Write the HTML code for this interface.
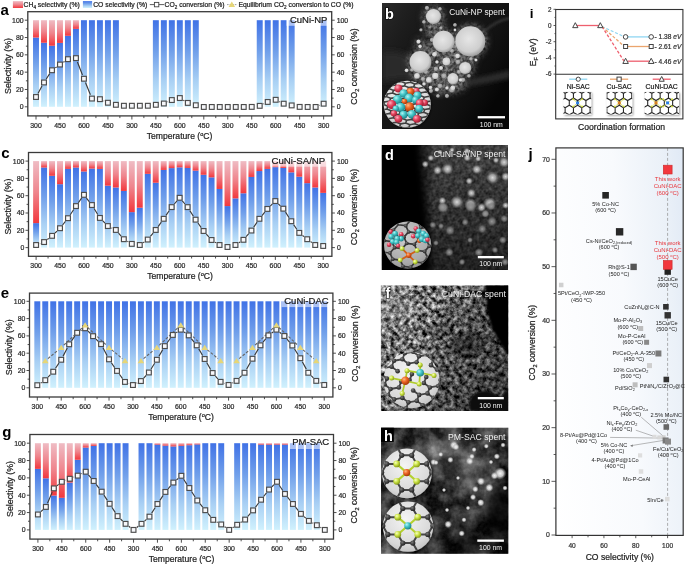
<!DOCTYPE html>
<html><head><meta charset="utf-8"><style>
html,body{margin:0;padding:0;background:#fff;}
body{width:685px;height:565px;overflow:hidden;position:relative;font-family:"Liberation Sans", sans-serif;}
svg{position:absolute;left:0;top:0;will-change:transform;}
</style></head><body>
<svg width="685" height="565" viewBox="0 0 685 565" font-family='"Liberation Sans", sans-serif'>
<defs>
<linearGradient id="gb" x1="0" y1="0" x2="0" y2="1">
 <stop offset="0" stop-color="#4072e6"/>
 <stop offset="0.35" stop-color="#6f9eea"/>
 <stop offset="0.7" stop-color="#a9d0f4"/>
 <stop offset="1" stop-color="#d0f1fd"/>
</linearGradient>
<linearGradient id="gr" x1="0" y1="0" x2="0" y2="1">
 <stop offset="0" stop-color="#efbcc4"/>
 <stop offset="0.5" stop-color="#ef858d"/>
 <stop offset="1" stop-color="#f2383d"/>
</linearGradient>

<radialGradient id="ballk" cx="0.38" cy="0.35" r="0.7"><stop offset="0" stop-color="#7a7a7a"/><stop offset="0.5" stop-color="#444"/><stop offset="1" stop-color="#1e1e1e"/></radialGradient>
<radialGradient id="ballc" cx="0.35" cy="0.32" r="0.72"><stop offset="0" stop-color="#b4f6f6"/><stop offset="0.45" stop-color="#44c6c8"/><stop offset="1" stop-color="#1c7c84"/></radialGradient>
<radialGradient id="ballr" cx="0.35" cy="0.32" r="0.72"><stop offset="0" stop-color="#ffb0c0"/><stop offset="0.45" stop-color="#e4445e"/><stop offset="1" stop-color="#9a1a30"/></radialGradient>
<radialGradient id="ballo" cx="0.35" cy="0.32" r="0.72"><stop offset="0" stop-color="#ffb880"/><stop offset="0.45" stop-color="#ec6424"/><stop offset="1" stop-color="#a03808"/></radialGradient>
<radialGradient id="bally" cx="0.35" cy="0.32" r="0.72"><stop offset="0" stop-color="#f6ffc0"/><stop offset="0.45" stop-color="#cce446"/><stop offset="1" stop-color="#809414"/></radialGradient>
<radialGradient id="insetbg" cx="0.45" cy="0.35" r="0.7"><stop offset="0" stop-color="#f4f4f4"/><stop offset="0.75" stop-color="#d8d8d8"/><stop offset="1" stop-color="#bdbdbd"/></radialGradient>
<radialGradient id="insetbg2" cx="0.45" cy="0.35" r="0.7"><stop offset="0" stop-color="#cdcdcd"/><stop offset="0.75" stop-color="#aaaaaa"/><stop offset="1" stop-color="#909090"/></radialGradient>
<radialGradient id="np" cx="0.45" cy="0.42" r="0.58"><stop offset="0" stop-color="#e6e6e6"/><stop offset="0.75" stop-color="#cecece"/><stop offset="1" stop-color="#a0a0a0"/></radialGradient>
<radialGradient id="np2" cx="0.45" cy="0.42" r="0.55"><stop offset="0" stop-color="#bdbdbd"/><stop offset="0.7" stop-color="#9c9c9c"/><stop offset="1" stop-color="#6a6a6a" stop-opacity="0.6"/></radialGradient>
<radialGradient id="dot" cx="0.5" cy="0.5" r="0.5"><stop offset="0" stop-color="#f6f6f6"/><stop offset="0.5" stop-color="#d4d4d4" stop-opacity="0.92"/><stop offset="1" stop-color="#999" stop-opacity="0"/></radialGradient>
<radialGradient id="dotd" cx="0.5" cy="0.5" r="0.5"><stop offset="0" stop-color="#dadada"/><stop offset="0.5" stop-color="#b2b2b2" stop-opacity="0.8"/><stop offset="1" stop-color="#777" stop-opacity="0"/></radialGradient>
<radialGradient id="dotdim" cx="0.5" cy="0.5" r="0.5"><stop offset="0" stop-color="#989898"/><stop offset="0.55" stop-color="#7c7c7c" stop-opacity="0.75"/><stop offset="1" stop-color="#555" stop-opacity="0"/></radialGradient>
<radialGradient id="soft" cx="0.5" cy="0.5" r="0.5"><stop offset="0" stop-color="#fff"/><stop offset="0.6" stop-color="#fff" stop-opacity="0.75"/><stop offset="1" stop-color="#fff" stop-opacity="0"/></radialGradient>
<radialGradient id="softk" cx="0.5" cy="0.5" r="0.5"><stop offset="0" stop-color="#000"/><stop offset="0.55" stop-color="#000" stop-opacity="0.8"/><stop offset="1" stop-color="#000" stop-opacity="0"/></radialGradient>
<filter id="blur05"><feGaussianBlur stdDeviation="0.5"/></filter>
<filter id="blur1"><feGaussianBlur stdDeviation="1"/></filter>
<filter id="blur2" x="-30%" y="-30%" width="160%" height="160%"><feGaussianBlur stdDeviation="2"/></filter>
<filter id="blur3" x="-30%" y="-30%" width="160%" height="160%"><feGaussianBlur stdDeviation="3"/></filter>
<filter id="blur5" x="-40%" y="-40%" width="180%" height="180%"><feGaussianBlur stdDeviation="5"/></filter>
<filter id="shadow" x="-20%" y="-20%" width="140%" height="140%"><feGaussianBlur in="SourceAlpha" stdDeviation="1.2"/><feOffset dx="0.6" dy="0.8" result="b"/><feFlood flood-color="#000" flood-opacity="0.5"/><feComposite in2="b" operator="in"/><feMerge><feMergeNode/><feMergeNode in="SourceGraphic"/></feMerge></filter>
<filter id="texB" x="0" y="0" width="100%" height="100%" color-interpolation-filters="sRGB"><feTurbulence type="fractalNoise" baseFrequency="0.35" numOctaves="2" seed="4"/><feColorMatrix type="matrix" values="0.7 0 0 0 0.010000000000000009  0.7 0 0 0 0.010000000000000009  0.7 0 0 0 0.010000000000000009  0 0 0 0 1"/><feGaussianBlur stdDeviation="0.5"/></filter><filter id="texD" x="0" y="0" width="100%" height="100%" color-interpolation-filters="sRGB"><feTurbulence type="fractalNoise" baseFrequency="0.25" numOctaves="3" seed="9"/><feColorMatrix type="matrix" values="0.34 0 0 0 0.03999999999999998  0.34 0 0 0 0.03999999999999998  0.34 0 0 0 0.03999999999999998  0 0 0 0 1"/><feGaussianBlur stdDeviation="0.5"/></filter><filter id="texF" x="0" y="0" width="100%" height="100%" color-interpolation-filters="sRGB"><feTurbulence type="fractalNoise" baseFrequency="0.22" numOctaves="3" seed="21"/><feColorMatrix type="matrix" values="1.75 0 0 0 -0.405  1.75 0 0 0 -0.405  1.75 0 0 0 -0.405  0 0 0 0 1"/></filter><filter id="texH" x="0" y="0" width="100%" height="100%" color-interpolation-filters="sRGB"><feTurbulence type="fractalNoise" baseFrequency="0.05" numOctaves="4" seed="13"/><feColorMatrix type="matrix" values="1.2 0 0 0 -0.42  1.2 0 0 0 -0.42  1.2 0 0 0 -0.42  0 0 0 0 1"/></filter><filter id="texH2" x="0" y="0" width="100%" height="100%" color-interpolation-filters="sRGB"><feTurbulence type="fractalNoise" baseFrequency="0.3" numOctaves="2" seed="17"/><feColorMatrix type="matrix" values="0.6 0 0 0 -0.09999999999999998  0.6 0 0 0 -0.09999999999999998  0.6 0 0 0 -0.09999999999999998  0 0 0 0 1"/></filter>
<linearGradient id="bbg" x1="0" y1="0" x2="1" y2="0.6"><stop offset="0" stop-color="#2e2e2e" stop-opacity="0.9"/><stop offset="0.4" stop-color="#1c1c1c" stop-opacity="0"/><stop offset="1" stop-color="#030303" stop-opacity="0.85"/></linearGradient>
<linearGradient id="dleft" x1="0" y1="0" x2="1" y2="0"><stop offset="0" stop-color="#020202"/><stop offset="0.25" stop-color="#030303"/><stop offset="0.31" stop-color="#000" stop-opacity="0.65"/><stop offset="0.42" stop-color="#000" stop-opacity="0"/><stop offset="1" stop-color="#000" stop-opacity="0"/></linearGradient>
<linearGradient id="dshade" x1="0" y1="0" x2="0" y2="1"><stop offset="0" stop-color="#fff" stop-opacity="0.06"/><stop offset="0.45" stop-color="#000" stop-opacity="0.05"/><stop offset="1" stop-color="#000" stop-opacity="0.4"/></linearGradient>
<linearGradient id="fshade" x1="0" y1="0" x2="1" y2="0.5"><stop offset="0" stop-color="#fff" stop-opacity="0.2"/><stop offset="0.35" stop-color="#000" stop-opacity="0.05"/><stop offset="0.7" stop-color="#000" stop-opacity="0.35"/><stop offset="1" stop-color="#000" stop-opacity="0.5"/></linearGradient>
<linearGradient id="hshade" x1="0" y1="0" x2="1" y2="1"><stop offset="0" stop-color="#fff" stop-opacity="0.05"/><stop offset="0.6" stop-color="#000" stop-opacity="0.1"/><stop offset="1" stop-color="#000" stop-opacity="0.55"/></linearGradient>

<linearGradient id="jbg" gradientUnits="userSpaceOnUse" x1="556" y1="535" x2="713.7" y2="522.1"><stop offset="0" stop-color="#ffffff"/><stop offset="0.55" stop-color="#f8fafd"/><stop offset="0.85" stop-color="#ebf1f8"/><stop offset="1" stop-color="#e0e9f5"/></linearGradient>
<filter id="tshadow" x="-20%" y="-20%" width="150%" height="150%"><feGaussianBlur in="SourceAlpha" stdDeviation="1"/><feOffset dx="1" dy="1.2" result="b"/><feFlood flood-color="#000" flood-opacity="0.4"/><feComposite in2="b" operator="in"/><feMerge><feMergeNode/><feMergeNode in="SourceGraphic"/></feMerge></filter>
</defs>
<rect x="33.02" y="37.52" width="5.95" height="69.28" fill="url(#gb)"/>
<rect x="33.02" y="20.2" width="5.95" height="17.32" fill="url(#gr)"/>
<rect x="41.02" y="42.72" width="5.95" height="64.08" fill="url(#gb)"/>
<rect x="41.02" y="20.2" width="5.95" height="22.52" fill="url(#gr)"/>
<rect x="49.01" y="45.75" width="5.95" height="61.05" fill="url(#gb)"/>
<rect x="49.01" y="20.2" width="5.95" height="25.55" fill="url(#gr)"/>
<rect x="56.99" y="42.89" width="5.95" height="63.91" fill="url(#gb)"/>
<rect x="56.99" y="20.2" width="5.95" height="22.69" fill="url(#gr)"/>
<rect x="64.99" y="35.79" width="5.95" height="71.01" fill="url(#gb)"/>
<rect x="64.99" y="20.2" width="5.95" height="15.59" fill="url(#gr)"/>
<rect x="72.98" y="28.86" width="5.95" height="77.94" fill="url(#gb)"/>
<rect x="72.98" y="20.2" width="5.95" height="8.66" fill="url(#gr)"/>
<rect x="80.97" y="20.2" width="5.95" height="86.6" fill="url(#gb)"/>
<rect x="88.96" y="20.2" width="5.95" height="86.6" fill="url(#gb)"/>
<rect x="96.95" y="20.2" width="5.95" height="86.6" fill="url(#gb)"/>
<rect x="104.94" y="20.2" width="5.95" height="86.6" fill="url(#gb)"/>
<rect x="112.93" y="20.2" width="5.95" height="86.6" fill="url(#gb)"/>
<rect x="152.88" y="20.2" width="5.95" height="86.6" fill="url(#gb)"/>
<rect x="160.87" y="20.2" width="5.95" height="86.6" fill="url(#gb)"/>
<rect x="168.86" y="20.2" width="5.95" height="86.6" fill="url(#gb)"/>
<rect x="176.84" y="20.2" width="5.95" height="86.6" fill="url(#gb)"/>
<rect x="184.84" y="20.2" width="5.95" height="86.6" fill="url(#gb)"/>
<rect x="192.83" y="20.2" width="5.95" height="86.6" fill="url(#gb)"/>
<rect x="256.75" y="20.2" width="5.95" height="86.6" fill="url(#gb)"/>
<rect x="264.74" y="20.2" width="5.95" height="86.6" fill="url(#gb)"/>
<rect x="272.73" y="20.2" width="5.95" height="86.6" fill="url(#gb)"/>
<rect x="280.71" y="20.2" width="5.95" height="86.6" fill="url(#gb)"/>
<rect x="288.7" y="20.2" width="5.95" height="86.6" fill="url(#gb)"/>
<rect x="320.66" y="20.2" width="5.95" height="86.6" fill="url(#gb)"/>
<line x1="37.97" y1="93.42" x2="42.02" y2="86.06" stroke="#3a3a3a" stroke-width="1.15"/>
<line x1="46.23" y1="79.03" x2="49.74" y2="73.69" stroke="#3a3a3a" stroke-width="1.15"/>
<line x1="55.31" y1="67.87" x2="56.64" y2="66.92" stroke="#3a3a3a" stroke-width="1.15"/>
<line x1="63.37" y1="62.25" x2="64.56" y2="61.46" stroke="#3a3a3a" stroke-width="1.15"/>
<line x1="77.43" y1="61.95" x2="82.46" y2="74.92" stroke="#3a3a3a" stroke-width="1.15"/>
<line x1="85.47" y1="82.54" x2="90.4" y2="94.77" stroke="#3a3a3a" stroke-width="1.15"/>
<line x1="103.67" y1="100.84" x2="104.16" y2="101.06" stroke="#3a3a3a" stroke-width="1.15"/>
<line x1="167.6" y1="101.88" x2="168.07" y2="101.68" stroke="#3a3a3a" stroke-width="1.15"/>
<line x1="183.32" y1="100.18" x2="184.31" y2="100.78" stroke="#3a3a3a" stroke-width="1.15"/>
<line x1="263.41" y1="104.05" x2="264.02" y2="103.75" stroke="#3a3a3a" stroke-width="1.15"/>
<line x1="279.39" y1="101.58" x2="280" y2="101.89" stroke="#3a3a3a" stroke-width="1.15"/>
<line x1="319.44" y1="105.41" x2="319.85" y2="105.24" stroke="#3a3a3a" stroke-width="1.15"/>
<rect x="33.6" y="94.61" width="4.8" height="4.8" fill="#f6f7fa" stroke="#4c4c4c" stroke-width="1.15"/>
<rect x="41.59" y="80.07" width="4.8" height="4.8" fill="#f6f7fa" stroke="#4c4c4c" stroke-width="1.15"/>
<rect x="49.58" y="67.85" width="4.8" height="4.8" fill="#f6f7fa" stroke="#4c4c4c" stroke-width="1.15"/>
<rect x="57.57" y="62.14" width="4.8" height="4.8" fill="#f6f7fa" stroke="#4c4c4c" stroke-width="1.15"/>
<rect x="65.56" y="56.77" width="4.8" height="4.8" fill="#f6f7fa" stroke="#4c4c4c" stroke-width="1.15"/>
<rect x="73.55" y="55.73" width="4.8" height="4.8" fill="#f6f7fa" stroke="#4c4c4c" stroke-width="1.15"/>
<rect x="81.54" y="76.34" width="4.8" height="4.8" fill="#f6f7fa" stroke="#4c4c4c" stroke-width="1.15"/>
<rect x="89.53" y="96.17" width="4.8" height="4.8" fill="#f6f7fa" stroke="#4c4c4c" stroke-width="1.15"/>
<rect x="97.52" y="96.78" width="4.8" height="4.8" fill="#f6f7fa" stroke="#4c4c4c" stroke-width="1.15"/>
<rect x="105.51" y="100.33" width="4.8" height="4.8" fill="#f6f7fa" stroke="#4c4c4c" stroke-width="1.15"/>
<rect x="113.5" y="102.41" width="4.8" height="4.8" fill="#f6f7fa" stroke="#4c4c4c" stroke-width="1.15"/>
<rect x="121.49" y="103.36" width="4.8" height="4.8" fill="#f6f7fa" stroke="#4c4c4c" stroke-width="1.15"/>
<rect x="129.48" y="103.36" width="4.8" height="4.8" fill="#f6f7fa" stroke="#4c4c4c" stroke-width="1.15"/>
<rect x="137.47" y="103.36" width="4.8" height="4.8" fill="#f6f7fa" stroke="#4c4c4c" stroke-width="1.15"/>
<rect x="145.46" y="103.36" width="4.8" height="4.8" fill="#f6f7fa" stroke="#4c4c4c" stroke-width="1.15"/>
<rect x="153.45" y="102.41" width="4.8" height="4.8" fill="#f6f7fa" stroke="#4c4c4c" stroke-width="1.15"/>
<rect x="161.44" y="101.11" width="4.8" height="4.8" fill="#f6f7fa" stroke="#4c4c4c" stroke-width="1.15"/>
<rect x="169.43" y="97.65" width="4.8" height="4.8" fill="#f6f7fa" stroke="#4c4c4c" stroke-width="1.15"/>
<rect x="177.42" y="95.65" width="4.8" height="4.8" fill="#f6f7fa" stroke="#4c4c4c" stroke-width="1.15"/>
<rect x="185.41" y="100.5" width="4.8" height="4.8" fill="#f6f7fa" stroke="#4c4c4c" stroke-width="1.15"/>
<rect x="193.4" y="102.84" width="4.8" height="4.8" fill="#f6f7fa" stroke="#4c4c4c" stroke-width="1.15"/>
<rect x="201.39" y="104.57" width="4.8" height="4.8" fill="#f6f7fa" stroke="#4c4c4c" stroke-width="1.15"/>
<rect x="209.38" y="104.57" width="4.8" height="4.8" fill="#f6f7fa" stroke="#4c4c4c" stroke-width="1.15"/>
<rect x="217.37" y="104.57" width="4.8" height="4.8" fill="#f6f7fa" stroke="#4c4c4c" stroke-width="1.15"/>
<rect x="225.36" y="104.57" width="4.8" height="4.8" fill="#f6f7fa" stroke="#4c4c4c" stroke-width="1.15"/>
<rect x="233.35" y="104.57" width="4.8" height="4.8" fill="#f6f7fa" stroke="#4c4c4c" stroke-width="1.15"/>
<rect x="241.34" y="104.57" width="4.8" height="4.8" fill="#f6f7fa" stroke="#4c4c4c" stroke-width="1.15"/>
<rect x="249.33" y="104.49" width="4.8" height="4.8" fill="#f6f7fa" stroke="#4c4c4c" stroke-width="1.15"/>
<rect x="257.32" y="103.45" width="4.8" height="4.8" fill="#f6f7fa" stroke="#4c4c4c" stroke-width="1.15"/>
<rect x="265.31" y="99.55" width="4.8" height="4.8" fill="#f6f7fa" stroke="#4c4c4c" stroke-width="1.15"/>
<rect x="273.3" y="97.39" width="4.8" height="4.8" fill="#f6f7fa" stroke="#4c4c4c" stroke-width="1.15"/>
<rect x="281.29" y="101.28" width="4.8" height="4.8" fill="#f6f7fa" stroke="#4c4c4c" stroke-width="1.15"/>
<rect x="289.28" y="103.01" width="4.8" height="4.8" fill="#f6f7fa" stroke="#4c4c4c" stroke-width="1.15"/>
<rect x="297.27" y="104.49" width="4.8" height="4.8" fill="#f6f7fa" stroke="#4c4c4c" stroke-width="1.15"/>
<rect x="305.26" y="104.57" width="4.8" height="4.8" fill="#f6f7fa" stroke="#4c4c4c" stroke-width="1.15"/>
<rect x="313.25" y="104.57" width="4.8" height="4.8" fill="#f6f7fa" stroke="#4c4c4c" stroke-width="1.15"/>
<rect x="321.24" y="101.28" width="4.8" height="4.8" fill="#f6f7fa" stroke="#4c4c4c" stroke-width="1.15"/>
<rect x="286.5" y="13.5" width="44.5" height="12.3" fill="#fff" fill-opacity="0.55"/>
<text x="327.4" y="22.9" font-size="9.5" text-anchor="end" fill="#1a1a1a" stroke="#1a1a1a" stroke-width="0.22">CuNi-NP</text>
<rect x="27.8" y="11.7" width="303.9" height="104.2" fill="none" stroke="#3a3a3a" stroke-width="1.3"/>
<line x1="24.8" y1="106.8" x2="27.8" y2="106.8" stroke="#3a3a3a" stroke-width="0.9"/>
<line x1="331.7" y1="106.8" x2="334.7" y2="106.8" stroke="#3a3a3a" stroke-width="0.9"/>
<text x="23.6" y="109.2" font-size="6.9" text-anchor="end" fill="#2a2a2a" stroke="#2a2a2a" stroke-width="0.22">0</text>
<text x="336.7" y="109.2" font-size="6.9" fill="#2a2a2a" stroke="#2a2a2a" stroke-width="0.22">0</text>
<line x1="25.9" y1="98.14" x2="27.8" y2="98.14" stroke="#3a3a3a" stroke-width="0.9"/>
<line x1="331.7" y1="98.14" x2="333.6" y2="98.14" stroke="#3a3a3a" stroke-width="0.9"/>
<line x1="24.8" y1="89.48" x2="27.8" y2="89.48" stroke="#3a3a3a" stroke-width="0.9"/>
<line x1="331.7" y1="89.48" x2="334.7" y2="89.48" stroke="#3a3a3a" stroke-width="0.9"/>
<text x="23.6" y="91.88" font-size="6.9" text-anchor="end" fill="#2a2a2a" stroke="#2a2a2a" stroke-width="0.22">20</text>
<text x="336.7" y="91.88" font-size="6.9" fill="#2a2a2a" stroke="#2a2a2a" stroke-width="0.22">20</text>
<line x1="25.9" y1="80.82" x2="27.8" y2="80.82" stroke="#3a3a3a" stroke-width="0.9"/>
<line x1="331.7" y1="80.82" x2="333.6" y2="80.82" stroke="#3a3a3a" stroke-width="0.9"/>
<line x1="24.8" y1="72.16" x2="27.8" y2="72.16" stroke="#3a3a3a" stroke-width="0.9"/>
<line x1="331.7" y1="72.16" x2="334.7" y2="72.16" stroke="#3a3a3a" stroke-width="0.9"/>
<text x="23.6" y="74.56" font-size="6.9" text-anchor="end" fill="#2a2a2a" stroke="#2a2a2a" stroke-width="0.22">40</text>
<text x="336.7" y="74.56" font-size="6.9" fill="#2a2a2a" stroke="#2a2a2a" stroke-width="0.22">40</text>
<line x1="25.9" y1="63.5" x2="27.8" y2="63.5" stroke="#3a3a3a" stroke-width="0.9"/>
<line x1="331.7" y1="63.5" x2="333.6" y2="63.5" stroke="#3a3a3a" stroke-width="0.9"/>
<line x1="24.8" y1="54.84" x2="27.8" y2="54.84" stroke="#3a3a3a" stroke-width="0.9"/>
<line x1="331.7" y1="54.84" x2="334.7" y2="54.84" stroke="#3a3a3a" stroke-width="0.9"/>
<text x="23.6" y="57.24" font-size="6.9" text-anchor="end" fill="#2a2a2a" stroke="#2a2a2a" stroke-width="0.22">60</text>
<text x="336.7" y="57.24" font-size="6.9" fill="#2a2a2a" stroke="#2a2a2a" stroke-width="0.22">60</text>
<line x1="25.9" y1="46.18" x2="27.8" y2="46.18" stroke="#3a3a3a" stroke-width="0.9"/>
<line x1="331.7" y1="46.18" x2="333.6" y2="46.18" stroke="#3a3a3a" stroke-width="0.9"/>
<line x1="24.8" y1="37.52" x2="27.8" y2="37.52" stroke="#3a3a3a" stroke-width="0.9"/>
<line x1="331.7" y1="37.52" x2="334.7" y2="37.52" stroke="#3a3a3a" stroke-width="0.9"/>
<text x="23.6" y="39.92" font-size="6.9" text-anchor="end" fill="#2a2a2a" stroke="#2a2a2a" stroke-width="0.22">80</text>
<text x="336.7" y="39.92" font-size="6.9" fill="#2a2a2a" stroke="#2a2a2a" stroke-width="0.22">80</text>
<line x1="25.9" y1="28.86" x2="27.8" y2="28.86" stroke="#3a3a3a" stroke-width="0.9"/>
<line x1="331.7" y1="28.86" x2="333.6" y2="28.86" stroke="#3a3a3a" stroke-width="0.9"/>
<line x1="24.8" y1="20.2" x2="27.8" y2="20.2" stroke="#3a3a3a" stroke-width="0.9"/>
<line x1="331.7" y1="20.2" x2="334.7" y2="20.2" stroke="#3a3a3a" stroke-width="0.9"/>
<text x="23.6" y="22.6" font-size="6.9" text-anchor="end" fill="#2a2a2a" stroke="#2a2a2a" stroke-width="0.22">100</text>
<text x="336.7" y="22.6" font-size="6.9" fill="#2a2a2a" stroke="#2a2a2a" stroke-width="0.22">100</text>
<line x1="36" y1="115.9" x2="36" y2="119.5" stroke="#3a3a3a" stroke-width="0.9"/>
<text x="36" y="127.7" font-size="6.9" text-anchor="middle" fill="#2a2a2a" stroke="#2a2a2a" stroke-width="0.22">300</text>
<line x1="47.98" y1="115.9" x2="47.98" y2="118.1" stroke="#3a3a3a" stroke-width="0.9"/>
<line x1="59.97" y1="115.9" x2="59.97" y2="119.5" stroke="#3a3a3a" stroke-width="0.9"/>
<text x="59.97" y="127.7" font-size="6.9" text-anchor="middle" fill="#2a2a2a" stroke="#2a2a2a" stroke-width="0.22">450</text>
<line x1="71.95" y1="115.9" x2="71.95" y2="118.1" stroke="#3a3a3a" stroke-width="0.9"/>
<line x1="83.94" y1="115.9" x2="83.94" y2="119.5" stroke="#3a3a3a" stroke-width="0.9"/>
<text x="83.94" y="127.7" font-size="6.9" text-anchor="middle" fill="#2a2a2a" stroke="#2a2a2a" stroke-width="0.22">600</text>
<line x1="95.93" y1="115.9" x2="95.93" y2="118.1" stroke="#3a3a3a" stroke-width="0.9"/>
<line x1="107.91" y1="115.9" x2="107.91" y2="119.5" stroke="#3a3a3a" stroke-width="0.9"/>
<text x="107.91" y="127.7" font-size="6.9" text-anchor="middle" fill="#2a2a2a" stroke="#2a2a2a" stroke-width="0.22">450</text>
<line x1="119.89" y1="115.9" x2="119.89" y2="118.1" stroke="#3a3a3a" stroke-width="0.9"/>
<line x1="131.88" y1="115.9" x2="131.88" y2="119.5" stroke="#3a3a3a" stroke-width="0.9"/>
<text x="131.88" y="127.7" font-size="6.9" text-anchor="middle" fill="#2a2a2a" stroke="#2a2a2a" stroke-width="0.22">300</text>
<line x1="143.87" y1="115.9" x2="143.87" y2="118.1" stroke="#3a3a3a" stroke-width="0.9"/>
<line x1="155.85" y1="115.9" x2="155.85" y2="119.5" stroke="#3a3a3a" stroke-width="0.9"/>
<text x="155.85" y="127.7" font-size="6.9" text-anchor="middle" fill="#2a2a2a" stroke="#2a2a2a" stroke-width="0.22">450</text>
<line x1="167.84" y1="115.9" x2="167.84" y2="118.1" stroke="#3a3a3a" stroke-width="0.9"/>
<line x1="179.82" y1="115.9" x2="179.82" y2="119.5" stroke="#3a3a3a" stroke-width="0.9"/>
<text x="179.82" y="127.7" font-size="6.9" text-anchor="middle" fill="#2a2a2a" stroke="#2a2a2a" stroke-width="0.22">600</text>
<line x1="191.81" y1="115.9" x2="191.81" y2="118.1" stroke="#3a3a3a" stroke-width="0.9"/>
<line x1="203.79" y1="115.9" x2="203.79" y2="119.5" stroke="#3a3a3a" stroke-width="0.9"/>
<text x="203.79" y="127.7" font-size="6.9" text-anchor="middle" fill="#2a2a2a" stroke="#2a2a2a" stroke-width="0.22">450</text>
<line x1="215.78" y1="115.9" x2="215.78" y2="118.1" stroke="#3a3a3a" stroke-width="0.9"/>
<line x1="227.76" y1="115.9" x2="227.76" y2="119.5" stroke="#3a3a3a" stroke-width="0.9"/>
<text x="227.76" y="127.7" font-size="6.9" text-anchor="middle" fill="#2a2a2a" stroke="#2a2a2a" stroke-width="0.22">300</text>
<line x1="239.75" y1="115.9" x2="239.75" y2="118.1" stroke="#3a3a3a" stroke-width="0.9"/>
<line x1="251.73" y1="115.9" x2="251.73" y2="119.5" stroke="#3a3a3a" stroke-width="0.9"/>
<text x="251.73" y="127.7" font-size="6.9" text-anchor="middle" fill="#2a2a2a" stroke="#2a2a2a" stroke-width="0.22">450</text>
<line x1="263.72" y1="115.9" x2="263.72" y2="118.1" stroke="#3a3a3a" stroke-width="0.9"/>
<line x1="275.7" y1="115.9" x2="275.7" y2="119.5" stroke="#3a3a3a" stroke-width="0.9"/>
<text x="275.7" y="127.7" font-size="6.9" text-anchor="middle" fill="#2a2a2a" stroke="#2a2a2a" stroke-width="0.22">600</text>
<line x1="287.69" y1="115.9" x2="287.69" y2="118.1" stroke="#3a3a3a" stroke-width="0.9"/>
<line x1="299.67" y1="115.9" x2="299.67" y2="119.5" stroke="#3a3a3a" stroke-width="0.9"/>
<text x="299.67" y="127.7" font-size="6.9" text-anchor="middle" fill="#2a2a2a" stroke="#2a2a2a" stroke-width="0.22">450</text>
<line x1="311.66" y1="115.9" x2="311.66" y2="118.1" stroke="#3a3a3a" stroke-width="0.9"/>
<line x1="323.64" y1="115.9" x2="323.64" y2="119.5" stroke="#3a3a3a" stroke-width="0.9"/>
<text x="323.64" y="127.7" font-size="6.9" text-anchor="middle" fill="#2a2a2a" stroke="#2a2a2a" stroke-width="0.22">300</text>
<text transform="translate(10.5,66) rotate(-90)" font-size="8.85" text-anchor="middle" fill="#222" stroke="#222" stroke-width="0.22">Selectivity (%)</text>
<text transform="translate(357,66.5) rotate(-90)" font-size="8.7" text-anchor="middle" fill="#222" stroke="#222" stroke-width="0.22">CO<tspan font-size="5.5" dy="1.8">2</tspan><tspan dy="-1.8"> conversion (%)</tspan></text>
<text x="179.55" y="138.7" font-size="8.6" text-anchor="middle" fill="#222" stroke="#222" stroke-width="0.22">Temperature (<tspan font-size="5.5" dy="-2.8">o</tspan><tspan dy="2.8">C)</tspan></text>
<text x="0.4" y="15" font-size="15" font-weight="bold" fill="#000">a</text>
<rect x="33.12" y="223.12" width="5.95" height="24.48" fill="url(#gb)"/>
<rect x="33.12" y="161.1" width="5.95" height="62.02" fill="url(#gr)"/>
<rect x="41.1" y="167.5" width="5.95" height="80.1" fill="url(#gb)"/>
<rect x="41.1" y="161.1" width="5.95" height="6.4" fill="url(#gr)"/>
<rect x="49.07" y="175.81" width="5.95" height="71.8" fill="url(#gb)"/>
<rect x="49.07" y="161.1" width="5.95" height="14.71" fill="url(#gr)"/>
<rect x="57.05" y="184.2" width="5.95" height="63.4" fill="url(#gb)"/>
<rect x="57.05" y="161.1" width="5.95" height="23.1" fill="url(#gr)"/>
<rect x="65.03" y="168.88" width="5.95" height="78.72" fill="url(#gb)"/>
<rect x="65.03" y="161.1" width="5.95" height="7.79" fill="url(#gr)"/>
<rect x="73" y="167.5" width="5.95" height="80.1" fill="url(#gb)"/>
<rect x="73" y="161.1" width="5.95" height="6.4" fill="url(#gr)"/>
<rect x="80.97" y="171.48" width="5.95" height="76.12" fill="url(#gb)"/>
<rect x="80.97" y="161.1" width="5.95" height="10.38" fill="url(#gr)"/>
<rect x="88.95" y="168.54" width="5.95" height="79.06" fill="url(#gb)"/>
<rect x="88.95" y="161.1" width="5.95" height="7.44" fill="url(#gr)"/>
<rect x="96.93" y="168.88" width="5.95" height="78.72" fill="url(#gb)"/>
<rect x="96.93" y="161.1" width="5.95" height="7.79" fill="url(#gr)"/>
<rect x="104.9" y="185.67" width="5.95" height="61.93" fill="url(#gb)"/>
<rect x="104.9" y="161.1" width="5.95" height="24.57" fill="url(#gr)"/>
<rect x="112.88" y="187.48" width="5.95" height="60.12" fill="url(#gb)"/>
<rect x="112.88" y="161.1" width="5.95" height="26.38" fill="url(#gr)"/>
<rect x="120.85" y="190.94" width="5.95" height="56.66" fill="url(#gb)"/>
<rect x="120.85" y="161.1" width="5.95" height="29.84" fill="url(#gr)"/>
<rect x="128.82" y="212.13" width="5.95" height="35.46" fill="url(#gb)"/>
<rect x="128.82" y="161.1" width="5.95" height="51.03" fill="url(#gr)"/>
<rect x="136.8" y="207.72" width="5.95" height="39.88" fill="url(#gb)"/>
<rect x="136.8" y="161.1" width="5.95" height="46.62" fill="url(#gr)"/>
<rect x="144.78" y="173.82" width="5.95" height="73.78" fill="url(#gb)"/>
<rect x="144.78" y="161.1" width="5.95" height="12.72" fill="url(#gr)"/>
<rect x="152.75" y="182.72" width="5.95" height="64.88" fill="url(#gb)"/>
<rect x="152.75" y="161.1" width="5.95" height="21.62" fill="url(#gr)"/>
<rect x="160.72" y="169.92" width="5.95" height="77.68" fill="url(#gb)"/>
<rect x="160.72" y="161.1" width="5.95" height="8.82" fill="url(#gr)"/>
<rect x="168.7" y="168.11" width="5.95" height="79.49" fill="url(#gb)"/>
<rect x="168.7" y="161.1" width="5.95" height="7.01" fill="url(#gr)"/>
<rect x="176.67" y="167.33" width="5.95" height="80.27" fill="url(#gb)"/>
<rect x="176.67" y="161.1" width="5.95" height="6.23" fill="url(#gr)"/>
<rect x="184.65" y="167.93" width="5.95" height="79.67" fill="url(#gb)"/>
<rect x="184.65" y="161.1" width="5.95" height="6.83" fill="url(#gr)"/>
<rect x="192.62" y="170.62" width="5.95" height="76.98" fill="url(#gb)"/>
<rect x="192.62" y="161.1" width="5.95" height="9.52" fill="url(#gr)"/>
<rect x="200.6" y="174.77" width="5.95" height="72.83" fill="url(#gb)"/>
<rect x="200.6" y="161.1" width="5.95" height="13.67" fill="url(#gr)"/>
<rect x="208.57" y="177.36" width="5.95" height="70.24" fill="url(#gb)"/>
<rect x="208.57" y="161.1" width="5.95" height="16.26" fill="url(#gr)"/>
<rect x="216.55" y="188.95" width="5.95" height="58.65" fill="url(#gb)"/>
<rect x="216.55" y="161.1" width="5.95" height="27.85" fill="url(#gr)"/>
<rect x="224.52" y="206.08" width="5.95" height="41.52" fill="url(#gb)"/>
<rect x="224.52" y="161.1" width="5.95" height="44.98" fill="url(#gr)"/>
<rect x="232.5" y="198.38" width="5.95" height="49.22" fill="url(#gb)"/>
<rect x="232.5" y="161.1" width="5.95" height="37.28" fill="url(#gr)"/>
<rect x="240.47" y="193.28" width="5.95" height="54.32" fill="url(#gb)"/>
<rect x="240.47" y="161.1" width="5.95" height="32.18" fill="url(#gr)"/>
<rect x="248.45" y="176.93" width="5.95" height="70.67" fill="url(#gb)"/>
<rect x="248.45" y="161.1" width="5.95" height="15.83" fill="url(#gr)"/>
<rect x="256.42" y="171.05" width="5.95" height="76.55" fill="url(#gb)"/>
<rect x="256.42" y="161.1" width="5.95" height="9.95" fill="url(#gr)"/>
<rect x="264.4" y="168.88" width="5.95" height="78.72" fill="url(#gb)"/>
<rect x="264.4" y="161.1" width="5.95" height="7.79" fill="url(#gr)"/>
<rect x="272.38" y="167.16" width="5.95" height="80.44" fill="url(#gb)"/>
<rect x="272.38" y="161.1" width="5.95" height="6.05" fill="url(#gr)"/>
<rect x="280.35" y="167.93" width="5.95" height="79.67" fill="url(#gb)"/>
<rect x="280.35" y="161.1" width="5.95" height="6.83" fill="url(#gr)"/>
<rect x="288.32" y="172.34" width="5.95" height="75.25" fill="url(#gb)"/>
<rect x="288.32" y="161.1" width="5.95" height="11.24" fill="url(#gr)"/>
<rect x="296.3" y="176.67" width="5.95" height="70.93" fill="url(#gb)"/>
<rect x="296.3" y="161.1" width="5.95" height="15.57" fill="url(#gr)"/>
<rect x="304.27" y="183.16" width="5.95" height="64.44" fill="url(#gb)"/>
<rect x="304.27" y="161.1" width="5.95" height="22.06" fill="url(#gr)"/>
<rect x="312.25" y="187.48" width="5.95" height="60.12" fill="url(#gb)"/>
<rect x="312.25" y="161.1" width="5.95" height="26.38" fill="url(#gr)"/>
<rect x="320.22" y="192.85" width="5.95" height="54.75" fill="url(#gb)"/>
<rect x="320.22" y="161.1" width="5.95" height="31.75" fill="url(#gr)"/>
<line x1="39.95" y1="243.59" x2="40.23" y2="243.48" stroke="#3a3a3a" stroke-width="1.15"/>
<line x1="47.31" y1="239.54" x2="48.82" y2="238.36" stroke="#3a3a3a" stroke-width="1.15"/>
<line x1="55.02" y1="233.01" x2="57.06" y2="231.05" stroke="#3a3a3a" stroke-width="1.15"/>
<line x1="62.58" y1="225.01" x2="65.45" y2="221.4" stroke="#3a3a3a" stroke-width="1.15"/>
<line x1="70.25" y1="214.77" x2="73.72" y2="209.5" stroke="#3a3a3a" stroke-width="1.15"/>
<line x1="78.35" y1="202.74" x2="81.58" y2="198.18" stroke="#3a3a3a" stroke-width="1.15"/>
<line x1="86.47" y1="198.07" x2="89.4" y2="201.81" stroke="#3a3a3a" stroke-width="1.15"/>
<line x1="94.08" y1="208.53" x2="97.74" y2="214.44" stroke="#3a3a3a" stroke-width="1.15"/>
<line x1="102.77" y1="220.86" x2="105" y2="223.13" stroke="#3a3a3a" stroke-width="1.15"/>
<line x1="111.56" y1="227.86" x2="112.17" y2="228.16" stroke="#3a3a3a" stroke-width="1.15"/>
<line x1="118.53" y1="233.06" x2="121.15" y2="236.1" stroke="#3a3a3a" stroke-width="1.15"/>
<line x1="127.36" y1="241.28" x2="128.26" y2="241.81" stroke="#3a3a3a" stroke-width="1.15"/>
<line x1="143.16" y1="242.69" x2="144.36" y2="241.87" stroke="#3a3a3a" stroke-width="1.15"/>
<line x1="150.37" y1="236.4" x2="153.11" y2="233.11" stroke="#3a3a3a" stroke-width="1.15"/>
<line x1="158.11" y1="226.62" x2="161.32" y2="222.13" stroke="#3a3a3a" stroke-width="1.15"/>
<line x1="166.01" y1="215.41" x2="169.36" y2="210.5" stroke="#3a3a3a" stroke-width="1.15"/>
<line x1="174.34" y1="204" x2="176.99" y2="200.89" stroke="#3a3a3a" stroke-width="1.15"/>
<line x1="182.31" y1="200.89" x2="184.96" y2="204" stroke="#3a3a3a" stroke-width="1.15"/>
<line x1="189.82" y1="210.58" x2="193.4" y2="216.2" stroke="#3a3a3a" stroke-width="1.15"/>
<line x1="197.96" y1="223.01" x2="201.22" y2="227.64" stroke="#3a3a3a" stroke-width="1.15"/>
<line x1="206.29" y1="234.06" x2="208.83" y2="236.92" stroke="#3a3a3a" stroke-width="1.15"/>
<line x1="215.02" y1="242.17" x2="216.05" y2="242.82" stroke="#3a3a3a" stroke-width="1.15"/>
<line x1="238.91" y1="242.77" x2="240.01" y2="242.05" stroke="#3a3a3a" stroke-width="1.15"/>
<line x1="246.13" y1="236.71" x2="248.75" y2="233.67" stroke="#3a3a3a" stroke-width="1.15"/>
<line x1="253.73" y1="227.17" x2="257.1" y2="222.19" stroke="#3a3a3a" stroke-width="1.15"/>
<line x1="261.98" y1="215.61" x2="264.8" y2="212.12" stroke="#3a3a3a" stroke-width="1.15"/>
<line x1="270.29" y1="206.05" x2="272.43" y2="203.94" stroke="#3a3a3a" stroke-width="1.15"/>
<line x1="278.32" y1="203.89" x2="280.36" y2="205.84" stroke="#3a3a3a" stroke-width="1.15"/>
<line x1="285.52" y1="212.13" x2="289.1" y2="217.76" stroke="#3a3a3a" stroke-width="1.15"/>
<line x1="293.61" y1="224.6" x2="296.96" y2="229.51" stroke="#3a3a3a" stroke-width="1.15"/>
<line x1="302.49" y1="235.44" x2="304.04" y2="236.66" stroke="#3a3a3a" stroke-width="1.15"/>
<line x1="310.57" y1="241.62" x2="311.91" y2="242.59" stroke="#3a3a3a" stroke-width="1.15"/>
<rect x="33.7" y="242.6" width="4.8" height="4.8" fill="#f6f7fa" stroke="#4c4c4c" stroke-width="1.15"/>
<rect x="41.68" y="239.66" width="4.8" height="4.8" fill="#f6f7fa" stroke="#4c4c4c" stroke-width="1.15"/>
<rect x="49.65" y="233.44" width="4.8" height="4.8" fill="#f6f7fa" stroke="#4c4c4c" stroke-width="1.15"/>
<rect x="57.62" y="225.82" width="4.8" height="4.8" fill="#f6f7fa" stroke="#4c4c4c" stroke-width="1.15"/>
<rect x="65.6" y="215.79" width="4.8" height="4.8" fill="#f6f7fa" stroke="#4c4c4c" stroke-width="1.15"/>
<rect x="73.57" y="203.68" width="4.8" height="4.8" fill="#f6f7fa" stroke="#4c4c4c" stroke-width="1.15"/>
<rect x="81.55" y="192.43" width="4.8" height="4.8" fill="#f6f7fa" stroke="#4c4c4c" stroke-width="1.15"/>
<rect x="89.52" y="202.64" width="4.8" height="4.8" fill="#f6f7fa" stroke="#4c4c4c" stroke-width="1.15"/>
<rect x="97.5" y="215.53" width="4.8" height="4.8" fill="#f6f7fa" stroke="#4c4c4c" stroke-width="1.15"/>
<rect x="105.47" y="223.66" width="4.8" height="4.8" fill="#f6f7fa" stroke="#4c4c4c" stroke-width="1.15"/>
<rect x="113.45" y="227.55" width="4.8" height="4.8" fill="#f6f7fa" stroke="#4c4c4c" stroke-width="1.15"/>
<rect x="121.42" y="236.81" width="4.8" height="4.8" fill="#f6f7fa" stroke="#4c4c4c" stroke-width="1.15"/>
<rect x="129.4" y="241.48" width="4.8" height="4.8" fill="#f6f7fa" stroke="#4c4c4c" stroke-width="1.15"/>
<rect x="137.38" y="242.6" width="4.8" height="4.8" fill="#f6f7fa" stroke="#4c4c4c" stroke-width="1.15"/>
<rect x="145.35" y="237.16" width="4.8" height="4.8" fill="#f6f7fa" stroke="#4c4c4c" stroke-width="1.15"/>
<rect x="153.32" y="227.55" width="4.8" height="4.8" fill="#f6f7fa" stroke="#4c4c4c" stroke-width="1.15"/>
<rect x="161.3" y="216.4" width="4.8" height="4.8" fill="#f6f7fa" stroke="#4c4c4c" stroke-width="1.15"/>
<rect x="169.27" y="204.72" width="4.8" height="4.8" fill="#f6f7fa" stroke="#4c4c4c" stroke-width="1.15"/>
<rect x="177.25" y="195.38" width="4.8" height="4.8" fill="#f6f7fa" stroke="#4c4c4c" stroke-width="1.15"/>
<rect x="185.22" y="204.72" width="4.8" height="4.8" fill="#f6f7fa" stroke="#4c4c4c" stroke-width="1.15"/>
<rect x="193.2" y="217.26" width="4.8" height="4.8" fill="#f6f7fa" stroke="#4c4c4c" stroke-width="1.15"/>
<rect x="201.17" y="228.59" width="4.8" height="4.8" fill="#f6f7fa" stroke="#4c4c4c" stroke-width="1.15"/>
<rect x="209.15" y="237.59" width="4.8" height="4.8" fill="#f6f7fa" stroke="#4c4c4c" stroke-width="1.15"/>
<rect x="217.12" y="242.6" width="4.8" height="4.8" fill="#f6f7fa" stroke="#4c4c4c" stroke-width="1.15"/>
<rect x="225.1" y="244.59" width="4.8" height="4.8" fill="#f6f7fa" stroke="#4c4c4c" stroke-width="1.15"/>
<rect x="233.07" y="242.6" width="4.8" height="4.8" fill="#f6f7fa" stroke="#4c4c4c" stroke-width="1.15"/>
<rect x="241.05" y="237.41" width="4.8" height="4.8" fill="#f6f7fa" stroke="#4c4c4c" stroke-width="1.15"/>
<rect x="249.02" y="228.16" width="4.8" height="4.8" fill="#f6f7fa" stroke="#4c4c4c" stroke-width="1.15"/>
<rect x="257" y="216.4" width="4.8" height="4.8" fill="#f6f7fa" stroke="#4c4c4c" stroke-width="1.15"/>
<rect x="264.98" y="206.53" width="4.8" height="4.8" fill="#f6f7fa" stroke="#4c4c4c" stroke-width="1.15"/>
<rect x="272.95" y="198.66" width="4.8" height="4.8" fill="#f6f7fa" stroke="#4c4c4c" stroke-width="1.15"/>
<rect x="280.93" y="206.28" width="4.8" height="4.8" fill="#f6f7fa" stroke="#4c4c4c" stroke-width="1.15"/>
<rect x="288.9" y="218.82" width="4.8" height="4.8" fill="#f6f7fa" stroke="#4c4c4c" stroke-width="1.15"/>
<rect x="296.88" y="230.49" width="4.8" height="4.8" fill="#f6f7fa" stroke="#4c4c4c" stroke-width="1.15"/>
<rect x="304.85" y="236.81" width="4.8" height="4.8" fill="#f6f7fa" stroke="#4c4c4c" stroke-width="1.15"/>
<rect x="312.83" y="242.6" width="4.8" height="4.8" fill="#f6f7fa" stroke="#4c4c4c" stroke-width="1.15"/>
<rect x="320.8" y="243.56" width="4.8" height="4.8" fill="#f6f7fa" stroke="#4c4c4c" stroke-width="1.15"/>
<rect x="270" y="154.5" width="61" height="12.2" fill="#fff" fill-opacity="0.55"/>
<text x="325.3" y="163.7" font-size="9.7" text-anchor="end" fill="#1a1a1a" stroke="#1a1a1a" stroke-width="0.22">CuNi-SA/NP</text>
<rect x="28.5" y="152.5" width="303.4" height="103.8" fill="none" stroke="#3a3a3a" stroke-width="1.3"/>
<line x1="25.5" y1="247.6" x2="28.5" y2="247.6" stroke="#3a3a3a" stroke-width="0.9"/>
<line x1="331.9" y1="247.6" x2="334.9" y2="247.6" stroke="#3a3a3a" stroke-width="0.9"/>
<text x="24.3" y="250" font-size="6.9" text-anchor="end" fill="#2a2a2a" stroke="#2a2a2a" stroke-width="0.22">0</text>
<text x="336.9" y="250" font-size="6.9" fill="#2a2a2a" stroke="#2a2a2a" stroke-width="0.22">0</text>
<line x1="26.6" y1="238.95" x2="28.5" y2="238.95" stroke="#3a3a3a" stroke-width="0.9"/>
<line x1="331.9" y1="238.95" x2="333.8" y2="238.95" stroke="#3a3a3a" stroke-width="0.9"/>
<line x1="25.5" y1="230.3" x2="28.5" y2="230.3" stroke="#3a3a3a" stroke-width="0.9"/>
<line x1="331.9" y1="230.3" x2="334.9" y2="230.3" stroke="#3a3a3a" stroke-width="0.9"/>
<text x="24.3" y="232.7" font-size="6.9" text-anchor="end" fill="#2a2a2a" stroke="#2a2a2a" stroke-width="0.22">20</text>
<text x="336.9" y="232.7" font-size="6.9" fill="#2a2a2a" stroke="#2a2a2a" stroke-width="0.22">20</text>
<line x1="26.6" y1="221.65" x2="28.5" y2="221.65" stroke="#3a3a3a" stroke-width="0.9"/>
<line x1="331.9" y1="221.65" x2="333.8" y2="221.65" stroke="#3a3a3a" stroke-width="0.9"/>
<line x1="25.5" y1="213" x2="28.5" y2="213" stroke="#3a3a3a" stroke-width="0.9"/>
<line x1="331.9" y1="213" x2="334.9" y2="213" stroke="#3a3a3a" stroke-width="0.9"/>
<text x="24.3" y="215.4" font-size="6.9" text-anchor="end" fill="#2a2a2a" stroke="#2a2a2a" stroke-width="0.22">40</text>
<text x="336.9" y="215.4" font-size="6.9" fill="#2a2a2a" stroke="#2a2a2a" stroke-width="0.22">40</text>
<line x1="26.6" y1="204.35" x2="28.5" y2="204.35" stroke="#3a3a3a" stroke-width="0.9"/>
<line x1="331.9" y1="204.35" x2="333.8" y2="204.35" stroke="#3a3a3a" stroke-width="0.9"/>
<line x1="25.5" y1="195.7" x2="28.5" y2="195.7" stroke="#3a3a3a" stroke-width="0.9"/>
<line x1="331.9" y1="195.7" x2="334.9" y2="195.7" stroke="#3a3a3a" stroke-width="0.9"/>
<text x="24.3" y="198.1" font-size="6.9" text-anchor="end" fill="#2a2a2a" stroke="#2a2a2a" stroke-width="0.22">60</text>
<text x="336.9" y="198.1" font-size="6.9" fill="#2a2a2a" stroke="#2a2a2a" stroke-width="0.22">60</text>
<line x1="26.6" y1="187.05" x2="28.5" y2="187.05" stroke="#3a3a3a" stroke-width="0.9"/>
<line x1="331.9" y1="187.05" x2="333.8" y2="187.05" stroke="#3a3a3a" stroke-width="0.9"/>
<line x1="25.5" y1="178.4" x2="28.5" y2="178.4" stroke="#3a3a3a" stroke-width="0.9"/>
<line x1="331.9" y1="178.4" x2="334.9" y2="178.4" stroke="#3a3a3a" stroke-width="0.9"/>
<text x="24.3" y="180.8" font-size="6.9" text-anchor="end" fill="#2a2a2a" stroke="#2a2a2a" stroke-width="0.22">80</text>
<text x="336.9" y="180.8" font-size="6.9" fill="#2a2a2a" stroke="#2a2a2a" stroke-width="0.22">80</text>
<line x1="26.6" y1="169.75" x2="28.5" y2="169.75" stroke="#3a3a3a" stroke-width="0.9"/>
<line x1="331.9" y1="169.75" x2="333.8" y2="169.75" stroke="#3a3a3a" stroke-width="0.9"/>
<line x1="25.5" y1="161.1" x2="28.5" y2="161.1" stroke="#3a3a3a" stroke-width="0.9"/>
<line x1="331.9" y1="161.1" x2="334.9" y2="161.1" stroke="#3a3a3a" stroke-width="0.9"/>
<text x="24.3" y="163.5" font-size="6.9" text-anchor="end" fill="#2a2a2a" stroke="#2a2a2a" stroke-width="0.22">100</text>
<text x="336.9" y="163.5" font-size="6.9" fill="#2a2a2a" stroke="#2a2a2a" stroke-width="0.22">100</text>
<line x1="36.1" y1="256.3" x2="36.1" y2="259.9" stroke="#3a3a3a" stroke-width="0.9"/>
<text x="36.1" y="268.1" font-size="6.9" text-anchor="middle" fill="#2a2a2a" stroke="#2a2a2a" stroke-width="0.22">300</text>
<line x1="48.06" y1="256.3" x2="48.06" y2="258.5" stroke="#3a3a3a" stroke-width="0.9"/>
<line x1="60.02" y1="256.3" x2="60.02" y2="259.9" stroke="#3a3a3a" stroke-width="0.9"/>
<text x="60.02" y="268.1" font-size="6.9" text-anchor="middle" fill="#2a2a2a" stroke="#2a2a2a" stroke-width="0.22">450</text>
<line x1="71.99" y1="256.3" x2="71.99" y2="258.5" stroke="#3a3a3a" stroke-width="0.9"/>
<line x1="83.95" y1="256.3" x2="83.95" y2="259.9" stroke="#3a3a3a" stroke-width="0.9"/>
<text x="83.95" y="268.1" font-size="6.9" text-anchor="middle" fill="#2a2a2a" stroke="#2a2a2a" stroke-width="0.22">600</text>
<line x1="95.91" y1="256.3" x2="95.91" y2="258.5" stroke="#3a3a3a" stroke-width="0.9"/>
<line x1="107.88" y1="256.3" x2="107.88" y2="259.9" stroke="#3a3a3a" stroke-width="0.9"/>
<text x="107.88" y="268.1" font-size="6.9" text-anchor="middle" fill="#2a2a2a" stroke="#2a2a2a" stroke-width="0.22">450</text>
<line x1="119.84" y1="256.3" x2="119.84" y2="258.5" stroke="#3a3a3a" stroke-width="0.9"/>
<line x1="131.8" y1="256.3" x2="131.8" y2="259.9" stroke="#3a3a3a" stroke-width="0.9"/>
<text x="131.8" y="268.1" font-size="6.9" text-anchor="middle" fill="#2a2a2a" stroke="#2a2a2a" stroke-width="0.22">300</text>
<line x1="143.76" y1="256.3" x2="143.76" y2="258.5" stroke="#3a3a3a" stroke-width="0.9"/>
<line x1="155.72" y1="256.3" x2="155.72" y2="259.9" stroke="#3a3a3a" stroke-width="0.9"/>
<text x="155.72" y="268.1" font-size="6.9" text-anchor="middle" fill="#2a2a2a" stroke="#2a2a2a" stroke-width="0.22">450</text>
<line x1="167.69" y1="256.3" x2="167.69" y2="258.5" stroke="#3a3a3a" stroke-width="0.9"/>
<line x1="179.65" y1="256.3" x2="179.65" y2="259.9" stroke="#3a3a3a" stroke-width="0.9"/>
<text x="179.65" y="268.1" font-size="6.9" text-anchor="middle" fill="#2a2a2a" stroke="#2a2a2a" stroke-width="0.22">600</text>
<line x1="191.61" y1="256.3" x2="191.61" y2="258.5" stroke="#3a3a3a" stroke-width="0.9"/>
<line x1="203.57" y1="256.3" x2="203.57" y2="259.9" stroke="#3a3a3a" stroke-width="0.9"/>
<text x="203.57" y="268.1" font-size="6.9" text-anchor="middle" fill="#2a2a2a" stroke="#2a2a2a" stroke-width="0.22">450</text>
<line x1="215.54" y1="256.3" x2="215.54" y2="258.5" stroke="#3a3a3a" stroke-width="0.9"/>
<line x1="227.5" y1="256.3" x2="227.5" y2="259.9" stroke="#3a3a3a" stroke-width="0.9"/>
<text x="227.5" y="268.1" font-size="6.9" text-anchor="middle" fill="#2a2a2a" stroke="#2a2a2a" stroke-width="0.22">300</text>
<line x1="239.46" y1="256.3" x2="239.46" y2="258.5" stroke="#3a3a3a" stroke-width="0.9"/>
<line x1="251.42" y1="256.3" x2="251.42" y2="259.9" stroke="#3a3a3a" stroke-width="0.9"/>
<text x="251.42" y="268.1" font-size="6.9" text-anchor="middle" fill="#2a2a2a" stroke="#2a2a2a" stroke-width="0.22">450</text>
<line x1="263.39" y1="256.3" x2="263.39" y2="258.5" stroke="#3a3a3a" stroke-width="0.9"/>
<line x1="275.35" y1="256.3" x2="275.35" y2="259.9" stroke="#3a3a3a" stroke-width="0.9"/>
<text x="275.35" y="268.1" font-size="6.9" text-anchor="middle" fill="#2a2a2a" stroke="#2a2a2a" stroke-width="0.22">600</text>
<line x1="287.31" y1="256.3" x2="287.31" y2="258.5" stroke="#3a3a3a" stroke-width="0.9"/>
<line x1="299.28" y1="256.3" x2="299.28" y2="259.9" stroke="#3a3a3a" stroke-width="0.9"/>
<text x="299.28" y="268.1" font-size="6.9" text-anchor="middle" fill="#2a2a2a" stroke="#2a2a2a" stroke-width="0.22">450</text>
<line x1="311.24" y1="256.3" x2="311.24" y2="258.5" stroke="#3a3a3a" stroke-width="0.9"/>
<line x1="323.2" y1="256.3" x2="323.2" y2="259.9" stroke="#3a3a3a" stroke-width="0.9"/>
<text x="323.2" y="268.1" font-size="6.9" text-anchor="middle" fill="#2a2a2a" stroke="#2a2a2a" stroke-width="0.22">300</text>
<text transform="translate(11.2,206.6) rotate(-90)" font-size="8.85" text-anchor="middle" fill="#222" stroke="#222" stroke-width="0.22">Selectivity (%)</text>
<text transform="translate(357.2,207.1) rotate(-90)" font-size="8.7" text-anchor="middle" fill="#222" stroke="#222" stroke-width="0.22">CO<tspan font-size="5.5" dy="1.8">2</tspan><tspan dy="-1.8"> conversion (%)</tspan></text>
<text x="180" y="279.1" font-size="8.6" text-anchor="middle" fill="#222" stroke="#222" stroke-width="0.22">Temperature (<tspan font-size="5.5" dy="-2.8">o</tspan><tspan dy="2.8">C)</tspan></text>
<text x="1.3" y="157.6" font-size="15" font-weight="bold" fill="#000">c</text>
<rect x="34.32" y="301.3" width="5.95" height="86.5" fill="url(#gb)"/>
<rect x="42.29" y="301.3" width="5.95" height="86.5" fill="url(#gb)"/>
<rect x="50.26" y="301.3" width="5.95" height="86.5" fill="url(#gb)"/>
<rect x="58.23" y="301.3" width="5.95" height="86.5" fill="url(#gb)"/>
<rect x="66.2" y="301.3" width="5.95" height="86.5" fill="url(#gb)"/>
<rect x="74.18" y="301.3" width="5.95" height="86.5" fill="url(#gb)"/>
<rect x="82.15" y="301.3" width="5.95" height="86.5" fill="url(#gb)"/>
<rect x="90.12" y="301.3" width="5.95" height="86.5" fill="url(#gb)"/>
<rect x="98.09" y="301.3" width="5.95" height="86.5" fill="url(#gb)"/>
<rect x="106.06" y="301.3" width="5.95" height="86.5" fill="url(#gb)"/>
<rect x="114.03" y="301.3" width="5.95" height="86.5" fill="url(#gb)"/>
<rect x="122" y="301.3" width="5.95" height="86.5" fill="url(#gb)"/>
<rect x="129.97" y="301.3" width="5.95" height="86.5" fill="url(#gb)"/>
<rect x="137.94" y="301.3" width="5.95" height="86.5" fill="url(#gb)"/>
<rect x="145.91" y="301.3" width="5.95" height="86.5" fill="url(#gb)"/>
<rect x="153.88" y="301.3" width="5.95" height="86.5" fill="url(#gb)"/>
<rect x="161.84" y="301.3" width="5.95" height="86.5" fill="url(#gb)"/>
<rect x="169.82" y="301.3" width="5.95" height="86.5" fill="url(#gb)"/>
<rect x="177.78" y="301.3" width="5.95" height="86.5" fill="url(#gb)"/>
<rect x="185.76" y="301.3" width="5.95" height="86.5" fill="url(#gb)"/>
<rect x="193.72" y="301.3" width="5.95" height="86.5" fill="url(#gb)"/>
<rect x="201.7" y="301.3" width="5.95" height="86.5" fill="url(#gb)"/>
<rect x="209.66" y="301.3" width="5.95" height="86.5" fill="url(#gb)"/>
<rect x="217.64" y="301.3" width="5.95" height="86.5" fill="url(#gb)"/>
<rect x="225.6" y="301.3" width="5.95" height="86.5" fill="url(#gb)"/>
<rect x="233.58" y="301.3" width="5.95" height="86.5" fill="url(#gb)"/>
<rect x="241.54" y="301.3" width="5.95" height="86.5" fill="url(#gb)"/>
<rect x="249.52" y="301.3" width="5.95" height="86.5" fill="url(#gb)"/>
<rect x="257.48" y="301.3" width="5.95" height="86.5" fill="url(#gb)"/>
<rect x="265.45" y="301.3" width="5.95" height="86.5" fill="url(#gb)"/>
<rect x="273.42" y="301.3" width="5.95" height="86.5" fill="url(#gb)"/>
<rect x="281.39" y="301.3" width="5.95" height="86.5" fill="url(#gb)"/>
<rect x="289.36" y="301.3" width="5.95" height="86.5" fill="url(#gb)"/>
<rect x="297.33" y="301.3" width="5.95" height="86.5" fill="url(#gb)"/>
<rect x="305.31" y="301.3" width="5.95" height="86.5" fill="url(#gb)"/>
<rect x="313.27" y="301.3" width="5.95" height="86.5" fill="url(#gb)"/>
<rect x="321.25" y="301.3" width="5.95" height="86.5" fill="url(#gb)"/>
<line x1="47.96" y1="358.58" x2="58.52" y2="349.81" stroke="#666" stroke-width="1.1" stroke-dasharray="2.8,1.6"/>
<line x1="63.76" y1="345.18" x2="82.57" y2="327.49" stroke="#666" stroke-width="1.1" stroke-dasharray="2.8,1.6"/>
<line x1="87.67" y1="327.49" x2="106.48" y2="345.18" stroke="#666" stroke-width="1.1" stroke-dasharray="2.8,1.6"/>
<line x1="111.72" y1="349.81" x2="122.28" y2="358.58" stroke="#666" stroke-width="1.1" stroke-dasharray="2.8,1.6"/>
<line x1="143.6" y1="358.58" x2="154.16" y2="349.81" stroke="#666" stroke-width="1.1" stroke-dasharray="2.8,1.6"/>
<line x1="159.4" y1="345.18" x2="178.21" y2="327.49" stroke="#666" stroke-width="1.1" stroke-dasharray="2.8,1.6"/>
<line x1="183.31" y1="327.49" x2="202.12" y2="345.18" stroke="#666" stroke-width="1.1" stroke-dasharray="2.8,1.6"/>
<line x1="207.36" y1="349.81" x2="217.92" y2="358.58" stroke="#666" stroke-width="1.1" stroke-dasharray="2.8,1.6"/>
<line x1="239.24" y1="358.58" x2="249.8" y2="349.81" stroke="#666" stroke-width="1.1" stroke-dasharray="2.8,1.6"/>
<line x1="255.04" y1="345.18" x2="273.85" y2="327.49" stroke="#666" stroke-width="1.1" stroke-dasharray="2.8,1.6"/>
<line x1="278.95" y1="327.49" x2="297.76" y2="345.18" stroke="#666" stroke-width="1.1" stroke-dasharray="2.8,1.6"/>
<line x1="303" y1="349.81" x2="313.56" y2="358.58" stroke="#666" stroke-width="1.1" stroke-dasharray="2.8,1.6"/>
<line x1="40.77" y1="383.02" x2="41.8" y2="382.37" stroke="#3a3a3a" stroke-width="1.15"/>
<line x1="48.08" y1="377.2" x2="50.43" y2="374.7" stroke="#3a3a3a" stroke-width="1.15"/>
<line x1="55.52" y1="368.3" x2="58.93" y2="363.18" stroke="#3a3a3a" stroke-width="1.15"/>
<line x1="63.09" y1="356.13" x2="67.3" y2="347.94" stroke="#3a3a3a" stroke-width="1.15"/>
<line x1="71.51" y1="340.92" x2="74.82" y2="336.16" stroke="#3a3a3a" stroke-width="1.15"/>
<line x1="80.72" y1="330.77" x2="81.55" y2="330.3" stroke="#3a3a3a" stroke-width="1.15"/>
<line x1="88.04" y1="331.17" x2="90.17" y2="333.28" stroke="#3a3a3a" stroke-width="1.15"/>
<line x1="95.99" y1="339.06" x2="98.16" y2="341.22" stroke="#3a3a3a" stroke-width="1.15"/>
<line x1="102.96" y1="347.75" x2="107.13" y2="355.71" stroke="#3a3a3a" stroke-width="1.15"/>
<line x1="111.35" y1="362.72" x2="114.68" y2="367.55" stroke="#3a3a3a" stroke-width="1.15"/>
<line x1="119.41" y1="374.25" x2="122.56" y2="378.6" stroke="#3a3a3a" stroke-width="1.15"/>
<line x1="128.79" y1="383.41" x2="129.12" y2="383.54" stroke="#3a3a3a" stroke-width="1.15"/>
<line x1="136.61" y1="383.2" x2="137.24" y2="382.88" stroke="#3a3a3a" stroke-width="1.15"/>
<line x1="143.7" y1="378.05" x2="146.09" y2="375.49" stroke="#3a3a3a" stroke-width="1.15"/>
<line x1="151.06" y1="369.02" x2="154.67" y2="363.25" stroke="#3a3a3a" stroke-width="1.15"/>
<line x1="158.92" y1="356.23" x2="162.75" y2="349.65" stroke="#3a3a3a" stroke-width="1.15"/>
<line x1="167.2" y1="342.77" x2="170.41" y2="338.28" stroke="#3a3a3a" stroke-width="1.15"/>
<line x1="176.21" y1="332.69" x2="177.34" y2="331.94" stroke="#3a3a3a" stroke-width="1.15"/>
<line x1="184.09" y1="332.06" x2="185.4" y2="332.99" stroke="#3a3a3a" stroke-width="1.15"/>
<line x1="191.29" y1="338.58" x2="194.14" y2="342.13" stroke="#3a3a3a" stroke-width="1.15"/>
<line x1="198.77" y1="348.87" x2="202.6" y2="355.45" stroke="#3a3a3a" stroke-width="1.15"/>
<line x1="206.7" y1="362.56" x2="210.61" y2="369.44" stroke="#3a3a3a" stroke-width="1.15"/>
<line x1="215.39" y1="376.05" x2="217.86" y2="378.79" stroke="#3a3a3a" stroke-width="1.15"/>
<line x1="224.43" y1="383.32" x2="224.76" y2="383.45" stroke="#3a3a3a" stroke-width="1.15"/>
<line x1="232.23" y1="383.08" x2="232.9" y2="382.74" stroke="#3a3a3a" stroke-width="1.15"/>
<line x1="239.42" y1="377.95" x2="241.65" y2="375.68" stroke="#3a3a3a" stroke-width="1.15"/>
<line x1="246.55" y1="369.19" x2="250.46" y2="362.3" stroke="#3a3a3a" stroke-width="1.15"/>
<line x1="254.59" y1="355.21" x2="258.36" y2="348.85" stroke="#3a3a3a" stroke-width="1.15"/>
<line x1="263.02" y1="342.13" x2="265.87" y2="338.58" stroke="#3a3a3a" stroke-width="1.15"/>
<line x1="271.76" y1="332.99" x2="273.07" y2="332.06" stroke="#3a3a3a" stroke-width="1.15"/>
<line x1="279.61" y1="332.22" x2="281.16" y2="333.44" stroke="#3a3a3a" stroke-width="1.15"/>
<line x1="287" y1="339.13" x2="289.71" y2="342.36" stroke="#3a3a3a" stroke-width="1.15"/>
<line x1="294.52" y1="348.98" x2="298.13" y2="354.74" stroke="#3a3a3a" stroke-width="1.15"/>
<line x1="302.28" y1="361.81" x2="306.31" y2="369.15" stroke="#3a3a3a" stroke-width="1.15"/>
<line x1="311.15" y1="375.68" x2="313.38" y2="377.95" stroke="#3a3a3a" stroke-width="1.15"/>
<line x1="319.9" y1="382.74" x2="320.57" y2="383.08" stroke="#3a3a3a" stroke-width="1.15"/>
<rect x="34.9" y="382.81" width="4.8" height="4.8" fill="#f6f7fa" stroke="#4c4c4c" stroke-width="1.15"/>
<rect x="42.87" y="377.79" width="4.8" height="4.8" fill="#f6f7fa" stroke="#4c4c4c" stroke-width="1.15"/>
<rect x="50.84" y="369.31" width="4.8" height="4.8" fill="#f6f7fa" stroke="#4c4c4c" stroke-width="1.15"/>
<rect x="58.81" y="357.37" width="4.8" height="4.8" fill="#f6f7fa" stroke="#4c4c4c" stroke-width="1.15"/>
<rect x="66.78" y="341.89" width="4.8" height="4.8" fill="#f6f7fa" stroke="#4c4c4c" stroke-width="1.15"/>
<rect x="74.75" y="330.39" width="4.8" height="4.8" fill="#f6f7fa" stroke="#4c4c4c" stroke-width="1.15"/>
<rect x="82.72" y="325.89" width="4.8" height="4.8" fill="#f6f7fa" stroke="#4c4c4c" stroke-width="1.15"/>
<rect x="90.69" y="333.76" width="4.8" height="4.8" fill="#f6f7fa" stroke="#4c4c4c" stroke-width="1.15"/>
<rect x="98.66" y="341.72" width="4.8" height="4.8" fill="#f6f7fa" stroke="#4c4c4c" stroke-width="1.15"/>
<rect x="106.63" y="356.94" width="4.8" height="4.8" fill="#f6f7fa" stroke="#4c4c4c" stroke-width="1.15"/>
<rect x="114.6" y="368.53" width="4.8" height="4.8" fill="#f6f7fa" stroke="#4c4c4c" stroke-width="1.15"/>
<rect x="122.57" y="379.52" width="4.8" height="4.8" fill="#f6f7fa" stroke="#4c4c4c" stroke-width="1.15"/>
<rect x="130.54" y="382.63" width="4.8" height="4.8" fill="#f6f7fa" stroke="#4c4c4c" stroke-width="1.15"/>
<rect x="138.51" y="378.65" width="4.8" height="4.8" fill="#f6f7fa" stroke="#4c4c4c" stroke-width="1.15"/>
<rect x="146.48" y="370.09" width="4.8" height="4.8" fill="#f6f7fa" stroke="#4c4c4c" stroke-width="1.15"/>
<rect x="154.45" y="357.37" width="4.8" height="4.8" fill="#f6f7fa" stroke="#4c4c4c" stroke-width="1.15"/>
<rect x="162.42" y="343.71" width="4.8" height="4.8" fill="#f6f7fa" stroke="#4c4c4c" stroke-width="1.15"/>
<rect x="170.39" y="332.55" width="4.8" height="4.8" fill="#f6f7fa" stroke="#4c4c4c" stroke-width="1.15"/>
<rect x="178.36" y="327.27" width="4.8" height="4.8" fill="#f6f7fa" stroke="#4c4c4c" stroke-width="1.15"/>
<rect x="186.33" y="332.98" width="4.8" height="4.8" fill="#f6f7fa" stroke="#4c4c4c" stroke-width="1.15"/>
<rect x="194.3" y="342.93" width="4.8" height="4.8" fill="#f6f7fa" stroke="#4c4c4c" stroke-width="1.15"/>
<rect x="202.27" y="356.6" width="4.8" height="4.8" fill="#f6f7fa" stroke="#4c4c4c" stroke-width="1.15"/>
<rect x="210.24" y="370.61" width="4.8" height="4.8" fill="#f6f7fa" stroke="#4c4c4c" stroke-width="1.15"/>
<rect x="218.21" y="379.43" width="4.8" height="4.8" fill="#f6f7fa" stroke="#4c4c4c" stroke-width="1.15"/>
<rect x="226.18" y="382.55" width="4.8" height="4.8" fill="#f6f7fa" stroke="#4c4c4c" stroke-width="1.15"/>
<rect x="234.15" y="378.48" width="4.8" height="4.8" fill="#f6f7fa" stroke="#4c4c4c" stroke-width="1.15"/>
<rect x="242.12" y="370.35" width="4.8" height="4.8" fill="#f6f7fa" stroke="#4c4c4c" stroke-width="1.15"/>
<rect x="250.09" y="356.34" width="4.8" height="4.8" fill="#f6f7fa" stroke="#4c4c4c" stroke-width="1.15"/>
<rect x="258.06" y="342.93" width="4.8" height="4.8" fill="#f6f7fa" stroke="#4c4c4c" stroke-width="1.15"/>
<rect x="266.03" y="332.98" width="4.8" height="4.8" fill="#f6f7fa" stroke="#4c4c4c" stroke-width="1.15"/>
<rect x="274" y="327.27" width="4.8" height="4.8" fill="#f6f7fa" stroke="#4c4c4c" stroke-width="1.15"/>
<rect x="281.97" y="333.59" width="4.8" height="4.8" fill="#f6f7fa" stroke="#4c4c4c" stroke-width="1.15"/>
<rect x="289.94" y="343.1" width="4.8" height="4.8" fill="#f6f7fa" stroke="#4c4c4c" stroke-width="1.15"/>
<rect x="297.91" y="355.82" width="4.8" height="4.8" fill="#f6f7fa" stroke="#4c4c4c" stroke-width="1.15"/>
<rect x="305.88" y="370.35" width="4.8" height="4.8" fill="#f6f7fa" stroke="#4c4c4c" stroke-width="1.15"/>
<rect x="313.85" y="378.48" width="4.8" height="4.8" fill="#f6f7fa" stroke="#4c4c4c" stroke-width="1.15"/>
<rect x="321.82" y="382.55" width="4.8" height="4.8" fill="#f6f7fa" stroke="#4c4c4c" stroke-width="1.15"/>
<path d="M45.27,358.01 L48.57,363.21 L41.97,363.21Z" fill="#e6d678"/>
<path d="M61.21,344.78 L64.51,349.98 L57.91,349.98Z" fill="#e6d678"/>
<path d="M85.12,322.29 L88.42,327.49 L81.82,327.49Z" fill="#e6d678"/>
<path d="M109.03,344.78 L112.33,349.98 L105.73,349.98Z" fill="#e6d678"/>
<path d="M124.97,358.01 L128.27,363.21 L121.67,363.21Z" fill="#e6d678"/>
<path d="M140.91,358.01 L144.21,363.21 L137.61,363.21Z" fill="#e6d678"/>
<path d="M156.85,344.78 L160.15,349.98 L153.55,349.98Z" fill="#e6d678"/>
<path d="M180.76,322.29 L184.06,327.49 L177.46,327.49Z" fill="#e6d678"/>
<path d="M204.67,344.78 L207.97,349.98 L201.37,349.98Z" fill="#e6d678"/>
<path d="M220.61,358.01 L223.91,363.21 L217.31,363.21Z" fill="#e6d678"/>
<path d="M236.55,358.01 L239.85,363.21 L233.25,363.21Z" fill="#e6d678"/>
<path d="M252.49,344.78 L255.79,349.98 L249.19,349.98Z" fill="#e6d678"/>
<path d="M276.4,322.29 L279.7,327.49 L273.1,327.49Z" fill="#e6d678"/>
<path d="M300.31,344.78 L303.61,349.98 L297.01,349.98Z" fill="#e6d678"/>
<path d="M316.25,358.01 L319.55,363.21 L312.95,363.21Z" fill="#e6d678"/>
<rect x="281.5" y="295" width="50.5" height="12.1" fill="#fff" fill-opacity="0.55"/>
<text x="328.6" y="303.7" font-size="9.5" text-anchor="end" fill="#1a1a1a" stroke="#1a1a1a" stroke-width="0.22">CuNi-DAC</text>
<rect x="29.5" y="293.1" width="303.4" height="103.9" fill="none" stroke="#3a3a3a" stroke-width="1.3"/>
<line x1="26.5" y1="387.8" x2="29.5" y2="387.8" stroke="#3a3a3a" stroke-width="0.9"/>
<line x1="332.9" y1="387.8" x2="335.9" y2="387.8" stroke="#3a3a3a" stroke-width="0.9"/>
<text x="25.3" y="390.2" font-size="6.9" text-anchor="end" fill="#2a2a2a" stroke="#2a2a2a" stroke-width="0.22">0</text>
<text x="337.9" y="390.2" font-size="6.9" fill="#2a2a2a" stroke="#2a2a2a" stroke-width="0.22">0</text>
<line x1="27.6" y1="379.15" x2="29.5" y2="379.15" stroke="#3a3a3a" stroke-width="0.9"/>
<line x1="332.9" y1="379.15" x2="334.8" y2="379.15" stroke="#3a3a3a" stroke-width="0.9"/>
<line x1="26.5" y1="370.5" x2="29.5" y2="370.5" stroke="#3a3a3a" stroke-width="0.9"/>
<line x1="332.9" y1="370.5" x2="335.9" y2="370.5" stroke="#3a3a3a" stroke-width="0.9"/>
<text x="25.3" y="372.9" font-size="6.9" text-anchor="end" fill="#2a2a2a" stroke="#2a2a2a" stroke-width="0.22">20</text>
<text x="337.9" y="372.9" font-size="6.9" fill="#2a2a2a" stroke="#2a2a2a" stroke-width="0.22">20</text>
<line x1="27.6" y1="361.85" x2="29.5" y2="361.85" stroke="#3a3a3a" stroke-width="0.9"/>
<line x1="332.9" y1="361.85" x2="334.8" y2="361.85" stroke="#3a3a3a" stroke-width="0.9"/>
<line x1="26.5" y1="353.2" x2="29.5" y2="353.2" stroke="#3a3a3a" stroke-width="0.9"/>
<line x1="332.9" y1="353.2" x2="335.9" y2="353.2" stroke="#3a3a3a" stroke-width="0.9"/>
<text x="25.3" y="355.6" font-size="6.9" text-anchor="end" fill="#2a2a2a" stroke="#2a2a2a" stroke-width="0.22">40</text>
<text x="337.9" y="355.6" font-size="6.9" fill="#2a2a2a" stroke="#2a2a2a" stroke-width="0.22">40</text>
<line x1="27.6" y1="344.55" x2="29.5" y2="344.55" stroke="#3a3a3a" stroke-width="0.9"/>
<line x1="332.9" y1="344.55" x2="334.8" y2="344.55" stroke="#3a3a3a" stroke-width="0.9"/>
<line x1="26.5" y1="335.9" x2="29.5" y2="335.9" stroke="#3a3a3a" stroke-width="0.9"/>
<line x1="332.9" y1="335.9" x2="335.9" y2="335.9" stroke="#3a3a3a" stroke-width="0.9"/>
<text x="25.3" y="338.3" font-size="6.9" text-anchor="end" fill="#2a2a2a" stroke="#2a2a2a" stroke-width="0.22">60</text>
<text x="337.9" y="338.3" font-size="6.9" fill="#2a2a2a" stroke="#2a2a2a" stroke-width="0.22">60</text>
<line x1="27.6" y1="327.25" x2="29.5" y2="327.25" stroke="#3a3a3a" stroke-width="0.9"/>
<line x1="332.9" y1="327.25" x2="334.8" y2="327.25" stroke="#3a3a3a" stroke-width="0.9"/>
<line x1="26.5" y1="318.6" x2="29.5" y2="318.6" stroke="#3a3a3a" stroke-width="0.9"/>
<line x1="332.9" y1="318.6" x2="335.9" y2="318.6" stroke="#3a3a3a" stroke-width="0.9"/>
<text x="25.3" y="321" font-size="6.9" text-anchor="end" fill="#2a2a2a" stroke="#2a2a2a" stroke-width="0.22">80</text>
<text x="337.9" y="321" font-size="6.9" fill="#2a2a2a" stroke="#2a2a2a" stroke-width="0.22">80</text>
<line x1="27.6" y1="309.95" x2="29.5" y2="309.95" stroke="#3a3a3a" stroke-width="0.9"/>
<line x1="332.9" y1="309.95" x2="334.8" y2="309.95" stroke="#3a3a3a" stroke-width="0.9"/>
<line x1="26.5" y1="301.3" x2="29.5" y2="301.3" stroke="#3a3a3a" stroke-width="0.9"/>
<line x1="332.9" y1="301.3" x2="335.9" y2="301.3" stroke="#3a3a3a" stroke-width="0.9"/>
<text x="25.3" y="303.7" font-size="6.9" text-anchor="end" fill="#2a2a2a" stroke="#2a2a2a" stroke-width="0.22">100</text>
<text x="337.9" y="303.7" font-size="6.9" fill="#2a2a2a" stroke="#2a2a2a" stroke-width="0.22">100</text>
<line x1="37.3" y1="397" x2="37.3" y2="400.6" stroke="#3a3a3a" stroke-width="0.9"/>
<text x="37.3" y="408.8" font-size="6.9" text-anchor="middle" fill="#2a2a2a" stroke="#2a2a2a" stroke-width="0.22">300</text>
<line x1="49.25" y1="397" x2="49.25" y2="399.2" stroke="#3a3a3a" stroke-width="0.9"/>
<line x1="61.21" y1="397" x2="61.21" y2="400.6" stroke="#3a3a3a" stroke-width="0.9"/>
<text x="61.21" y="408.8" font-size="6.9" text-anchor="middle" fill="#2a2a2a" stroke="#2a2a2a" stroke-width="0.22">450</text>
<line x1="73.16" y1="397" x2="73.16" y2="399.2" stroke="#3a3a3a" stroke-width="0.9"/>
<line x1="85.12" y1="397" x2="85.12" y2="400.6" stroke="#3a3a3a" stroke-width="0.9"/>
<text x="85.12" y="408.8" font-size="6.9" text-anchor="middle" fill="#2a2a2a" stroke="#2a2a2a" stroke-width="0.22">600</text>
<line x1="97.07" y1="397" x2="97.07" y2="399.2" stroke="#3a3a3a" stroke-width="0.9"/>
<line x1="109.03" y1="397" x2="109.03" y2="400.6" stroke="#3a3a3a" stroke-width="0.9"/>
<text x="109.03" y="408.8" font-size="6.9" text-anchor="middle" fill="#2a2a2a" stroke="#2a2a2a" stroke-width="0.22">450</text>
<line x1="120.98" y1="397" x2="120.98" y2="399.2" stroke="#3a3a3a" stroke-width="0.9"/>
<line x1="132.94" y1="397" x2="132.94" y2="400.6" stroke="#3a3a3a" stroke-width="0.9"/>
<text x="132.94" y="408.8" font-size="6.9" text-anchor="middle" fill="#2a2a2a" stroke="#2a2a2a" stroke-width="0.22">300</text>
<line x1="144.89" y1="397" x2="144.89" y2="399.2" stroke="#3a3a3a" stroke-width="0.9"/>
<line x1="156.85" y1="397" x2="156.85" y2="400.6" stroke="#3a3a3a" stroke-width="0.9"/>
<text x="156.85" y="408.8" font-size="6.9" text-anchor="middle" fill="#2a2a2a" stroke="#2a2a2a" stroke-width="0.22">450</text>
<line x1="168.81" y1="397" x2="168.81" y2="399.2" stroke="#3a3a3a" stroke-width="0.9"/>
<line x1="180.76" y1="397" x2="180.76" y2="400.6" stroke="#3a3a3a" stroke-width="0.9"/>
<text x="180.76" y="408.8" font-size="6.9" text-anchor="middle" fill="#2a2a2a" stroke="#2a2a2a" stroke-width="0.22">600</text>
<line x1="192.71" y1="397" x2="192.71" y2="399.2" stroke="#3a3a3a" stroke-width="0.9"/>
<line x1="204.67" y1="397" x2="204.67" y2="400.6" stroke="#3a3a3a" stroke-width="0.9"/>
<text x="204.67" y="408.8" font-size="6.9" text-anchor="middle" fill="#2a2a2a" stroke="#2a2a2a" stroke-width="0.22">450</text>
<line x1="216.62" y1="397" x2="216.62" y2="399.2" stroke="#3a3a3a" stroke-width="0.9"/>
<line x1="228.58" y1="397" x2="228.58" y2="400.6" stroke="#3a3a3a" stroke-width="0.9"/>
<text x="228.58" y="408.8" font-size="6.9" text-anchor="middle" fill="#2a2a2a" stroke="#2a2a2a" stroke-width="0.22">300</text>
<line x1="240.53" y1="397" x2="240.53" y2="399.2" stroke="#3a3a3a" stroke-width="0.9"/>
<line x1="252.49" y1="397" x2="252.49" y2="400.6" stroke="#3a3a3a" stroke-width="0.9"/>
<text x="252.49" y="408.8" font-size="6.9" text-anchor="middle" fill="#2a2a2a" stroke="#2a2a2a" stroke-width="0.22">450</text>
<line x1="264.44" y1="397" x2="264.44" y2="399.2" stroke="#3a3a3a" stroke-width="0.9"/>
<line x1="276.4" y1="397" x2="276.4" y2="400.6" stroke="#3a3a3a" stroke-width="0.9"/>
<text x="276.4" y="408.8" font-size="6.9" text-anchor="middle" fill="#2a2a2a" stroke="#2a2a2a" stroke-width="0.22">600</text>
<line x1="288.35" y1="397" x2="288.35" y2="399.2" stroke="#3a3a3a" stroke-width="0.9"/>
<line x1="300.31" y1="397" x2="300.31" y2="400.6" stroke="#3a3a3a" stroke-width="0.9"/>
<text x="300.31" y="408.8" font-size="6.9" text-anchor="middle" fill="#2a2a2a" stroke="#2a2a2a" stroke-width="0.22">450</text>
<line x1="312.26" y1="397" x2="312.26" y2="399.2" stroke="#3a3a3a" stroke-width="0.9"/>
<line x1="324.22" y1="397" x2="324.22" y2="400.6" stroke="#3a3a3a" stroke-width="0.9"/>
<text x="324.22" y="408.8" font-size="6.9" text-anchor="middle" fill="#2a2a2a" stroke="#2a2a2a" stroke-width="0.22">300</text>
<text transform="translate(12.2,347.25) rotate(-90)" font-size="8.85" text-anchor="middle" fill="#222" stroke="#222" stroke-width="0.22">Selectivity (%)</text>
<text transform="translate(358.2,343.65) rotate(-90)" font-size="8.7" text-anchor="middle" fill="#222" stroke="#222" stroke-width="0.22">CO<tspan font-size="5.5" dy="1.8">2</tspan><tspan dy="-1.8"> conversion (%)</tspan></text>
<text x="181" y="419.8" font-size="8.6" text-anchor="middle" fill="#222" stroke="#222" stroke-width="0.22">Temperature (<tspan font-size="5.5" dy="-2.8">o</tspan><tspan dy="2.8">C)</tspan></text>
<text x="0.7" y="297.6" font-size="15" font-weight="bold" fill="#000">e</text>
<rect x="34.92" y="468.86" width="5.95" height="61.04" fill="url(#gb)"/>
<rect x="34.92" y="443.2" width="5.95" height="25.66" fill="url(#gr)"/>
<rect x="42.89" y="478.31" width="5.95" height="51.59" fill="url(#gb)"/>
<rect x="42.89" y="443.2" width="5.95" height="35.11" fill="url(#gr)"/>
<rect x="50.86" y="495.57" width="5.95" height="34.33" fill="url(#gb)"/>
<rect x="50.86" y="443.2" width="5.95" height="52.37" fill="url(#gr)"/>
<rect x="58.84" y="497.82" width="5.95" height="32.08" fill="url(#gb)"/>
<rect x="58.84" y="443.2" width="5.95" height="54.62" fill="url(#gr)"/>
<rect x="66.81" y="482.56" width="5.95" height="47.34" fill="url(#gb)"/>
<rect x="66.81" y="443.2" width="5.95" height="39.36" fill="url(#gr)"/>
<rect x="74.78" y="459.76" width="5.95" height="70.14" fill="url(#gb)"/>
<rect x="74.78" y="443.2" width="5.95" height="16.56" fill="url(#gr)"/>
<rect x="82.75" y="447.53" width="5.95" height="82.36" fill="url(#gb)"/>
<rect x="82.75" y="443.2" width="5.95" height="4.33" fill="url(#gr)"/>
<rect x="90.72" y="445.97" width="5.95" height="83.93" fill="url(#gb)"/>
<rect x="90.72" y="443.2" width="5.95" height="2.77" fill="url(#gr)"/>
<rect x="98.69" y="443.2" width="5.95" height="86.7" fill="url(#gb)"/>
<rect x="106.66" y="443.2" width="5.95" height="86.7" fill="url(#gb)"/>
<rect x="114.62" y="443.2" width="5.95" height="86.7" fill="url(#gb)"/>
<rect x="122.59" y="443.2" width="5.95" height="86.7" fill="url(#gb)"/>
<rect x="138.53" y="443.2" width="5.95" height="86.7" fill="url(#gb)"/>
<rect x="146.5" y="443.2" width="5.95" height="86.7" fill="url(#gb)"/>
<rect x="154.47" y="444.59" width="5.95" height="85.31" fill="url(#gb)"/>
<rect x="154.47" y="443.2" width="5.95" height="1.39" fill="url(#gr)"/>
<rect x="162.44" y="445.63" width="5.95" height="84.27" fill="url(#gb)"/>
<rect x="162.44" y="443.2" width="5.95" height="2.43" fill="url(#gr)"/>
<rect x="170.42" y="446.41" width="5.95" height="83.49" fill="url(#gb)"/>
<rect x="170.42" y="443.2" width="5.95" height="3.21" fill="url(#gr)"/>
<rect x="178.39" y="445.8" width="5.95" height="84.1" fill="url(#gb)"/>
<rect x="178.39" y="443.2" width="5.95" height="2.6" fill="url(#gr)"/>
<rect x="186.36" y="445.19" width="5.95" height="84.71" fill="url(#gb)"/>
<rect x="186.36" y="443.2" width="5.95" height="1.99" fill="url(#gr)"/>
<rect x="194.33" y="444.41" width="5.95" height="85.49" fill="url(#gb)"/>
<rect x="194.33" y="443.2" width="5.95" height="1.21" fill="url(#gr)"/>
<rect x="202.3" y="443.2" width="5.95" height="86.7" fill="url(#gb)"/>
<rect x="210.27" y="443.2" width="5.95" height="86.7" fill="url(#gb)"/>
<rect x="218.24" y="443.2" width="5.95" height="86.7" fill="url(#gb)"/>
<rect x="234.18" y="443.2" width="5.95" height="86.7" fill="url(#gb)"/>
<rect x="242.15" y="443.2" width="5.95" height="86.7" fill="url(#gb)"/>
<rect x="250.12" y="443.2" width="5.95" height="86.7" fill="url(#gb)"/>
<rect x="258.08" y="444.59" width="5.95" height="85.31" fill="url(#gb)"/>
<rect x="258.08" y="443.2" width="5.95" height="1.39" fill="url(#gr)"/>
<rect x="266.05" y="444.59" width="5.95" height="85.31" fill="url(#gb)"/>
<rect x="266.05" y="443.2" width="5.95" height="1.39" fill="url(#gr)"/>
<rect x="274.02" y="444.59" width="5.95" height="85.31" fill="url(#gb)"/>
<rect x="274.02" y="443.2" width="5.95" height="1.39" fill="url(#gr)"/>
<rect x="281.99" y="444.59" width="5.95" height="85.31" fill="url(#gb)"/>
<rect x="281.99" y="443.2" width="5.95" height="1.39" fill="url(#gr)"/>
<rect x="289.96" y="443.2" width="5.95" height="86.7" fill="url(#gb)"/>
<rect x="297.93" y="443.2" width="5.95" height="86.7" fill="url(#gb)"/>
<rect x="305.9" y="443.2" width="5.95" height="86.7" fill="url(#gb)"/>
<rect x="313.87" y="443.2" width="5.95" height="86.7" fill="url(#gb)"/>
<line x1="40.88" y1="511.65" x2="42.89" y2="509.74" stroke="#3a3a3a" stroke-width="1.15"/>
<line x1="47.49" y1="503.16" x2="52.22" y2="492.14" stroke="#3a3a3a" stroke-width="1.15"/>
<line x1="57" y1="485.76" x2="58.65" y2="484.39" stroke="#3a3a3a" stroke-width="1.15"/>
<line x1="65.64" y1="480.32" x2="65.95" y2="480.21" stroke="#3a3a3a" stroke-width="1.15"/>
<line x1="73.6" y1="477.25" x2="73.93" y2="477.12" stroke="#3a3a3a" stroke-width="1.15"/>
<line x1="81.43" y1="473.82" x2="82.04" y2="473.53" stroke="#3a3a3a" stroke-width="1.15"/>
<line x1="88.39" y1="474.83" x2="91.02" y2="477.89" stroke="#3a3a3a" stroke-width="1.15"/>
<line x1="96.14" y1="484.29" x2="99.21" y2="488.38" stroke="#3a3a3a" stroke-width="1.15"/>
<line x1="103.91" y1="495.09" x2="107.38" y2="500.38" stroke="#3a3a3a" stroke-width="1.15"/>
<line x1="111.86" y1="507.25" x2="115.37" y2="512.67" stroke="#3a3a3a" stroke-width="1.15"/>
<line x1="120.55" y1="518.97" x2="122.62" y2="520.98" stroke="#3a3a3a" stroke-width="1.15"/>
<line x1="128.83" y1="526.31" x2="130.28" y2="527.42" stroke="#3a3a3a" stroke-width="1.15"/>
<line x1="136.8" y1="527.42" x2="138.25" y2="526.31" stroke="#3a3a3a" stroke-width="1.15"/>
<line x1="144.55" y1="521.08" x2="146.44" y2="519.38" stroke="#3a3a3a" stroke-width="1.15"/>
<line x1="151.66" y1="513.17" x2="155.27" y2="507.45" stroke="#3a3a3a" stroke-width="1.15"/>
<line x1="159.71" y1="500.56" x2="163.16" y2="495.35" stroke="#3a3a3a" stroke-width="1.15"/>
<line x1="168.08" y1="488.8" x2="170.73" y2="485.68" stroke="#3a3a3a" stroke-width="1.15"/>
<line x1="176.52" y1="479.91" x2="178.23" y2="478.45" stroke="#3a3a3a" stroke-width="1.15"/>
<line x1="183.6" y1="479.23" x2="187.09" y2="484.59" stroke="#3a3a3a" stroke-width="1.15"/>
<line x1="191.54" y1="491.48" x2="195.09" y2="497.05" stroke="#3a3a3a" stroke-width="1.15"/>
<line x1="199.9" y1="503.68" x2="202.67" y2="507.05" stroke="#3a3a3a" stroke-width="1.15"/>
<line x1="207.89" y1="513.38" x2="210.62" y2="516.69" stroke="#3a3a3a" stroke-width="1.15"/>
<line x1="216.79" y1="521.89" x2="217.66" y2="522.39" stroke="#3a3a3a" stroke-width="1.15"/>
<line x1="224.59" y1="526.76" x2="225.8" y2="527.58" stroke="#3a3a3a" stroke-width="1.15"/>
<line x1="232.63" y1="527.69" x2="233.7" y2="527" stroke="#3a3a3a" stroke-width="1.15"/>
<line x1="240.58" y1="522.54" x2="241.69" y2="521.82" stroke="#3a3a3a" stroke-width="1.15"/>
<line x1="247.81" y1="516.49" x2="250.4" y2="513.49" stroke="#3a3a3a" stroke-width="1.15"/>
<line x1="255.54" y1="507.11" x2="258.61" y2="503.01" stroke="#3a3a3a" stroke-width="1.15"/>
<line x1="263.59" y1="496.5" x2="266.5" y2="492.81" stroke="#3a3a3a" stroke-width="1.15"/>
<line x1="271.96" y1="486.72" x2="274.07" y2="484.65" stroke="#3a3a3a" stroke-width="1.15"/>
<line x1="279.25" y1="485.21" x2="282.72" y2="490.49" stroke="#3a3a3a" stroke-width="1.15"/>
<line x1="287.52" y1="497.13" x2="290.39" y2="500.76" stroke="#3a3a3a" stroke-width="1.15"/>
<line x1="295.51" y1="507.17" x2="298.34" y2="510.67" stroke="#3a3a3a" stroke-width="1.15"/>
<line x1="303.99" y1="516.57" x2="305.8" y2="518.17" stroke="#3a3a3a" stroke-width="1.15"/>
<line x1="312.48" y1="522.84" x2="313.25" y2="523.26" stroke="#3a3a3a" stroke-width="1.15"/>
<line x1="320.39" y1="527.29" x2="321.28" y2="527.82" stroke="#3a3a3a" stroke-width="1.15"/>
<rect x="35.5" y="512.07" width="4.8" height="4.8" fill="#f6f7fa" stroke="#4c4c4c" stroke-width="1.15"/>
<rect x="43.47" y="504.52" width="4.8" height="4.8" fill="#f6f7fa" stroke="#4c4c4c" stroke-width="1.15"/>
<rect x="51.44" y="485.97" width="4.8" height="4.8" fill="#f6f7fa" stroke="#4c4c4c" stroke-width="1.15"/>
<rect x="59.41" y="479.38" width="4.8" height="4.8" fill="#f6f7fa" stroke="#4c4c4c" stroke-width="1.15"/>
<rect x="67.38" y="476.35" width="4.8" height="4.8" fill="#f6f7fa" stroke="#4c4c4c" stroke-width="1.15"/>
<rect x="75.35" y="473.23" width="4.8" height="4.8" fill="#f6f7fa" stroke="#4c4c4c" stroke-width="1.15"/>
<rect x="83.32" y="469.32" width="4.8" height="4.8" fill="#f6f7fa" stroke="#4c4c4c" stroke-width="1.15"/>
<rect x="91.29" y="478.6" width="4.8" height="4.8" fill="#f6f7fa" stroke="#4c4c4c" stroke-width="1.15"/>
<rect x="99.26" y="489.27" width="4.8" height="4.8" fill="#f6f7fa" stroke="#4c4c4c" stroke-width="1.15"/>
<rect x="107.23" y="501.4" width="4.8" height="4.8" fill="#f6f7fa" stroke="#4c4c4c" stroke-width="1.15"/>
<rect x="115.2" y="513.71" width="4.8" height="4.8" fill="#f6f7fa" stroke="#4c4c4c" stroke-width="1.15"/>
<rect x="123.17" y="521.43" width="4.8" height="4.8" fill="#f6f7fa" stroke="#4c4c4c" stroke-width="1.15"/>
<rect x="131.14" y="527.5" width="4.8" height="4.8" fill="#f6f7fa" stroke="#4c4c4c" stroke-width="1.15"/>
<rect x="139.11" y="521.43" width="4.8" height="4.8" fill="#f6f7fa" stroke="#4c4c4c" stroke-width="1.15"/>
<rect x="147.08" y="514.23" width="4.8" height="4.8" fill="#f6f7fa" stroke="#4c4c4c" stroke-width="1.15"/>
<rect x="155.05" y="501.58" width="4.8" height="4.8" fill="#f6f7fa" stroke="#4c4c4c" stroke-width="1.15"/>
<rect x="163.02" y="489.53" width="4.8" height="4.8" fill="#f6f7fa" stroke="#4c4c4c" stroke-width="1.15"/>
<rect x="170.99" y="480.16" width="4.8" height="4.8" fill="#f6f7fa" stroke="#4c4c4c" stroke-width="1.15"/>
<rect x="178.96" y="473.4" width="4.8" height="4.8" fill="#f6f7fa" stroke="#4c4c4c" stroke-width="1.15"/>
<rect x="186.93" y="485.62" width="4.8" height="4.8" fill="#f6f7fa" stroke="#4c4c4c" stroke-width="1.15"/>
<rect x="194.9" y="498.11" width="4.8" height="4.8" fill="#f6f7fa" stroke="#4c4c4c" stroke-width="1.15"/>
<rect x="202.87" y="507.82" width="4.8" height="4.8" fill="#f6f7fa" stroke="#4c4c4c" stroke-width="1.15"/>
<rect x="210.84" y="517.44" width="4.8" height="4.8" fill="#f6f7fa" stroke="#4c4c4c" stroke-width="1.15"/>
<rect x="218.81" y="522.04" width="4.8" height="4.8" fill="#f6f7fa" stroke="#4c4c4c" stroke-width="1.15"/>
<rect x="226.78" y="527.5" width="4.8" height="4.8" fill="#f6f7fa" stroke="#4c4c4c" stroke-width="1.15"/>
<rect x="234.75" y="522.38" width="4.8" height="4.8" fill="#f6f7fa" stroke="#4c4c4c" stroke-width="1.15"/>
<rect x="242.72" y="517.18" width="4.8" height="4.8" fill="#f6f7fa" stroke="#4c4c4c" stroke-width="1.15"/>
<rect x="250.69" y="507.99" width="4.8" height="4.8" fill="#f6f7fa" stroke="#4c4c4c" stroke-width="1.15"/>
<rect x="258.66" y="497.33" width="4.8" height="4.8" fill="#f6f7fa" stroke="#4c4c4c" stroke-width="1.15"/>
<rect x="266.63" y="487.18" width="4.8" height="4.8" fill="#f6f7fa" stroke="#4c4c4c" stroke-width="1.15"/>
<rect x="274.6" y="479.38" width="4.8" height="4.8" fill="#f6f7fa" stroke="#4c4c4c" stroke-width="1.15"/>
<rect x="282.57" y="491.52" width="4.8" height="4.8" fill="#f6f7fa" stroke="#4c4c4c" stroke-width="1.15"/>
<rect x="290.54" y="501.58" width="4.8" height="4.8" fill="#f6f7fa" stroke="#4c4c4c" stroke-width="1.15"/>
<rect x="298.51" y="511.46" width="4.8" height="4.8" fill="#f6f7fa" stroke="#4c4c4c" stroke-width="1.15"/>
<rect x="306.48" y="518.48" width="4.8" height="4.8" fill="#f6f7fa" stroke="#4c4c4c" stroke-width="1.15"/>
<rect x="314.45" y="522.82" width="4.8" height="4.8" fill="#f6f7fa" stroke="#4c4c4c" stroke-width="1.15"/>
<rect x="322.42" y="527.5" width="4.8" height="4.8" fill="#f6f7fa" stroke="#4c4c4c" stroke-width="1.15"/>
<rect x="289" y="436.5" width="44" height="12.5" fill="#fff" fill-opacity="0.55"/>
<text x="329.2" y="444.9" font-size="9.5" text-anchor="end" fill="#1a1a1a" stroke="#1a1a1a" stroke-width="0.22">PM-SAC</text>
<rect x="29.9" y="434.5" width="303.6" height="104.6" fill="none" stroke="#3a3a3a" stroke-width="1.3"/>
<line x1="26.9" y1="529.9" x2="29.9" y2="529.9" stroke="#3a3a3a" stroke-width="0.9"/>
<line x1="333.5" y1="529.9" x2="336.5" y2="529.9" stroke="#3a3a3a" stroke-width="0.9"/>
<text x="25.7" y="532.3" font-size="6.9" text-anchor="end" fill="#2a2a2a" stroke="#2a2a2a" stroke-width="0.22">0</text>
<text x="338.5" y="532.3" font-size="6.9" fill="#2a2a2a" stroke="#2a2a2a" stroke-width="0.22">0</text>
<line x1="28" y1="521.23" x2="29.9" y2="521.23" stroke="#3a3a3a" stroke-width="0.9"/>
<line x1="333.5" y1="521.23" x2="335.4" y2="521.23" stroke="#3a3a3a" stroke-width="0.9"/>
<line x1="26.9" y1="512.56" x2="29.9" y2="512.56" stroke="#3a3a3a" stroke-width="0.9"/>
<line x1="333.5" y1="512.56" x2="336.5" y2="512.56" stroke="#3a3a3a" stroke-width="0.9"/>
<text x="25.7" y="514.96" font-size="6.9" text-anchor="end" fill="#2a2a2a" stroke="#2a2a2a" stroke-width="0.22">20</text>
<text x="338.5" y="514.96" font-size="6.9" fill="#2a2a2a" stroke="#2a2a2a" stroke-width="0.22">20</text>
<line x1="28" y1="503.89" x2="29.9" y2="503.89" stroke="#3a3a3a" stroke-width="0.9"/>
<line x1="333.5" y1="503.89" x2="335.4" y2="503.89" stroke="#3a3a3a" stroke-width="0.9"/>
<line x1="26.9" y1="495.22" x2="29.9" y2="495.22" stroke="#3a3a3a" stroke-width="0.9"/>
<line x1="333.5" y1="495.22" x2="336.5" y2="495.22" stroke="#3a3a3a" stroke-width="0.9"/>
<text x="25.7" y="497.62" font-size="6.9" text-anchor="end" fill="#2a2a2a" stroke="#2a2a2a" stroke-width="0.22">40</text>
<text x="338.5" y="497.62" font-size="6.9" fill="#2a2a2a" stroke="#2a2a2a" stroke-width="0.22">40</text>
<line x1="28" y1="486.55" x2="29.9" y2="486.55" stroke="#3a3a3a" stroke-width="0.9"/>
<line x1="333.5" y1="486.55" x2="335.4" y2="486.55" stroke="#3a3a3a" stroke-width="0.9"/>
<line x1="26.9" y1="477.88" x2="29.9" y2="477.88" stroke="#3a3a3a" stroke-width="0.9"/>
<line x1="333.5" y1="477.88" x2="336.5" y2="477.88" stroke="#3a3a3a" stroke-width="0.9"/>
<text x="25.7" y="480.28" font-size="6.9" text-anchor="end" fill="#2a2a2a" stroke="#2a2a2a" stroke-width="0.22">60</text>
<text x="338.5" y="480.28" font-size="6.9" fill="#2a2a2a" stroke="#2a2a2a" stroke-width="0.22">60</text>
<line x1="28" y1="469.21" x2="29.9" y2="469.21" stroke="#3a3a3a" stroke-width="0.9"/>
<line x1="333.5" y1="469.21" x2="335.4" y2="469.21" stroke="#3a3a3a" stroke-width="0.9"/>
<line x1="26.9" y1="460.54" x2="29.9" y2="460.54" stroke="#3a3a3a" stroke-width="0.9"/>
<line x1="333.5" y1="460.54" x2="336.5" y2="460.54" stroke="#3a3a3a" stroke-width="0.9"/>
<text x="25.7" y="462.94" font-size="6.9" text-anchor="end" fill="#2a2a2a" stroke="#2a2a2a" stroke-width="0.22">80</text>
<text x="338.5" y="462.94" font-size="6.9" fill="#2a2a2a" stroke="#2a2a2a" stroke-width="0.22">80</text>
<line x1="28" y1="451.87" x2="29.9" y2="451.87" stroke="#3a3a3a" stroke-width="0.9"/>
<line x1="333.5" y1="451.87" x2="335.4" y2="451.87" stroke="#3a3a3a" stroke-width="0.9"/>
<line x1="26.9" y1="443.2" x2="29.9" y2="443.2" stroke="#3a3a3a" stroke-width="0.9"/>
<line x1="333.5" y1="443.2" x2="336.5" y2="443.2" stroke="#3a3a3a" stroke-width="0.9"/>
<text x="25.7" y="445.6" font-size="6.9" text-anchor="end" fill="#2a2a2a" stroke="#2a2a2a" stroke-width="0.22">100</text>
<text x="338.5" y="445.6" font-size="6.9" fill="#2a2a2a" stroke="#2a2a2a" stroke-width="0.22">100</text>
<line x1="37.9" y1="539.1" x2="37.9" y2="542.7" stroke="#3a3a3a" stroke-width="0.9"/>
<text x="37.9" y="550.9" font-size="6.9" text-anchor="middle" fill="#2a2a2a" stroke="#2a2a2a" stroke-width="0.22">300</text>
<line x1="49.85" y1="539.1" x2="49.85" y2="541.3" stroke="#3a3a3a" stroke-width="0.9"/>
<line x1="61.81" y1="539.1" x2="61.81" y2="542.7" stroke="#3a3a3a" stroke-width="0.9"/>
<text x="61.81" y="550.9" font-size="6.9" text-anchor="middle" fill="#2a2a2a" stroke="#2a2a2a" stroke-width="0.22">450</text>
<line x1="73.77" y1="539.1" x2="73.77" y2="541.3" stroke="#3a3a3a" stroke-width="0.9"/>
<line x1="85.72" y1="539.1" x2="85.72" y2="542.7" stroke="#3a3a3a" stroke-width="0.9"/>
<text x="85.72" y="550.9" font-size="6.9" text-anchor="middle" fill="#2a2a2a" stroke="#2a2a2a" stroke-width="0.22">600</text>
<line x1="97.67" y1="539.1" x2="97.67" y2="541.3" stroke="#3a3a3a" stroke-width="0.9"/>
<line x1="109.63" y1="539.1" x2="109.63" y2="542.7" stroke="#3a3a3a" stroke-width="0.9"/>
<text x="109.63" y="550.9" font-size="6.9" text-anchor="middle" fill="#2a2a2a" stroke="#2a2a2a" stroke-width="0.22">450</text>
<line x1="121.59" y1="539.1" x2="121.59" y2="541.3" stroke="#3a3a3a" stroke-width="0.9"/>
<line x1="133.54" y1="539.1" x2="133.54" y2="542.7" stroke="#3a3a3a" stroke-width="0.9"/>
<text x="133.54" y="550.9" font-size="6.9" text-anchor="middle" fill="#2a2a2a" stroke="#2a2a2a" stroke-width="0.22">300</text>
<line x1="145.5" y1="539.1" x2="145.5" y2="541.3" stroke="#3a3a3a" stroke-width="0.9"/>
<line x1="157.45" y1="539.1" x2="157.45" y2="542.7" stroke="#3a3a3a" stroke-width="0.9"/>
<text x="157.45" y="550.9" font-size="6.9" text-anchor="middle" fill="#2a2a2a" stroke="#2a2a2a" stroke-width="0.22">450</text>
<line x1="169.41" y1="539.1" x2="169.41" y2="541.3" stroke="#3a3a3a" stroke-width="0.9"/>
<line x1="181.36" y1="539.1" x2="181.36" y2="542.7" stroke="#3a3a3a" stroke-width="0.9"/>
<text x="181.36" y="550.9" font-size="6.9" text-anchor="middle" fill="#2a2a2a" stroke="#2a2a2a" stroke-width="0.22">600</text>
<line x1="193.31" y1="539.1" x2="193.31" y2="541.3" stroke="#3a3a3a" stroke-width="0.9"/>
<line x1="205.27" y1="539.1" x2="205.27" y2="542.7" stroke="#3a3a3a" stroke-width="0.9"/>
<text x="205.27" y="550.9" font-size="6.9" text-anchor="middle" fill="#2a2a2a" stroke="#2a2a2a" stroke-width="0.22">450</text>
<line x1="217.22" y1="539.1" x2="217.22" y2="541.3" stroke="#3a3a3a" stroke-width="0.9"/>
<line x1="229.18" y1="539.1" x2="229.18" y2="542.7" stroke="#3a3a3a" stroke-width="0.9"/>
<text x="229.18" y="550.9" font-size="6.9" text-anchor="middle" fill="#2a2a2a" stroke="#2a2a2a" stroke-width="0.22">300</text>
<line x1="241.13" y1="539.1" x2="241.13" y2="541.3" stroke="#3a3a3a" stroke-width="0.9"/>
<line x1="253.09" y1="539.1" x2="253.09" y2="542.7" stroke="#3a3a3a" stroke-width="0.9"/>
<text x="253.09" y="550.9" font-size="6.9" text-anchor="middle" fill="#2a2a2a" stroke="#2a2a2a" stroke-width="0.22">450</text>
<line x1="265.04" y1="539.1" x2="265.04" y2="541.3" stroke="#3a3a3a" stroke-width="0.9"/>
<line x1="277" y1="539.1" x2="277" y2="542.7" stroke="#3a3a3a" stroke-width="0.9"/>
<text x="277" y="550.9" font-size="6.9" text-anchor="middle" fill="#2a2a2a" stroke="#2a2a2a" stroke-width="0.22">600</text>
<line x1="288.95" y1="539.1" x2="288.95" y2="541.3" stroke="#3a3a3a" stroke-width="0.9"/>
<line x1="300.91" y1="539.1" x2="300.91" y2="542.7" stroke="#3a3a3a" stroke-width="0.9"/>
<text x="300.91" y="550.9" font-size="6.9" text-anchor="middle" fill="#2a2a2a" stroke="#2a2a2a" stroke-width="0.22">450</text>
<line x1="312.86" y1="539.1" x2="312.86" y2="541.3" stroke="#3a3a3a" stroke-width="0.9"/>
<line x1="324.82" y1="539.1" x2="324.82" y2="542.7" stroke="#3a3a3a" stroke-width="0.9"/>
<text x="324.82" y="550.9" font-size="6.9" text-anchor="middle" fill="#2a2a2a" stroke="#2a2a2a" stroke-width="0.22">300</text>
<text transform="translate(12.6,489) rotate(-90)" font-size="8.85" text-anchor="middle" fill="#222" stroke="#222" stroke-width="0.22">Selectivity (%)</text>
<text transform="translate(357.3,485.3) rotate(-90)" font-size="8.7" text-anchor="middle" fill="#222" stroke="#222" stroke-width="0.22">CO<tspan font-size="5.5" dy="1.8">2</tspan><tspan dy="-1.8"> conversion (%)</tspan></text>
<text x="181.5" y="561.9" font-size="8.6" text-anchor="middle" fill="#222" stroke="#222" stroke-width="0.22">Temperature (<tspan font-size="5.5" dy="-2.8">o</tspan><tspan dy="2.8">C)</tspan></text>
<text x="2.2" y="436.6" font-size="15" font-weight="bold" fill="#000">g</text>

<rect x="12.9" y="1.1" width="10.1" height="6.9" fill="url(#gr)"/>
<text x="23.6" y="7.3" font-size="6.8" fill="#222" stroke="#222" stroke-width="0.22">CH<tspan font-size="4.6" dy="1.4">4</tspan><tspan dy="-1.4"> selectivity (%)</tspan></text>
<rect x="82.9" y="1.1" width="9.2" height="6.9" fill="url(#gb)"/>
<text x="93.2" y="7.3" font-size="6.8" fill="#222" stroke="#222" stroke-width="0.22">CO selectivity (%)</text>
<line x1="149.8" y1="4.6" x2="164" y2="4.6" stroke="#333" stroke-width="0.8"/>
<rect x="154.4" y="2.4" width="4.4" height="4.4" fill="#fff" stroke="#444" stroke-width="0.9"/>
<text x="164.5" y="7.3" font-size="6.8" fill="#222" stroke="#222" stroke-width="0.22">CO<tspan font-size="4.6" dy="1.4">2</tspan><tspan dy="-1.4"> conversion (%)</tspan></text>
<line x1="227" y1="4.6" x2="237" y2="4.6" stroke="#888" stroke-width="0.8" stroke-dasharray="1.6,1"/>
<path d="M231.8,1.6 L235.1,6.9 L228.5,6.9Z" fill="#e6d678"/>
<text x="238.4" y="7.3" font-size="6.8" fill="#222" stroke="#222" stroke-width="0.22">Equilibrium CO<tspan font-size="4.6" dy="1.4">2</tspan><tspan dy="-1.4"> conversion to CO (%)</tspan></text>

<clipPath id="clipb"><rect x="381.9" y="2.9" width="127.1" height="126.1"/></clipPath>
<g clip-path="url(#clipb)">
<rect x="381.9" y="2.9" width="127.1" height="126.1" fill="#171717"/>
<rect x="381.9" y="2.9" width="127.1" height="126.1" fill="url(#bbg)"/>
<path d="M382,52 C392,50 405,53 412,58 L414,80 C404,78 392,80 382,82Z" fill="#2a2a2a" filter="url(#blur3)"/>
<path d="M458,82 C472,78 490,76 510,70 L510,78 C492,82 474,85 460,88Z" fill="#2e2e2e" filter="url(#blur2)"/>
<path d="M484,32 C492,24 500,20 510,18" stroke="#333" stroke-width="2.5" fill="none" filter="url(#blur1)"/>
<mask id="mhb"><g filter="url(#blur3)" opacity="1"><circle cx="470.3" cy="41.3" r="17" fill="#fff"/><circle cx="443.6" cy="41.6" r="13" fill="#fff"/><circle cx="420.4" cy="62" r="13" fill="#fff"/><circle cx="433.5" cy="16.5" r="11" fill="#fff"/><circle cx="465.2" cy="68" r="9" fill="#fff"/><circle cx="453" cy="78.7" r="9" fill="#fff"/><circle cx="446.4" cy="61.6" r="9" fill="#fff"/><circle cx="435" cy="77" r="8" fill="#fff"/><circle cx="428" cy="81" r="7" fill="#fff"/><circle cx="417" cy="76" r="6" fill="#fff"/><circle cx="440" cy="88" r="7" fill="#fff"/><circle cx="452" cy="88" r="6" fill="#fff"/><circle cx="432" cy="50" r="8" fill="#fff"/><circle cx="456" cy="56" r="8" fill="#fff"/><circle cx="430" cy="30" r="6" fill="#fff"/><circle cx="420" cy="44" r="5" fill="#fff"/><circle cx="445" cy="72" r="9" fill="#fff"/><circle cx="460" cy="85" r="6" fill="#fff"/><circle cx="470" cy="58" r="7" fill="#fff"/><circle cx="425" cy="70" r="7" fill="#fff"/><circle cx="438" cy="28" r="6" fill="#fff"/></g></mask>
<rect x="400" y="0" width="95" height="100" fill="#fff" filter="url(#texB)" mask="url(#mhb)"/>
<g filter="url(#blur05)">
<circle cx="452" cy="90" r="3" fill="url(#np2)"/>
<circle cx="440" cy="86" r="2.6" fill="url(#np2)"/>
<circle cx="431" cy="91" r="2.2" fill="url(#np2)"/>
<circle cx="463" cy="80" r="2.4" fill="url(#np2)"/>
<circle cx="444" cy="76" r="2.8" fill="url(#np2)"/>
<circle cx="436" cy="69" r="2.4" fill="url(#np2)"/>
<circle cx="426" cy="72" r="2.2" fill="url(#np2)"/>
<circle cx="458" cy="62" r="2.6" fill="url(#np2)"/>
<circle cx="471" cy="59" r="2" fill="url(#np2)"/>
<circle cx="415" cy="84" r="2" fill="url(#np2)"/>
<circle cx="447" cy="96" r="2.2" fill="url(#np2)"/>
<circle cx="438" cy="96" r="2" fill="url(#np2)"/>
<circle cx="423" cy="79" r="2.3" fill="url(#np2)"/>
<circle cx="432" cy="40" r="2.2" fill="url(#np2)"/>
<circle cx="421" cy="30" r="1.8" fill="url(#np2)"/>
<circle cx="441" cy="28" r="1.8" fill="url(#np2)"/>
<circle cx="455" cy="25" r="2" fill="url(#np2)"/>
<circle cx="427" cy="8" r="2.2" fill="url(#np2)"/>
<circle cx="440" cy="9" r="2" fill="url(#np2)"/>
<circle cx="424" cy="22" r="2" fill="url(#np2)"/>
<circle cx="459" cy="72" r="2.2" fill="url(#np2)"/>
<circle cx="469" cy="76" r="2" fill="url(#np2)"/>
<circle cx="412" cy="70" r="2" fill="url(#np2)"/>
<circle cx="429" cy="62" r="2.4" fill="url(#np2)"/>
<circle cx="452" cy="51" r="2.2" fill="url(#np2)"/>
<circle cx="436" cy="53" r="2" fill="url(#np2)"/>
<circle cx="470.3" cy="41.3" r="15.0" fill="url(#np)"/>
<circle cx="443.6" cy="41.6" r="10.9" fill="url(#np)"/>
<circle cx="420.4" cy="62" r="10.9" fill="url(#np)"/>
<circle cx="433.5" cy="16.5" r="7.6" fill="url(#np)"/>
<circle cx="465.2" cy="68" r="6.1" fill="url(#np)"/>
<circle cx="453" cy="78.7" r="5.6" fill="url(#np)"/>
<circle cx="446.4" cy="61.6" r="4.0" fill="url(#np)"/>
<circle cx="435.3" cy="75.9" r="3.2" fill="url(#np)"/>
<circle cx="428.9" cy="79.9" r="2.9" fill="url(#np)"/>
<circle cx="417" cy="75.9" r="2.9" fill="url(#np)"/>
<circle cx="418.5" cy="41.7" r="2.1" fill="url(#np)"/>
<circle cx="420.1" cy="46.4" r="1.8" fill="url(#np)"/>
<circle cx="406.6" cy="70.3" r="1.9" fill="url(#np)"/>
<circle cx="434.5" cy="54.4" r="2.4" fill="url(#np)"/>
<circle cx="457.6" cy="56" r="2.4" fill="url(#np)"/>
<circle cx="452.8" cy="87.9" r="2.4" fill="url(#np)"/>
<circle cx="436.9" cy="89.5" r="2.0" fill="url(#np)"/>
<circle cx="430.5" cy="87.5" r="1.8" fill="url(#np)"/>
<circle cx="460.5" cy="80" r="1.8" fill="url(#np)"/>
<circle cx="441" cy="68" r="2.0" fill="url(#np)"/>
<circle cx="437" cy="62" r="1.8" fill="url(#np)"/>
<circle cx="424" cy="84" r="1.8" fill="url(#np)"/>
<circle cx="447" cy="88" r="1.8" fill="url(#np)"/>
<circle cx="476" cy="60" r="1.6" fill="url(#np)"/>
<circle cx="455" cy="30" r="1.4" fill="url(#np)"/>
</g>
<g filter="url(#shadow)"><circle cx="407.2" cy="104.3" r="23.5" fill="url(#insetbg)"/></g>
<clipPath id="cib"><circle cx="407.2" cy="104.3" r="23.5"/></clipPath>
<g clip-path="url(#cib)">
<path d="M416.96,91.08L417.9,88.42M418.29,100.79L423.36,99.87M392.53,93.04L393.47,90.38M390.87,138.13L391.81,135.47M406.98,65.53L411.12,67.26M366.22,100.32L371.29,99.39M405.1,70.84L410.18,69.92M449.12,107.62L454.19,106.7M429.37,96.29L430.31,93.63M438.97,109.47L443.11,111.21M384.09,116.97L388.23,118.71M378.85,145.3L379.79,142.64M418.51,140.57L422.64,142.3M416.63,145.89L421.71,144.96M366.61,112.69L371.68,111.76M395.73,97.43L399.86,99.17M443.49,123.58L448.57,122.66M400.08,138.94L404.22,140.68M383.7,104.6L387.84,106.33M428.99,83.92L429.92,81.26M360.98,128.64L366.05,127.72M396.5,122.18L397.44,119.52M402.9,130.97L407.03,132.7M381.28,124.95L382.21,122.29M390.27,85.99L395.34,85.06M448.18,110.28L449.12,107.62M434.28,122.77L439.36,121.84M372.23,96.73L377.31,95.81M385.75,71.88L386.68,69.22M394.96,72.69L399.09,74.43M384.86,141.71L385.8,139.05M396.89,134.55L397.82,131.89M405.49,83.22L410.56,82.29M414.15,99.06L418.29,100.79M365.67,115.35L369.8,117.08M422.59,75.13L423.53,72.47M419.78,83.1L420.71,80.45M393.47,90.38L398.54,89.46M448.57,122.66L449.5,120M389.72,101.02L390.65,98.36M366.05,127.72L366.99,125.06M377.31,95.81L381.44,97.55M406.26,107.96L411.34,107.04M359.66,118.93L363.79,120.66M368.87,119.74L373,121.48M416.96,91.08L421.1,92.82M371.85,84.36L376.92,83.44M368.48,107.37L369.42,104.71M382.99,147.03L388.06,146.11M401.35,81.48L405.49,83.22M399.09,74.43L404.17,73.5M414.54,111.43L415.47,108.77M405.32,110.62L406.26,107.96M405.88,95.59L410.95,94.66M409.08,99.98L414.15,99.06M432.74,73.28L437.81,72.36M380.12,87.83L384.26,89.57M407.37,77.9L411.5,79.63M423.91,84.84L428.99,83.92M419.78,83.1L423.91,84.84M429.37,96.29L433.51,98.02M377.69,108.18L378.63,105.52M408.52,115.01L409.46,112.35M392.69,65.64L397.77,64.71M422.2,62.76L426.34,64.49M388.94,76.27L389.88,73.61M425.07,121.95L430.14,121.03M439.36,121.84L440.29,119.18M358.88,94.19L363.02,95.92M389,143.45L394.07,142.53M381.66,137.32L382.6,134.66M427.88,113.98L432.96,113.05M375.26,128.53L376.2,125.87M432.57,100.68L436.71,102.42M424.52,136.99L425.46,134.33M391.76,68.3L395.89,70.03M394.07,142.53L398.21,144.26M409.68,152.13L410.62,149.47M426.17,91.89L430.31,93.63M448.57,122.66L452.7,124.39M418.67,113.17L423.75,112.24M370.19,129.45L375.26,128.53M421.1,92.82L426.17,91.89M415.09,96.4L420.16,95.48M424.13,124.61L428.27,126.35M406.48,147.73L407.42,145.07M361.7,86.21L365.83,87.94M391.81,135.47L396.89,134.55M366.05,127.72L370.19,129.45M445.37,118.26L449.5,120M430.53,133.4L431.47,130.74M388.56,63.9L389.5,61.24M371.46,71.99L376.53,71.07M368.09,95L369.03,92.34M388.06,146.11L392.2,147.84M410.18,69.92L414.32,71.66M406.1,135.36L407.03,132.7M439.36,121.84L443.49,123.58M425.4,67.15L429.54,68.89M430.7,106L435.77,105.08M378.08,120.55L382.21,122.29M420.55,107.85L421.49,105.19M396.5,122.18L400.64,123.91M444.21,81.15L448.35,82.88M432.96,113.05L433.9,110.4M396.11,109.81L397.05,107.15M430.53,133.4L434.67,135.14M387.67,133.74L388.61,131.08M363.79,120.66L368.87,119.74M421.32,132.59L425.46,134.33M410.95,94.66L411.89,92.01M444.6,93.52L448.73,95.25M426.56,104.27L427.5,101.61M376.92,83.44L381.06,85.17M413.76,86.69L417.9,88.42M380.89,112.58L381.83,109.92M446.69,127.97L451.77,127.05M398.16,77.09L402.29,78.82M423.75,112.24L427.88,113.98M374.11,91.42L375.04,88.76M421.87,117.56L426.95,116.64M400.64,123.91L405.71,122.99M400.25,111.54L405.32,110.62M402.13,106.22L403.06,103.56M368.65,79.97L373.72,79.04M424.13,124.61L425.07,121.95M385.8,139.05L390.87,138.13M417.35,103.45L418.29,100.79M415.69,148.54L416.63,145.89M410.56,82.29L414.7,84.03M389.33,88.65L393.47,90.38M371.68,111.76L372.62,109.11M424.9,149.36L425.84,146.7M360.59,116.27L365.67,115.35M439.91,106.81L444.98,105.89M442.33,86.46L447.41,85.54M372.62,109.11L377.69,108.18M385.75,71.88L389.88,73.61M375.26,128.53L379.4,130.27M447.41,85.54L448.35,82.88M419.39,70.73L423.53,72.47M447.79,97.91L448.73,95.25M437.48,127.16L442.55,126.24M376.2,125.87L381.28,124.95M434.61,67.96L438.75,69.7M441.78,101.49L442.72,98.84M448.35,82.88L453.42,81.96M404.61,153.05L409.68,152.13M437.81,72.36L441.95,74.09M426.34,64.49L431.41,63.57M380.5,100.2L384.64,101.94M406.1,135.36L410.23,137.1M397.82,131.89L402.9,130.97M384.26,89.57L389.33,88.65M375.65,140.9L379.79,142.64M391.26,150.5L392.2,147.84M423.53,72.47L428.6,71.55M441.01,76.75L445.15,78.49M393.85,102.75L398.93,101.83M403.78,61.13L404.72,58.47M408.3,75.24L413.38,74.32M401.02,136.28L406.1,135.36M369.8,117.08L374.88,116.16M391.43,123.1L396.5,122.18M415.47,108.77L420.55,107.85M402.51,118.59L406.65,120.33M372.07,124.14L376.2,125.87M412.11,131.78L413.05,129.12M419.06,125.54L424.13,124.61M426.56,104.27L430.7,106M430.92,145.77L431.85,143.12M383.32,92.23L384.26,89.57M415.86,121.14L420.93,120.22M384.64,101.94L389.72,101.02M395.34,85.06L396.28,82.4M424.68,109.58L429.76,108.66M423.36,99.87L424.3,97.21M433.51,98.02L438.58,97.1M420.33,68.07L425.4,67.15M401.74,93.85L405.88,95.59M402.51,118.59L403.45,115.94M416.19,66.34L417.13,63.68M393.69,130.15L397.82,131.89M419.83,150.28L424.9,149.36M381.28,124.95L385.41,126.68M382.6,134.66L387.67,133.74M386.13,84.25L387.07,81.59M395.01,139.87L400.08,138.94M414.92,123.8L415.86,121.14M377.47,68.41L382.55,67.48M395.73,97.43L396.67,94.78M438.58,97.1L442.72,98.84M385.03,114.31L390.1,113.39M367.38,137.43L372.45,136.51M379.79,142.64L384.86,141.71M389.5,61.24L394.57,60.32M409.3,139.76L413.43,141.49M397.44,119.52L402.51,118.59M400.58,56.74L404.72,58.47M416.24,133.51L421.32,132.59M449.5,120L454.58,119.07M411.89,92.01L416.96,91.08M430.14,121.03L431.08,118.37M370.58,141.83L375.65,140.9M451.38,114.68L455.52,116.41M413.38,74.32L417.51,76.05M386.13,84.25L390.27,85.99M390.1,113.39L394.24,115.12M427.33,129.01L431.47,130.74M373.72,79.04L374.66,76.39M415.31,136.17L416.24,133.51M387.29,121.37L391.43,123.1M448.73,95.25L453.81,94.33M386.52,96.62L387.45,93.96M364.18,133.04L369.25,132.11M388.61,131.08L393.69,130.15M397.05,107.15L402.13,106.22M374.11,91.42L378.24,93.15M451.93,99.65L457.01,98.72M382.55,67.48L383.48,64.83M400.47,151.31L401.41,148.66M444.98,105.89L445.92,103.23M435,80.33L439.14,82.07M384.86,141.71L389,143.45M401.41,148.66L406.48,147.73M435.77,105.08L436.71,102.42M421.71,144.96L425.84,146.7M404.17,73.5L408.3,75.24M442.17,113.87L443.11,111.21M418.51,140.57L419.44,137.91M398.93,101.83L399.86,99.17M377.31,95.81L378.24,93.15M412.99,61.94L413.93,59.29M377.69,108.18L381.83,109.92M359.82,91.53L364.9,90.6M380.89,112.58L385.03,114.31M388.56,63.9L392.69,65.64M380.67,72.8L385.75,71.88M454.19,106.7L458.33,108.44M439.74,134.21L443.88,135.95M376.53,71.07L377.47,68.41M427.72,141.38L428.65,138.72M374.66,76.39L379.73,75.46M387.67,133.74L391.81,135.47M445.75,130.63L446.69,127.97M432.57,100.68L433.51,98.02M445.15,78.49L450.22,77.56M371.29,99.39L372.23,96.73M391.04,110.73L396.11,109.81M397.27,146.92L398.21,144.26M392.91,105.41L393.85,102.75M382.93,79.86L383.87,77.2M437.81,72.36L438.75,69.7M436.32,90.05L441.4,89.12M401.91,66.45L406.98,65.53M436.54,129.82L440.68,131.56M398.54,89.46L402.68,91.19M404.94,98.25L409.08,99.98M409.46,112.35L414.54,111.43M414.92,123.8L419.06,125.54M433.73,137.8L437.87,139.53M417.13,63.68L422.2,62.76M381.06,85.17L386.13,84.25M418.12,128.2L422.26,129.93M442.55,126.24L443.49,123.58M435.94,77.68L441.01,76.75M377.86,80.78L382.93,79.86M447.41,85.54L451.55,87.28M382.21,122.29L387.29,121.37M366.99,125.06L372.07,124.14M440.68,131.56L445.75,130.63M424.52,136.99L428.65,138.72M416.19,66.34L420.33,68.07M407.75,90.27L408.69,87.61M362.08,98.58L366.22,100.32M391.76,68.3L392.69,65.64M417.73,115.82L418.67,113.17M418.89,152.94L419.83,150.28M384.48,129.34L388.61,131.08M450.99,102.31L455.13,104.04M431.08,118.37L436.16,117.45M382.55,67.48L386.68,69.22M432.19,88.31L433.12,85.65M448.18,110.28L452.32,112.02M362.47,110.95L363.41,108.29M438.97,109.47L439.91,106.81M394.24,115.12L399.31,114.2M415.69,148.54L419.83,150.28M404.94,98.25L405.88,95.59M407.37,77.9L408.3,75.24M403.78,61.13L407.92,62.87M356.07,102.16L360.21,103.9M427.11,89.23L432.19,88.31M389.72,101.02L393.85,102.75M447.79,97.91L451.93,99.65M435.38,92.71L439.52,94.44M429.54,68.89L434.61,67.96M379.73,75.46L383.87,77.2M416.58,78.71L420.71,80.45M422.64,142.3L427.72,141.38M383.87,77.2L388.94,76.27M390.49,125.76L391.43,123.1M412.11,131.78L416.24,133.51M412.49,144.15L416.63,145.89M369.42,104.71L374.49,103.79M421.49,105.19L426.56,104.27M405.71,122.99L409.85,124.72M373.39,133.85L378.46,132.92M452.32,112.02L457.39,111.1M441.01,76.75L441.95,74.09M439.14,82.07L444.21,81.15M381.44,97.55L386.52,96.62M402.29,78.82L407.37,77.9M454.19,106.7L455.13,104.04M437.09,114.79L442.17,113.87M372.45,136.51L373.39,133.85M389.33,88.65L390.27,85.99M365.28,102.98L369.42,104.71M378.63,105.52L383.7,104.6M374.88,116.16L375.82,113.5M373.72,79.04L377.86,80.78M392.2,147.84L397.27,146.92M363.02,95.92L368.09,95M383.32,92.23L387.45,93.96M395.89,70.03L400.97,69.11M373,121.48L378.08,120.55M405.71,122.99L406.65,120.33M412.66,116.75L417.73,115.82M357.39,111.88L362.47,110.95M375.43,101.13L380.5,100.2M397.27,146.92L401.41,148.66M401.35,81.48L402.29,78.82M407.75,90.27L411.89,92.01M400.47,151.31L404.61,153.05M398.93,101.83L403.06,103.56M359.27,106.56L363.41,108.29M432.19,88.31L436.32,90.05M422.2,62.76L423.14,60.1M376.53,71.07L380.67,72.8M436.93,142.19L437.87,139.53M362.85,123.32L366.99,125.06M421.32,132.59L422.26,129.93M408.14,102.64L409.08,99.98M380.12,87.83L381.06,85.17M426.17,91.89L427.11,89.23M372.07,124.14L373,121.48M427.72,141.38L431.85,143.12M411.72,119.41L412.66,116.75M392.14,80.67L396.28,82.4M390.87,138.13L395.01,139.87M439.74,134.21L440.68,131.56M396.89,134.55L401.02,136.28M417.35,103.45L421.49,105.19M372.45,136.51L376.59,138.24M381.66,137.32L385.8,139.05M390.49,125.76L394.62,127.5M398.21,144.26L403.28,143.34M387.07,81.59L392.14,80.67M422.59,75.13L426.73,76.86M404.55,85.88L405.49,83.22M388.94,76.27L393.08,78.01M383.48,64.83L388.56,63.9M413.76,86.69L414.7,84.03M388.23,118.71L393.3,117.78M412.49,144.15L413.43,141.49M395.4,152.24L400.47,151.31M378.46,132.92L382.6,134.66M427.5,101.61L432.57,100.68M419.39,70.73L420.33,68.07M428.27,126.35L433.34,125.43M408.91,127.38L409.85,124.72M428.6,71.55L429.54,68.89M410.18,69.92L411.12,67.26M381.83,109.92L386.9,108.99M414.54,111.43L418.67,113.17M443.11,111.21L448.18,110.28M406.48,147.73L410.62,149.47M367.71,82.63L368.65,79.97M386.9,108.99L387.84,106.33M425.79,79.52L426.73,76.86M420.55,107.85L424.68,109.58M406.98,65.53L407.92,62.87M376.92,83.44L377.86,80.78M410.95,94.66L415.09,96.4M414.32,71.66L419.39,70.73M438.2,84.73L442.33,86.46M436.16,117.45L440.29,119.18M436.71,102.42L441.78,101.49M438.75,69.7L443.82,68.77M408.69,87.61L413.76,86.69M425.79,79.52L429.92,81.26M396.28,82.4L401.35,81.48M416.58,78.71L417.51,76.05M437.87,139.53L442.94,138.61M365.28,102.98L366.22,100.32M374.49,103.79L375.43,101.13M414.7,84.03L419.78,83.1M402.13,106.22L406.26,107.96M421.71,144.96L422.64,142.3M442.72,98.84L447.79,97.91M408.91,127.38L413.05,129.12M410.56,82.29L411.5,79.63M365.67,115.35L366.61,112.69M378.24,93.15L383.32,92.23M407.92,62.87L412.99,61.94M422.97,87.5L427.11,89.23M403.06,103.56L408.14,102.64M394.62,127.5L399.7,126.57M409.68,152.13L413.82,153.86M392.14,80.67L393.08,78.01M383.7,104.6L384.64,101.94M400.97,69.11L405.1,70.84M410.23,137.1L415.31,136.17M393.3,117.78L394.24,115.12M360.21,103.9L365.28,102.98M429.76,108.66L430.7,106M400.08,138.94L401.02,136.28M410.62,149.47L415.69,148.54M411.34,107.04L415.47,108.77M365.83,87.94L370.91,87.02M387.45,93.96L392.53,93.04M442.55,126.24L446.69,127.97M420.71,80.45L425.79,79.52M404.55,85.88L408.69,87.61M445.53,90.86L450.61,89.94M364.51,78.23L368.65,79.97M375.04,88.76L380.12,87.83M435.77,105.08L439.91,106.81M432.96,113.05L437.09,114.79M445.92,103.23L450.99,102.31M375.65,140.9L376.59,138.24M425.4,67.15L426.34,64.49M403.28,143.34L407.42,145.07M446.31,115.6L451.38,114.68M375.82,113.5L380.89,112.58M407.42,145.07L412.49,144.15M422.26,129.93L427.33,129.01M387.84,106.33L392.91,105.41M399.31,114.2L400.25,111.54M367.71,82.63L371.85,84.36M402.9,130.97L403.84,128.31M393.3,117.78L397.44,119.52M441.4,89.12L442.33,86.46M450.61,89.94L451.55,87.28M434.61,67.96L435.55,65.3M435,80.33L435.94,77.68M445.37,118.26L446.31,115.6M386.9,108.99L391.04,110.73M379.02,117.89L384.09,116.97M430.14,121.03L434.28,122.77M403.28,143.34L404.22,140.68M426.73,76.86L431.8,75.94M397.77,64.71L401.91,66.45M364.9,90.6L365.83,87.94M362.63,83.55L367.71,82.63M390.1,113.39L391.04,110.73M441.4,89.12L445.53,90.86M390.65,98.36L395.73,97.43M414.15,99.06L415.09,96.4M425.46,134.33L430.53,133.4M445.75,130.63L449.89,132.37M386.68,69.22L391.76,68.3M411.72,119.41L415.86,121.14M418.12,128.2L419.06,125.54M419.44,137.91L424.52,136.99M396.67,94.78L401.74,93.85M412.99,61.94L417.13,63.68M362.08,98.58L363.02,95.92M420.16,95.48L421.1,92.82M370.52,74.65L374.66,76.39M394.57,60.32L398.71,62.06M420.16,95.48L424.3,97.21M388.06,146.11L389,143.45M439.52,94.44L444.6,93.52M438.58,97.1L439.52,94.44M431.47,130.74L436.54,129.82M370.91,87.02L371.85,84.36M411.12,67.26L416.19,66.34M409.79,57.55L413.93,59.29M436.54,129.82L437.48,127.16M406.65,120.33L411.72,119.41M408.52,115.01L412.66,116.75M417.73,115.82L421.87,117.56M403.84,128.31L408.91,127.38M417.51,76.05L422.59,75.13M368.87,119.74L369.8,117.08M444.6,93.52L445.53,90.86M392.53,93.04L396.67,94.78M364.9,90.6L369.03,92.34M378.46,132.92L379.4,130.27M411.5,79.63L416.58,78.71M369.25,132.11L373.39,133.85M425.84,146.7L430.92,145.77M405.32,110.62L409.46,112.35M404.17,73.5L405.1,70.84M368.09,95L372.23,96.73M392.91,105.41L397.05,107.15M370.91,87.02L375.04,88.76M395.34,85.06L399.48,86.8M401.74,93.85L402.68,91.19M393.08,78.01L398.16,77.09M441.95,74.09L447.02,73.17M398.54,89.46L399.48,86.8M444.98,105.89L449.12,107.62M369.25,132.11L370.19,129.45M379.73,75.46L380.67,72.8M389.88,73.61L394.96,72.69M400.97,69.11L401.91,66.45M399.86,99.17L404.94,98.25M434.67,135.14L439.74,134.21M386.52,96.62L390.65,98.36M441.78,101.49L445.92,103.23M394.07,142.53L395.01,139.87M426.95,116.64L431.08,118.37M379.4,130.27L384.48,129.34M435.38,92.71L436.32,90.05M369.03,92.34L374.11,91.42M413.05,129.12L418.12,128.2M413.38,74.32L414.32,71.66M396.11,109.81L400.25,111.54M433.12,85.65L438.2,84.73M374.88,116.16L379.02,117.89M380.5,100.2L381.44,97.55M382.93,79.86L387.07,81.59M428.65,138.72L433.73,137.8M378.08,120.55L379.02,117.89M423.36,99.87L427.5,101.61M444.21,81.15L445.15,78.49M394.57,60.32L395.51,57.66M433.34,125.43L437.48,127.16M450.99,102.31L451.93,99.65M423.75,112.24L424.68,109.58M424.3,97.21L429.37,96.29M399.7,126.57L403.84,128.31M450.61,89.94L454.74,91.67M385.41,126.68L390.49,125.76M415.31,136.17L419.44,137.91M409.3,139.76L410.23,137.1M357.01,99.5L362.08,98.58M399.48,86.8L404.55,85.88M426.95,116.64L427.88,113.98M374.49,103.79L378.63,105.52M412.27,104.38L417.35,103.45M368.48,107.37L372.62,109.11M438.2,84.73L439.14,82.07M431.85,143.12L436.93,142.19M428.99,83.92L433.12,85.65M429.76,108.66L433.9,110.4M430.31,93.63L435.38,92.71M433.34,125.43L434.28,122.77M429.92,81.26L435,80.33M411.34,107.04L412.27,104.38M363.41,108.29L368.48,107.37M407.03,132.7L412.11,131.78M428.6,71.55L432.74,73.28M420.93,120.22L421.87,117.56M417.9,88.42L422.97,87.5M398.16,77.09L399.09,74.43M394.96,72.69L395.89,70.03M402.68,91.19L407.75,90.27M422.97,87.5L423.91,84.84M408.14,102.64L412.27,104.38M413.93,59.29L419,58.36M359.27,106.56L360.21,103.9M393.69,130.15L394.62,127.5M436.16,117.45L437.09,114.79M399.31,114.2L403.45,115.94M431.8,75.94L432.74,73.28M398.71,62.06L403.78,61.13M409.85,124.72L414.92,123.8M433.73,137.8L434.67,135.14M404.72,58.47L409.79,57.55M397.77,64.71L398.71,62.06M433.9,110.4L438.97,109.47M451.38,114.68L452.32,112.02M376.59,138.24L381.66,137.32M413.43,141.49L418.51,140.57M427.33,129.01L428.27,126.35M442.17,113.87L446.31,115.6M387.29,121.37L388.23,118.71M362.85,123.32L363.79,120.66M371.29,99.39L375.43,101.13M399.7,126.57L400.64,123.91M440.29,119.18L445.37,118.26M362.47,110.95L366.61,112.69M420.93,120.22L425.07,121.95M431.8,75.94L435.94,77.68M384.09,116.97L385.03,114.31M404.22,140.68L409.3,139.76M371.68,111.76L375.82,113.5M403.45,115.94L408.52,115.01M384.48,129.34L385.41,126.68" stroke="#404040" stroke-width="1.6" stroke-linecap="round" fill="none"/>
<circle cx="398.46" cy="88.5" r="4.02" fill="url(#ballr)"/>
<circle cx="416.46" cy="90.79" r="3.1" fill="url(#ballr)"/>
<circle cx="410.42" cy="91.73" r="3.91" fill="url(#ballo)"/>
<circle cx="403.56" cy="93.5" r="4.25" fill="url(#ballc)"/>
<circle cx="417.39" cy="95.37" r="3.91" fill="url(#ballc)"/>
<circle cx="409.07" cy="98.18" r="4.6" fill="url(#ballc)"/>
<circle cx="397.53" cy="99.53" r="4.6" fill="url(#ballc)"/>
<circle cx="415.52" cy="99.94" r="3.56" fill="url(#ballc)"/>
<circle cx="404.5" cy="101.4" r="2.76" fill="url(#ballo)"/>
<circle cx="424.67" cy="102.75" r="3.22" fill="url(#ballr)"/>
<circle cx="419.68" cy="103.17" r="3.91" fill="url(#ballr)"/>
<circle cx="391.6" cy="104.52" r="4.6" fill="url(#ballr)"/>
<circle cx="409.49" cy="106.91" r="4.6" fill="url(#ballo)"/>
<circle cx="400.75" cy="107.33" r="4.6" fill="url(#ballc)"/>
<circle cx="419.16" cy="108.68" r="3.91" fill="url(#ballc)"/>
<circle cx="395.76" cy="108.68" r="3.1" fill="url(#ballc)"/>
<circle cx="393.89" cy="113.36" r="3.22" fill="url(#ballr)"/>
<circle cx="411.78" cy="114.19" r="4.25" fill="url(#ballc)"/>
<circle cx="403.56" cy="114.71" r="4.02" fill="url(#ballc)"/>
<circle cx="398.46" cy="118.87" r="3.91" fill="url(#ballr)"/>
<circle cx="416.87" cy="118.87" r="3.91" fill="url(#ballr)"/>
</g>
</g>
<text x="385" y="18.6" font-size="14.5" font-weight="bold" fill="#fff" stroke="#000" stroke-width="1.6" paint-order="stroke" stroke-opacity="0.7">b</text><text x="504.9" y="14.7" font-size="8.4" fill="#f0f0f0" text-anchor="end">CuNi-NP spent</text>
<rect x="477.7" y="116.1" width="27.3" height="2.3" fill="#fff"/><text x="491.35" y="127.2" font-size="6.9" fill="#f4f4f4" text-anchor="middle">100 nm</text>
<clipPath id="clipd"><rect x="381.8" y="144.9" width="126.2" height="125.1"/></clipPath>
<g clip-path="url(#clipd)">
<rect x="381.8" y="144.9" width="126.2" height="125.1" fill="#fff" filter="url(#texD)"/>
<rect x="381.8" y="144.9" width="126.2" height="125.1" fill="url(#dshade)"/>
<rect x="381.8" y="144.9" width="126.2" height="125.1" fill="url(#dleft)"/>
<path d="M381,144 L416,144 C420,170 424,200 428,230 L431,271 L381,271Z" fill="#030303" filter="url(#blur3)"/>
<circle cx="437.6" cy="170.4" r="4.59" fill="url(#dotd)"/>
<circle cx="447.5" cy="169" r="5.94" fill="url(#dotd)"/>
<circle cx="476.8" cy="169.4" r="5.13" fill="url(#dotd)"/>
<circle cx="492.5" cy="177.7" r="6.48" fill="url(#dotd)"/>
<circle cx="504.2" cy="162.2" r="5.54" fill="url(#dotd)"/>
<circle cx="505.6" cy="176.6" r="4.59" fill="url(#dotd)"/>
<circle cx="469.2" cy="181" r="3.65" fill="url(#dotd)"/>
<circle cx="471.3" cy="193" r="4.59" fill="url(#dotd)"/>
<circle cx="456.9" cy="202" r="6.48" fill="url(#dotd)"/>
<circle cx="470.6" cy="204.7" r="6.48" fill="url(#dotd)"/>
<circle cx="489.8" cy="203.3" r="6.48" fill="url(#dotd)"/>
<circle cx="442.4" cy="200.6" r="4.05" fill="url(#dotd)"/>
<circle cx="443.1" cy="207.4" r="5.54" fill="url(#dotd)"/>
<circle cx="481.6" cy="207.4" r="4.59" fill="url(#dotd)"/>
<circle cx="485.7" cy="213.6" r="3.65" fill="url(#dotd)"/>
<circle cx="425.3" cy="164.2" r="3.65" fill="url(#dotd)"/>
<circle cx="430.8" cy="158" r="3.38" fill="url(#dotd)"/>
<circle cx="467.1" cy="158" r="3.65" fill="url(#dotd)"/>
<circle cx="478.1" cy="158.7" r="3.24" fill="url(#dotd)"/>
<circle cx="496" cy="160.1" r="3.24" fill="url(#dotd)"/>
<circle cx="505.6" cy="205.4" r="3.65" fill="url(#dotd)"/>
<circle cx="467" cy="151" r="3.24" fill="url(#dotd)"/>
<circle cx="452" cy="150" r="2.7" fill="url(#dotd)"/>
<circle cx="440" cy="152" r="2.7" fill="url(#dotd)"/>
<circle cx="442.4" cy="207.1" r="4.59" fill="url(#dotdim)"/>
<circle cx="470.6" cy="207.1" r="5.4" fill="url(#dotdim)"/>
<circle cx="491.2" cy="206.4" r="4.59" fill="url(#dotdim)"/>
<circle cx="485" cy="213.9" r="4.05" fill="url(#dotdim)"/>
<circle cx="491.8" cy="221.5" r="5.13" fill="url(#dotdim)"/>
<circle cx="504.2" cy="218.7" r="4.05" fill="url(#dotdim)"/>
<circle cx="432.8" cy="224.9" r="3.65" fill="url(#dotdim)"/>
<circle cx="450" cy="230.4" r="5.13" fill="url(#dotdim)"/>
<circle cx="465.1" cy="222.2" r="3.65" fill="url(#dotdim)"/>
<circle cx="482.2" cy="229" r="4.59" fill="url(#dotdim)"/>
<circle cx="502.8" cy="240" r="4.05" fill="url(#dotdim)"/>
<circle cx="449.3" cy="252.3" r="4.59" fill="url(#dotdim)"/>
<circle cx="478.8" cy="252.3" r="4.59" fill="url(#dotdim)"/>
<circle cx="441" cy="226" r="3.24" fill="url(#dotdim)"/>
<circle cx="495" cy="250" r="3.38" fill="url(#dotdim)"/>
<circle cx="462" cy="262" r="3.38" fill="url(#dotdim)"/>
<circle cx="505" cy="262" r="4.05" fill="url(#dotdim)"/>
<circle cx="436" cy="243" r="2.97" fill="url(#dotdim)"/>
<circle cx="470" cy="240" r="2.97" fill="url(#dotdim)"/>
<g filter="url(#shadow)"><circle cx="407.6" cy="245.0" r="23.6" fill="url(#insetbg2)"/></g>
<clipPath id="cid"><circle cx="407.6" cy="245.0" r="23.6"/></clipPath>
<g clip-path="url(#cid)">
<path d="M423.85,280.57L431.38,281.5M389.88,252.97L394.56,247.7M405.75,225.69L408.6,231.89M396.59,283.05L401.27,277.78M405.75,225.69L410.43,220.42M375.85,268.78L378.69,274.98M400.26,260.11L403.1,266.31M389.07,282.12L396.59,283.05M375.85,268.78L380.53,263.51M417.96,221.35L422.64,216.08M422.84,262.9L425.68,269.1M408.6,231.89L416.13,232.82M410.43,220.42L417.96,221.35M401.27,277.78L408.8,278.71M388.05,264.44L392.73,259.17M422.84,262.9L427.52,257.63M386.02,229.1L393.55,230.03M416.13,232.82L420.81,227.55M391.72,241.5L396.4,236.23M429.35,246.16L436.87,247.09M408.8,278.71L411.65,284.91M428.33,228.48L431.18,234.68M438.71,235.62L441.55,241.82M408.8,278.71L413.48,273.44M428.33,228.48L433.01,223.21M437.89,264.76L445.41,265.69M415.31,261.97L422.84,262.9M419.17,285.84L422.02,292.04M436.87,247.09L439.72,253.29M433.21,270.03L437.89,264.76M384.19,240.57L391.72,241.5M426.5,239.96L429.35,246.16M420.81,227.55L428.33,228.48M419.17,285.84L423.85,280.57M391.72,241.5L394.56,247.7M414.3,244.29L417.14,250.49M421,274.37L423.85,280.57M410.63,267.24L415.31,261.97M436.06,276.23L443.58,277.16M377.68,257.31L380.53,263.51M368.32,267.85L375.85,268.78M433.21,270.03L436.06,276.23M381.34,234.37L386.02,229.1M431.38,281.5L436.06,276.23M402.09,248.63L406.77,243.36M410.63,267.24L413.48,273.44M396.4,236.23L403.92,237.16M439.72,253.29L447.25,254.22M379.51,245.84L382.36,252.04M411.65,284.91L419.17,285.84M379.51,245.84L384.19,240.57M380.53,263.51L388.05,264.44M435.04,258.56L439.72,253.29M417.14,250.49L424.67,251.43M406.97,290.18L409.81,296.38M392.73,259.17L400.26,260.11M398.43,271.58L401.27,277.78M383.18,222.9L386.02,229.1M416.13,232.82L418.97,239.02M427.52,257.63L435.04,258.56M370.15,256.38L377.68,257.31M384.39,287.39L389.07,282.12M367.31,250.18L371.99,244.91M417.96,221.35L420.81,227.55M399.44,289.25L406.97,290.18M396.59,283.05L399.44,289.25M390.9,270.64L398.43,271.58M431.18,234.68L438.71,235.62M421,274.37L425.68,269.1M374.02,280.25L378.69,274.98M389.88,252.97L392.73,259.17M373.82,233.44L381.34,234.37M378.69,274.98L386.22,275.92M395.38,218.56L398.23,224.76M371.99,244.91L379.51,245.84M393.55,230.03L396.4,236.23M424.67,251.43L427.52,257.63M403.92,237.16L406.77,243.36M441.55,241.82L449.08,242.75M393.55,230.03L398.23,224.76M438.71,235.62L443.38,230.35M382.36,252.04L389.88,252.97M418.97,239.02L426.5,239.96M435.04,258.56L437.89,264.76M424.67,251.43L429.35,246.16M445.41,265.69L448.26,271.89M413.48,273.44L421,274.37M398.43,271.58L403.1,266.31M445.41,265.69L450.09,260.42M369.14,238.71L371.99,244.91M386.22,275.92L389.07,282.12M398.23,224.76L405.75,225.69M377.68,257.31L382.36,252.04M386.22,275.92L390.9,270.64M406.97,290.18L411.65,284.91M403.1,266.31L410.63,267.24M406.77,243.36L414.3,244.29M436.87,247.09L441.55,241.82M431.38,281.5L434.22,287.7M407.59,214.22L410.43,220.42M414.3,244.29L418.97,239.02M388.05,264.44L390.9,270.64M425.68,269.1L433.21,270.03M394.56,247.7L402.09,248.63M403.92,237.16L408.6,231.89M426.5,239.96L431.18,234.68M381.34,234.37L384.19,240.57M394.76,294.52L399.44,289.25" stroke="#383838" stroke-width="1.7" stroke-linecap="round" fill="none"/>
<line x1="408.7" y1="255.3" x2="402.09" y2="248.63" stroke="#d06018" stroke-width="1.785"/>
<line x1="408.7" y1="255.3" x2="417.14" y2="250.5" stroke="#d06018" stroke-width="1.785"/>
<line x1="408.7" y1="255.3" x2="400.26" y2="260.1" stroke="#d06018" stroke-width="1.785"/>
<line x1="408.7" y1="255.3" x2="415.31" y2="261.97" stroke="#d06018" stroke-width="1.785"/>
<circle cx="384.19" cy="240.57" r="1.9" fill="url(#ballk)"/>
<circle cx="379.51" cy="245.84" r="1.9" fill="url(#ballk)"/>
<circle cx="382.36" cy="252.04" r="1.9" fill="url(#ballk)"/>
<circle cx="377.68" cy="257.31" r="1.9" fill="url(#ballk)"/>
<circle cx="380.53" cy="263.51" r="1.9" fill="url(#ballk)"/>
<circle cx="393.55" cy="230.03" r="1.9" fill="url(#ballk)"/>
<circle cx="396.4" cy="236.23" r="1.9" fill="url(#ballk)"/>
<circle cx="391.72" cy="241.5" r="1.9" fill="url(#ballk)"/>
<circle cx="394.56" cy="247.7" r="1.9" fill="url(#ballk)"/>
<circle cx="389.88" cy="252.97" r="1.9" fill="url(#ballk)"/>
<circle cx="392.73" cy="259.17" r="1.9" fill="url(#ballk)"/>
<circle cx="388.05" cy="264.44" r="1.9" fill="url(#ballk)"/>
<circle cx="390.9" cy="270.64" r="1.9" fill="url(#ballk)"/>
<circle cx="386.22" cy="275.92" r="1.9" fill="url(#ballk)"/>
<circle cx="405.75" cy="225.69" r="1.9" fill="url(#ballk)"/>
<circle cx="408.6" cy="231.89" r="1.9" fill="url(#ballk)"/>
<circle cx="403.92" cy="237.16" r="1.9" fill="url(#ballk)"/>
<circle cx="406.77" cy="243.36" r="1.9" fill="url(#ballk)"/>
<circle cx="403.1" cy="266.31" r="1.9" fill="url(#ballk)"/>
<circle cx="398.43" cy="271.58" r="1.9" fill="url(#ballk)"/>
<circle cx="401.27" cy="277.78" r="1.9" fill="url(#ballk)"/>
<circle cx="396.59" cy="283.05" r="1.9" fill="url(#ballk)"/>
<circle cx="420.81" cy="227.55" r="1.9" fill="url(#ballk)"/>
<circle cx="416.13" cy="232.82" r="1.9" fill="url(#ballk)"/>
<circle cx="418.97" cy="239.02" r="1.9" fill="url(#ballk)"/>
<circle cx="414.3" cy="244.29" r="1.9" fill="url(#ballk)"/>
<circle cx="410.63" cy="267.24" r="1.9" fill="url(#ballk)"/>
<circle cx="413.48" cy="273.44" r="1.9" fill="url(#ballk)"/>
<circle cx="408.8" cy="278.71" r="1.9" fill="url(#ballk)"/>
<circle cx="411.65" cy="284.91" r="1.9" fill="url(#ballk)"/>
<circle cx="431.18" cy="234.68" r="1.9" fill="url(#ballk)"/>
<circle cx="426.5" cy="239.96" r="1.9" fill="url(#ballk)"/>
<circle cx="429.35" cy="246.16" r="1.9" fill="url(#ballk)"/>
<circle cx="424.67" cy="251.43" r="1.9" fill="url(#ballk)"/>
<circle cx="427.52" cy="257.63" r="1.9" fill="url(#ballk)"/>
<circle cx="422.84" cy="262.9" r="1.9" fill="url(#ballk)"/>
<circle cx="425.68" cy="269.1" r="1.9" fill="url(#ballk)"/>
<circle cx="421" cy="274.37" r="1.9" fill="url(#ballk)"/>
<circle cx="423.85" cy="280.57" r="1.9" fill="url(#ballk)"/>
<circle cx="436.87" cy="247.09" r="1.9" fill="url(#ballk)"/>
<circle cx="439.72" cy="253.29" r="1.9" fill="url(#ballk)"/>
<circle cx="435.04" cy="258.56" r="1.9" fill="url(#ballk)"/>
<circle cx="437.89" cy="264.76" r="1.9" fill="url(#ballk)"/>
<circle cx="433.21" cy="270.03" r="1.9" fill="url(#ballk)"/>
<circle cx="402.09" cy="248.63" r="2.47" fill="url(#bally)"/>
<circle cx="417.14" cy="250.5" r="2.47" fill="url(#bally)"/>
<circle cx="400.26" cy="260.1" r="2.47" fill="url(#bally)"/>
<circle cx="415.31" cy="261.97" r="2.47" fill="url(#bally)"/>
<circle cx="408.7" cy="255.3" r="2.7" fill="url(#ballo)"/>
<circle cx="390.6" cy="231.6" r="2.3" fill="url(#ballr)"/>
<circle cx="401.2" cy="234.2" r="2.3" fill="url(#ballr)"/>
<circle cx="395.1" cy="233.6" r="2.8" fill="url(#ballc)"/>
<circle cx="391.1" cy="236.7" r="2.7" fill="url(#ballc)"/>
<circle cx="401.2" cy="238.7" r="2.7" fill="url(#ballc)"/>
<circle cx="397.1" cy="238.7" r="2.9" fill="url(#ballc)"/>
<circle cx="392.6" cy="241.7" r="2.7" fill="url(#ballc)"/>
<circle cx="396.6" cy="242.2" r="2.7" fill="url(#ballc)"/>
<circle cx="389.1" cy="244.7" r="2.3" fill="url(#ballr)"/>
<circle cx="398.1" cy="245.7" r="2.1" fill="url(#ballr)"/>
<circle cx="415.8" cy="228.6" r="2.3" fill="url(#ballr)"/>
<circle cx="418.8" cy="231.1" r="2.7" fill="url(#ballc)"/>
<circle cx="423.3" cy="233.6" r="2.8" fill="url(#ballc)"/>
<circle cx="413.3" cy="236.2" r="2.3" fill="url(#ballr)"/>
<circle cx="417.8" cy="235.7" r="2.7" fill="url(#ballc)"/>
<circle cx="419.3" cy="240.7" r="2.2" fill="url(#ballo)"/>
<circle cx="426.4" cy="235.7" r="2.6" fill="url(#ballc)"/>
<circle cx="421.8" cy="239.2" r="2.9" fill="url(#ballc)"/>
<circle cx="425.4" cy="240.7" r="2.5" fill="url(#ballc)"/>
<circle cx="427.4" cy="239.7" r="2.3" fill="url(#ballr)"/>
</g>
</g>
<text x="385" y="159.5" font-size="14.5" font-weight="bold" fill="#fff" stroke="#000" stroke-width="1.6" paint-order="stroke" stroke-opacity="0.7">d</text><text x="505.5" y="157.2" font-size="8.7" fill="#f0f0f0" text-anchor="end">CuNi-SA/NP spent</text>
<rect x="477.8" y="256" width="26" height="2.3" fill="#fff"/><text x="490.8" y="266.3" font-size="6.9" fill="#f4f4f4" text-anchor="middle">100 nm</text>
<clipPath id="clipf"><rect x="380.9" y="285.6" width="127.3" height="125.4"/></clipPath>
<g clip-path="url(#clipf)">
<rect x="380.9" y="285.6" width="127.3" height="125.4" fill="#fff" filter="url(#texF)"/>
<rect x="380.9" y="285.6" width="127.3" height="125.4" fill="url(#fshade)"/>
<path d="M485,283 C486,292 486,300 487,306 C488,316 490,324 494,332 C498,340 503,348 510,356 L510,283Z" fill="#060606" filter="url(#blur1)"/>
<path d="M470,411 C468,402 470,395 478,392 C486,389 494,392 500,398 C505,392 508,388 510,386 L510,412Z" fill="#080808" filter="url(#blur1)"/>
<ellipse cx="466" cy="345" rx="20" ry="16" fill="url(#softk)" opacity="0.45"/>
<ellipse cx="440" cy="330" rx="14" ry="10" fill="url(#softk)" opacity="0.25"/>
<ellipse cx="405" cy="310" rx="22" ry="20" fill="url(#soft)" opacity="0.12"/>
<g filter="url(#shadow)"><circle cx="411.5" cy="380.2" r="28.0" fill="url(#insetbg)"/></g>
<clipPath id="cif"><circle cx="411.5" cy="380.2" r="28.0"/></clipPath>
<g clip-path="url(#cif)">
<path d="M427.49,393.41L433.47,397.87M436.98,369.6L445.32,368.11M448.92,378.51L451.29,372.56M395.35,415.76L397.72,409.81M390.51,389L398.86,387.5M419.15,394.91L427.49,393.41M406.06,408.31L408.43,402.36M431.1,403.82L433.47,397.87M391.75,405.36L397.72,409.81M363.11,399.45L365.48,393.49M429.77,348.79L438.11,347.29M406.06,408.31L412.04,412.77M401.13,342.88L409.48,341.38M420.38,411.27L426.36,415.72M380.93,374.14L386.91,378.59M413.08,351.79L419.05,356.24M431,365.15L436.98,369.6M398.95,426.17L401.32,420.22M380.84,335.47L386.81,339.92M438.21,385.96L444.18,390.42M441.72,357.7L447.69,362.15M431,365.15L433.37,359.2M373.73,353.33L379.7,357.78M388.05,356.28L390.42,350.33M423.89,383.01L429.87,387.46M369.08,403.9L377.43,402.4M377.33,363.73L383.31,368.19M422.75,405.32L431.1,403.82M391.65,366.69L394.02,360.74M441.81,396.37L444.18,390.42M433.37,359.2L441.72,357.7M380.93,374.14L383.31,368.19M423.8,344.34L429.77,348.79M409.57,380.05L411.94,374.1M427.49,393.41L429.87,387.46M388.14,394.95L390.51,389M370.12,342.92L376.1,347.37M377.43,402.4L383.4,406.86M441.72,357.7L444.09,351.75M383.4,406.86L391.75,405.36M379.8,396.45L388.14,394.95M381.03,412.81L383.4,406.86M409.48,341.38L411.85,335.43M391.75,405.36L394.12,399.41M416.78,400.86L422.75,405.32M398.76,348.83L401.13,342.88M359.51,389.04L361.88,383.09M413.08,351.79L415.45,345.84M409.67,418.72L412.04,412.77M381.03,412.81L387,417.26M372.69,414.31L381.03,412.81M387,417.26L395.35,415.76M372.59,375.64L380.93,374.14M359.51,389.04L365.48,393.49M427.4,354.74L433.37,359.2M416.68,362.19L419.05,356.24M384.44,345.88L386.81,339.92M401.32,420.22L409.67,418.72M390.42,350.33L398.76,348.83M438.21,385.96L440.58,380.01M395.35,415.76L401.32,420.22M373.82,392L376.19,386.04M377.33,363.73L379.7,357.78M434.7,414.23L437.07,408.27M419.05,356.24L427.4,354.74M366.62,371.18L372.59,375.64M409.48,341.38L415.45,345.84M398.76,348.83L404.74,353.29M433.47,397.87L441.81,396.37M416.78,400.86L419.15,394.91M384.54,384.54L386.91,378.59M373.82,392L379.8,396.45M370.22,381.59L372.59,375.64M394.02,360.74L402.37,359.24M379.7,357.78L388.05,356.28M376.1,347.37L384.44,345.88M402.37,359.24L408.34,363.69M444.18,390.42L452.53,388.92M355.9,378.63L361.88,383.09M384.54,384.54L390.51,389M437.07,408.27L445.42,406.78M383.31,368.19L391.65,366.69M404.74,353.29L413.08,351.79M415.64,423.17L423.99,421.68M365.48,393.49L373.82,392M377.43,402.4L379.8,396.45M363.01,360.78L368.99,365.23M415.45,345.84L423.8,344.34M366.62,371.18L368.99,365.23M434.7,414.23L440.68,418.68M376.19,386.04L384.54,384.54M373.73,353.33L376.1,347.37M427.4,354.74L429.77,348.79M408.34,363.69L416.68,362.19M366.71,409.85L369.08,403.9M423.99,421.68L426.36,415.72M395.16,338.43L401.13,342.88M386.81,339.92L395.16,338.43M409.67,418.72L415.64,423.17M420.38,411.27L422.75,405.32M395.16,338.43L397.53,332.47M413.18,390.46L419.15,394.91M370.22,381.59L376.19,386.04M384.44,345.88L390.42,350.33M402.37,359.24L404.74,353.29M397.72,409.81L406.06,408.31M423.89,383.01L426.26,377.06M426.36,415.72L434.7,414.23M440.58,380.01L448.92,378.51M431.1,403.82L437.07,408.27M365.38,354.82L373.73,353.33M423.8,344.34L426.17,338.39M391.65,366.69L397.62,371.14M429.87,387.46L438.21,385.96M361.88,383.09L370.22,381.59M384.63,423.21L387,417.26M445.32,368.11L447.69,362.15M388.05,356.28L394.02,360.74M394.12,399.41L402.46,397.91M363.11,399.45L369.08,403.9M358.27,372.68L366.62,371.18M402.46,397.91L408.43,402.36M388.14,394.95L394.12,399.41M408.43,402.36L416.78,400.86M368.99,365.23L377.33,363.73M448.92,378.51L454.9,382.97M445.32,368.11L451.29,372.56M401.23,381.55L409.57,380.05M441.81,396.37L447.79,400.82M398.86,387.5L401.23,381.55M413.27,429.13L415.64,423.17M412.04,412.77L420.38,411.27M423.99,421.68L429.96,426.13" stroke="#454545" stroke-width="1.8" stroke-linecap="round" fill="none"/>
<circle cx="372.59" cy="375.64" r="2.3" fill="url(#ballk)"/>
<circle cx="370.22" cy="381.59" r="2.3" fill="url(#ballk)"/>
<circle cx="376.19" cy="386.04" r="2.3" fill="url(#ballk)"/>
<circle cx="373.82" cy="392" r="2.3" fill="url(#ballk)"/>
<circle cx="379.8" cy="396.45" r="2.3" fill="url(#ballk)"/>
<circle cx="377.43" cy="402.4" r="2.3" fill="url(#ballk)"/>
<circle cx="383.4" cy="406.86" r="2.3" fill="url(#ballk)"/>
<circle cx="379.7" cy="357.78" r="2.3" fill="url(#ballk)"/>
<circle cx="377.33" cy="363.73" r="2.3" fill="url(#ballk)"/>
<circle cx="383.31" cy="368.19" r="2.3" fill="url(#ballk)"/>
<circle cx="380.93" cy="374.14" r="2.3" fill="url(#ballk)"/>
<circle cx="386.91" cy="378.59" r="2.3" fill="url(#ballk)"/>
<circle cx="384.54" cy="384.54" r="2.3" fill="url(#ballk)"/>
<circle cx="390.51" cy="389" r="2.3" fill="url(#ballk)"/>
<circle cx="388.14" cy="394.95" r="2.3" fill="url(#ballk)"/>
<circle cx="394.12" cy="399.41" r="2.3" fill="url(#ballk)"/>
<circle cx="391.75" cy="405.36" r="2.3" fill="url(#ballk)"/>
<circle cx="397.72" cy="409.81" r="2.3" fill="url(#ballk)"/>
<circle cx="395.35" cy="415.76" r="2.3" fill="url(#ballk)"/>
<circle cx="390.42" cy="350.33" r="2.3" fill="url(#ballk)"/>
<circle cx="388.05" cy="356.28" r="2.3" fill="url(#ballk)"/>
<circle cx="394.02" cy="360.74" r="2.3" fill="url(#ballk)"/>
<circle cx="391.65" cy="366.69" r="2.3" fill="url(#ballk)"/>
<circle cx="397.62" cy="371.14" r="2.3" fill="url(#ballk)"/>
<circle cx="401.23" cy="381.55" r="2.3" fill="url(#ballk)"/>
<circle cx="398.86" cy="387.5" r="2.3" fill="url(#ballk)"/>
<circle cx="402.46" cy="397.91" r="2.3" fill="url(#ballk)"/>
<circle cx="408.43" cy="402.36" r="2.3" fill="url(#ballk)"/>
<circle cx="406.06" cy="408.31" r="2.3" fill="url(#ballk)"/>
<circle cx="412.04" cy="412.77" r="2.3" fill="url(#ballk)"/>
<circle cx="398.76" cy="348.83" r="2.3" fill="url(#ballk)"/>
<circle cx="404.74" cy="353.29" r="2.3" fill="url(#ballk)"/>
<circle cx="402.37" cy="359.24" r="2.3" fill="url(#ballk)"/>
<circle cx="408.34" cy="363.69" r="2.3" fill="url(#ballk)"/>
<circle cx="411.94" cy="374.1" r="2.3" fill="url(#ballk)"/>
<circle cx="409.57" cy="380.05" r="2.3" fill="url(#ballk)"/>
<circle cx="413.18" cy="390.46" r="2.3" fill="url(#ballk)"/>
<circle cx="419.15" cy="394.91" r="2.3" fill="url(#ballk)"/>
<circle cx="416.78" cy="400.86" r="2.3" fill="url(#ballk)"/>
<circle cx="422.75" cy="405.32" r="2.3" fill="url(#ballk)"/>
<circle cx="420.38" cy="411.27" r="2.3" fill="url(#ballk)"/>
<circle cx="415.45" cy="345.84" r="2.3" fill="url(#ballk)"/>
<circle cx="413.08" cy="351.79" r="2.3" fill="url(#ballk)"/>
<circle cx="419.05" cy="356.24" r="2.3" fill="url(#ballk)"/>
<circle cx="416.68" cy="362.19" r="2.3" fill="url(#ballk)"/>
<circle cx="426.26" cy="377.06" r="2.3" fill="url(#ballk)"/>
<circle cx="423.89" cy="383.01" r="2.3" fill="url(#ballk)"/>
<circle cx="429.87" cy="387.46" r="2.3" fill="url(#ballk)"/>
<circle cx="427.49" cy="393.41" r="2.3" fill="url(#ballk)"/>
<circle cx="433.47" cy="397.87" r="2.3" fill="url(#ballk)"/>
<circle cx="431.1" cy="403.82" r="2.3" fill="url(#ballk)"/>
<circle cx="427.4" cy="354.74" r="2.3" fill="url(#ballk)"/>
<circle cx="433.37" cy="359.2" r="2.3" fill="url(#ballk)"/>
<circle cx="431" cy="365.15" r="2.3" fill="url(#ballk)"/>
<circle cx="436.98" cy="369.6" r="2.3" fill="url(#ballk)"/>
<circle cx="440.58" cy="380.01" r="2.3" fill="url(#ballk)"/>
<circle cx="438.21" cy="385.96" r="2.3" fill="url(#ballk)"/>
<line x1="405.4" y1="380.8" x2="407" y2="370.7" stroke="#b0cc2c" stroke-width="1.7"/>
<line x1="405.4" y1="380.8" x2="391.6" y2="378.1" stroke="#b0cc2c" stroke-width="1.7"/>
<line x1="405.4" y1="380.8" x2="402.2" y2="393.5" stroke="#b0cc2c" stroke-width="1.7"/>
<line x1="405.4" y1="380.8" x2="419.2" y2="384" stroke="#b0cc2c" stroke-width="1.7"/>
<line x1="420.2" y1="372.8" x2="407" y2="370.7" stroke="#b0cc2c" stroke-width="1.7"/>
<line x1="420.2" y1="372.8" x2="419.2" y2="384" stroke="#b0cc2c" stroke-width="1.7"/>
<line x1="420.2" y1="372.8" x2="420.2" y2="364.9" stroke="#b0cc2c" stroke-width="1.7"/>
<line x1="420.2" y1="372.8" x2="434" y2="375.5" stroke="#b0cc2c" stroke-width="1.7"/>
<circle cx="407" cy="370.7" r="2.5" fill="url(#bally)"/>
<circle cx="391.6" cy="378.1" r="2.5" fill="url(#bally)"/>
<circle cx="402.2" cy="393.5" r="2.5" fill="url(#bally)"/>
<circle cx="419.2" cy="384" r="2.5" fill="url(#bally)"/>
<circle cx="420.2" cy="364.9" r="2.5" fill="url(#bally)"/>
<circle cx="434" cy="375.5" r="2.5" fill="url(#bally)"/>
<circle cx="405.4" cy="380.8" r="4.2" fill="url(#ballo)"/>
<circle cx="420.2" cy="372.8" r="3.8" fill="url(#ballc)"/>
</g>
</g>
<text x="385.6" y="298" font-size="14.5" font-weight="bold" fill="#fff" stroke="#000" stroke-width="1.6" paint-order="stroke" stroke-opacity="0.7">f</text><text x="506" y="297.4" font-size="8.7" fill="#f0f0f0" text-anchor="end">CuNi-DAC spent</text>
<rect x="477.8" y="397" width="26" height="2.3" fill="#fff"/><text x="490.8" y="407.5" font-size="6.9" fill="#f4f4f4" text-anchor="middle">100 nm</text>
<clipPath id="cliph"><rect x="381" y="427.7" width="127.3" height="126"/></clipPath>
<g clip-path="url(#cliph)">
<rect x="381.0" y="427.7" width="127.3" height="126" fill="#fff" filter="url(#texH)"/>
<rect x="381.0" y="427.7" width="127.3" height="126" fill="#fff" filter="url(#texH2)" opacity="0.25"/>
<rect x="381.0" y="427.7" width="127.3" height="126" fill="url(#hshade)"/>
<ellipse cx="455" cy="462" rx="32" ry="36" fill="url(#soft)" opacity="0.13"/>
<ellipse cx="482" cy="470" rx="24" ry="30" fill="url(#soft)" opacity="0.12"/>
<ellipse cx="450" cy="520" rx="20" ry="18" fill="url(#soft)" opacity="0.08"/>
<ellipse cx="498" cy="510" rx="16" ry="30" fill="url(#softk)" opacity="0.7"/>
<ellipse cx="470" cy="545" rx="25" ry="12" fill="url(#softk)" opacity="0.4"/>
<circle cx="500.2" cy="473.4" r="6.23" fill="url(#dot)"/>
<circle cx="494.5" cy="475.7" r="3.92" fill="url(#dot)"/>
<circle cx="480.9" cy="481.3" r="4.21" fill="url(#dot)"/>
<circle cx="489.3" cy="487.7" r="4.21" fill="url(#dot)"/>
<circle cx="475.3" cy="489.2" r="3.33" fill="url(#dot)"/>
<circle cx="473" cy="497.2" r="3.19" fill="url(#dot)"/>
<circle cx="480.9" cy="502.8" r="3.62" fill="url(#dot)"/>
<circle cx="469.6" cy="461" r="3.92" fill="url(#dot)"/>
<circle cx="471.9" cy="456.4" r="2.9" fill="url(#dot)"/>
<circle cx="450.4" cy="459.8" r="3.19" fill="url(#dot)"/>
<circle cx="433.4" cy="462.1" r="3.19" fill="url(#dot)"/>
<circle cx="453.8" cy="445.1" r="4.35" fill="url(#dot)"/>
<circle cx="456" cy="447" r="3.48" fill="url(#dot)"/>
<circle cx="474.1" cy="449.6" r="2.61" fill="url(#dot)"/>
<circle cx="496.8" cy="456.4" r="3.19" fill="url(#dot)"/>
<circle cx="503" cy="445" r="2.61" fill="url(#dot)"/>
<circle cx="448.1" cy="524.3" r="3.92" fill="url(#dot)"/>
<circle cx="464" cy="519.8" r="2.61" fill="url(#dot)"/>
<circle cx="461.7" cy="533.4" r="3.19" fill="url(#dot)"/>
<circle cx="440.7" cy="454.4" r="2.61" fill="url(#dot)"/>
<circle cx="436" cy="462.6" r="2.61" fill="url(#dot)"/>
<circle cx="486.3" cy="446.2" r="2.61" fill="url(#dot)"/>
<circle cx="470" cy="461.4" r="2.9" fill="url(#dot)"/>
<circle cx="480.5" cy="502.3" r="3.19" fill="url(#dot)"/>
<circle cx="447" cy="510" r="2.32" fill="url(#dot)"/>
<circle cx="468" cy="508" r="2.32" fill="url(#dot)"/>
<circle cx="491" cy="462" r="2.32" fill="url(#dot)"/>
<circle cx="505" cy="488" r="2.61" fill="url(#dot)"/>
<circle cx="458" cy="478" r="2.17" fill="url(#dot)"/>
<circle cx="444" cy="490" r="2.17" fill="url(#dot)"/>
<g filter="url(#shadow)"><circle cx="406.9" cy="473.4" r="24.8" fill="url(#insetbg)"/></g>
<clipPath id="cih1"><circle cx="406.9" cy="473.4" r="24.8"/></clipPath>
<g clip-path="url(#cih1)">
<path d="M411.7,507.24L416.7,498.58M426.7,498.58L431.7,489.92M411.7,455.28L416.7,446.62M411.7,437.96L416.7,446.62M381.7,455.28L386.7,446.62M371.7,472.6L381.7,472.6M396.7,498.58L401.7,489.92M431.7,472.6L441.7,472.6M401.7,489.92L411.7,489.92M411.7,489.92L416.7,481.26M426.7,481.26L431.7,472.6M416.7,463.94L426.7,463.94M411.7,455.28L416.7,463.94M381.7,455.28L386.7,463.94M426.7,463.94L431.7,455.28M411.7,489.92L416.7,498.58M381.7,489.92L386.7,498.58M386.7,481.26L396.7,481.26M396.7,498.58L401.7,507.24M416.7,481.26L426.7,481.26M401.7,455.28L411.7,455.28M396.7,446.62L401.7,437.96M386.7,463.94L396.7,463.94M371.7,455.28L381.7,455.28M381.7,507.24L386.7,498.58M426.7,463.94L431.7,472.6M426.7,498.58L431.7,507.24M396.7,463.94L401.7,455.28M381.7,472.6L386.7,481.26M371.7,489.92L381.7,489.92M381.7,437.96L386.7,446.62M426.7,446.62L431.7,437.96M396.7,481.26L401.7,489.92M386.7,446.62L396.7,446.62M386.7,498.58L396.7,498.58M396.7,446.62L401.7,455.28M431.7,489.92L441.7,489.92M381.7,472.6L386.7,463.94M431.7,455.28L441.7,455.28M381.7,489.92L386.7,481.26M426.7,446.62L431.7,455.28M426.7,481.26L431.7,489.92M416.7,446.62L426.7,446.62M416.7,498.58L426.7,498.58" stroke="#464646" stroke-width="2.0" stroke-linecap="round" fill="none"/>
<line x1="406.7" y1="472.6" x2="396.7" y2="463.94" stroke="#b4d030" stroke-width="2.1"/>
<line x1="406.7" y1="472.6" x2="416.7" y2="463.94" stroke="#b4d030" stroke-width="2.1"/>
<line x1="406.7" y1="472.6" x2="396.7" y2="481.26" stroke="#b4d030" stroke-width="2.1"/>
<line x1="406.7" y1="472.6" x2="416.7" y2="481.26" stroke="#b4d030" stroke-width="2.1"/>
<circle cx="386.7" cy="463.94" r="2.6" fill="url(#ballk)"/>
<circle cx="381.7" cy="472.6" r="2.6" fill="url(#ballk)"/>
<circle cx="386.7" cy="481.26" r="2.6" fill="url(#ballk)"/>
<circle cx="401.7" cy="455.28" r="2.6" fill="url(#ballk)"/>
<circle cx="401.7" cy="489.92" r="2.6" fill="url(#ballk)"/>
<circle cx="411.7" cy="455.28" r="2.6" fill="url(#ballk)"/>
<circle cx="411.7" cy="489.92" r="2.6" fill="url(#ballk)"/>
<circle cx="426.7" cy="463.94" r="2.6" fill="url(#ballk)"/>
<circle cx="431.7" cy="472.6" r="2.6" fill="url(#ballk)"/>
<circle cx="426.7" cy="481.26" r="2.6" fill="url(#ballk)"/>
<circle cx="396.7" cy="463.94" r="3.38" fill="url(#bally)"/>
<circle cx="416.7" cy="463.94" r="3.38" fill="url(#bally)"/>
<circle cx="396.7" cy="481.26" r="3.38" fill="url(#bally)"/>
<circle cx="416.7" cy="481.26" r="3.38" fill="url(#bally)"/>
<circle cx="406.7" cy="472.6" r="3.6" fill="url(#ballo)"/>
</g>
<g filter="url(#shadow)"><circle cx="408.0" cy="526.6" r="25.2" fill="url(#insetbg)"/></g>
<clipPath id="cih2"><circle cx="408.0" cy="526.6" r="25.2"/></clipPath>
<g clip-path="url(#cih2)">
<path d="M412.8,560.44L417.8,551.78M442.8,525.8L447.8,534.46M427.8,551.78L432.8,543.12M412.8,508.48L417.8,499.82M412.8,491.16L417.8,499.82M382.8,508.48L387.8,499.82M372.8,525.8L382.8,525.8M397.8,551.78L402.8,543.12M432.8,525.8L442.8,525.8M402.8,543.12L412.8,543.12M397.8,569.1L402.8,560.44M412.8,543.12L417.8,534.46M427.8,534.46L432.8,525.8M402.8,491.16L412.8,491.16M417.8,517.14L427.8,517.14M412.8,508.48L417.8,517.14M382.8,508.48L387.8,517.14M427.8,517.14L432.8,508.48M412.8,543.12L417.8,551.78M382.8,543.12L387.8,551.78M387.8,534.46L397.8,534.46M397.8,551.78L402.8,560.44M402.8,560.44L412.8,560.44M412.8,491.16L417.8,482.5M417.8,534.46L427.8,534.46M402.8,508.48L412.8,508.48M397.8,499.82L402.8,491.16M387.8,517.14L397.8,517.14M372.8,508.48L382.8,508.48M382.8,560.44L387.8,551.78M427.8,517.14L432.8,525.8M427.8,551.78L432.8,560.44M397.8,517.14L402.8,508.48M382.8,525.8L387.8,534.46M372.8,543.12L382.8,543.12M412.8,560.44L417.8,569.1M382.8,491.16L387.8,499.82M427.8,499.82L432.8,491.16M397.8,534.46L402.8,543.12M387.8,499.82L397.8,499.82M387.8,551.78L397.8,551.78M397.8,499.82L402.8,508.48M367.8,534.46L372.8,525.8M432.8,543.12L442.8,543.12M382.8,525.8L387.8,517.14M432.8,508.48L442.8,508.48M382.8,543.12L387.8,534.46M442.8,525.8L447.8,517.14M427.8,499.82L432.8,508.48M427.8,534.46L432.8,543.12M417.8,499.82L427.8,499.82M397.8,482.5L402.8,491.16M417.8,551.78L427.8,551.78M367.8,517.14L372.8,525.8" stroke="#464646" stroke-width="2.0" stroke-linecap="round" fill="none"/>
<line x1="407.8" y1="525.8" x2="397.8" y2="517.14" stroke="#b4d030" stroke-width="2.1"/>
<line x1="407.8" y1="525.8" x2="417.8" y2="517.14" stroke="#b4d030" stroke-width="2.1"/>
<line x1="407.8" y1="525.8" x2="397.8" y2="534.46" stroke="#b4d030" stroke-width="2.1"/>
<line x1="407.8" y1="525.8" x2="417.8" y2="534.46" stroke="#b4d030" stroke-width="2.1"/>
<circle cx="387.8" cy="517.14" r="2.6" fill="url(#ballk)"/>
<circle cx="382.8" cy="525.8" r="2.6" fill="url(#ballk)"/>
<circle cx="387.8" cy="534.46" r="2.6" fill="url(#ballk)"/>
<circle cx="402.8" cy="508.48" r="2.6" fill="url(#ballk)"/>
<circle cx="402.8" cy="543.12" r="2.6" fill="url(#ballk)"/>
<circle cx="412.8" cy="508.48" r="2.6" fill="url(#ballk)"/>
<circle cx="412.8" cy="543.12" r="2.6" fill="url(#ballk)"/>
<circle cx="427.8" cy="517.14" r="2.6" fill="url(#ballk)"/>
<circle cx="432.8" cy="525.8" r="2.6" fill="url(#ballk)"/>
<circle cx="427.8" cy="534.46" r="2.6" fill="url(#ballk)"/>
<circle cx="397.8" cy="517.14" r="3.38" fill="url(#bally)"/>
<circle cx="417.8" cy="517.14" r="3.38" fill="url(#bally)"/>
<circle cx="397.8" cy="534.46" r="3.38" fill="url(#bally)"/>
<circle cx="417.8" cy="534.46" r="3.38" fill="url(#bally)"/>
<circle cx="407.8" cy="525.8" r="3.6" fill="url(#ballc)"/>
</g>
</g>
<rect x="381" y="427.7" width="12.8" height="14.2" fill="#000"/>
<text x="384" y="441" font-size="14.5" font-weight="bold" fill="#fff" stroke="#000" stroke-width="1.6" paint-order="stroke" stroke-opacity="0.7">h</text><text x="505.5" y="440.4" font-size="8.7" fill="#f0f0f0" text-anchor="end">PM-SAC spent</text>
<rect x="477.3" y="539.5" width="26.6" height="2.3" fill="#fff"/><text x="490.6" y="550.3" font-size="6.9" fill="#f4f4f4" text-anchor="middle">100 nm</text>
<rect x="555.7" y="9.5" width="127.2" height="109.4" fill="none" stroke="#333" stroke-width="1.1"/>
<line x1="555.7" y1="74.3" x2="682.9" y2="74.3" stroke="#333" stroke-width="1.1"/>
<line x1="553.5" y1="9.3" x2="555.7" y2="9.3" stroke="#333" stroke-width="0.8"/>
<text x="551.4" y="11.5" font-size="6.3" text-anchor="end" fill="#333" stroke="#333" stroke-width="0.22">2</text>
<line x1="554.5" y1="17.4" x2="555.7" y2="17.4" stroke="#333" stroke-width="0.8"/>
<line x1="553.5" y1="25.5" x2="555.7" y2="25.5" stroke="#333" stroke-width="0.8"/>
<text x="551.4" y="27.7" font-size="6.3" text-anchor="end" fill="#333" stroke="#333" stroke-width="0.22">0</text>
<line x1="554.5" y1="33.6" x2="555.7" y2="33.6" stroke="#333" stroke-width="0.8"/>
<line x1="553.5" y1="41.7" x2="555.7" y2="41.7" stroke="#333" stroke-width="0.8"/>
<text x="551.4" y="43.9" font-size="6.3" text-anchor="end" fill="#333" stroke="#333" stroke-width="0.22">-2</text>
<line x1="554.5" y1="49.8" x2="555.7" y2="49.8" stroke="#333" stroke-width="0.8"/>
<line x1="553.5" y1="57.9" x2="555.7" y2="57.9" stroke="#333" stroke-width="0.8"/>
<text x="551.4" y="60.1" font-size="6.3" text-anchor="end" fill="#333" stroke="#333" stroke-width="0.22">-4</text>
<line x1="554.5" y1="66" x2="555.7" y2="66" stroke="#333" stroke-width="0.8"/>
<line x1="553.5" y1="74.1" x2="555.7" y2="74.1" stroke="#333" stroke-width="0.8"/>
<text x="551.4" y="76.3" font-size="6.3" text-anchor="end" fill="#333" stroke="#333" stroke-width="0.22">-6</text>
<text transform="translate(536.0,52.3) rotate(-90)" font-size="8.6" text-anchor="middle" fill="#222" stroke="#222" stroke-width="0.22">E<tspan font-size="5.4" dy="1.8">F</tspan><tspan dy="-1.8"> (eV)</tspan></text>
<text x="529.8" y="17.9" font-size="13.5" font-weight="bold" fill="#000">i</text>
<line x1="575.3" y1="25.5" x2="600.3" y2="25.5" stroke="#ee5f6e" stroke-width="1.3"/>
<line x1="602" y1="26.5" x2="623.8" y2="36.5" stroke="#8fd6f2" stroke-width="1.3" stroke-dasharray="3,1.8"/>
<line x1="602" y1="26.5" x2="623.8" y2="46.1" stroke="#eba56e" stroke-width="1.3" stroke-dasharray="3,1.8"/>
<line x1="602" y1="26.5" x2="623.8" y2="60.8" stroke="#ee5f6e" stroke-width="1.3" stroke-dasharray="3,1.8"/>
<line x1="627.5" y1="36.9" x2="649.3" y2="36.9" stroke="#8fd6f2" stroke-width="1.3"/>
<circle cx="625.6" cy="36.9" r="2.3" fill="#fff" stroke="#444" stroke-width="1.0"/>
<circle cx="651.2" cy="36.9" r="2.3" fill="#fff" stroke="#444" stroke-width="1.0"/>
<text x="654.6" y="39.2" font-size="6.6" fill="#333" stroke="#333" stroke-width="0.22">- 1.38 <tspan font-style="italic">eV</tspan></text>
<line x1="627.5" y1="46.5" x2="649.3" y2="46.5" stroke="#eba56e" stroke-width="1.3"/>
<rect x="623.6" y="44.5" width="4" height="4" fill="#fff" stroke="#444" stroke-width="1.0"/>
<rect x="649.2" y="44.5" width="4" height="4" fill="#fff" stroke="#444" stroke-width="1.0"/>
<text x="654.6" y="48.8" font-size="6.6" fill="#333" stroke="#333" stroke-width="0.22">- 2.61 <tspan font-style="italic">eV</tspan></text>
<line x1="627.5" y1="61.2" x2="649.3" y2="61.2" stroke="#ee5f6e" stroke-width="1.3"/>
<path d="M625.6,58.26 L628.36,63.45 L622.84,63.45Z" fill="#fff" stroke="#444" stroke-width="1.0"/>
<path d="M651.2,58.26 L653.96,63.45 L648.44,63.45Z" fill="#fff" stroke="#444" stroke-width="1.0"/>
<text x="654.6" y="63.5" font-size="6.6" fill="#333" stroke="#333" stroke-width="0.22">- 4.46 <tspan font-style="italic">eV</tspan></text>
<path d="M575.3,22.67 L577.94,27.65 L572.66,27.65Z" fill="#fff" stroke="#444" stroke-width="1.0"/>
<path d="M600.3,22.67 L602.94,27.65 L597.66,27.65Z" fill="#fff" stroke="#444" stroke-width="1.0"/>
<line x1="569.2" y1="79.2" x2="587.3" y2="79.2" stroke="#8fd6f2" stroke-width="1.3"/>
<circle cx="578.25" cy="79.2" r="2.1" fill="#fff" stroke="#444" stroke-width="1.0"/>
<text x="578.3" y="89.2" font-size="6.9" text-anchor="middle" fill="#222" stroke="#222" stroke-width="0.22">Ni-SAC</text>
<line x1="610.0" y1="79.2" x2="628.2" y2="79.2" stroke="#eba56e" stroke-width="1.3"/>
<rect x="617" y="77.1" width="4.2" height="4.2" fill="#fff" stroke="#444" stroke-width="1.0"/>
<text x="619.1" y="89.2" font-size="6.9" text-anchor="middle" fill="#222" stroke="#222" stroke-width="0.22">Cu-SAC</text>
<line x1="652.7" y1="79.2" x2="670.7" y2="79.2" stroke="#ee5f6e" stroke-width="1.3"/>
<path d="M661.7,76.48 L664.22,81.25 L659.18,81.25Z" fill="#fff" stroke="#444" stroke-width="1.0"/>
<text x="661.7" y="89.2" font-size="6.9" text-anchor="middle" fill="#222" stroke="#222" stroke-width="0.22">CuNi-DAC</text>
<clipPath id="ti1"><rect x="563.5" y="92" width="27.7" height="22.6"/></clipPath>
<rect x="563.5" y="92" width="27.7" height="22.6" fill="#fff" filter="url(#tshadow)"/>
<g clip-path="url(#ti1)">
<path d="M527.72,62.1L531.87,64.5L531.87,69.3L527.72,71.7L523.56,69.3L523.56,64.5ZM523.56,69.3L527.72,71.7L527.72,76.5L523.56,78.9L519.4,76.5L519.4,71.7ZM527.72,76.5L531.87,78.9L531.87,83.7L527.72,86.1L523.56,83.7L523.56,78.9ZM523.56,83.7L527.72,86.1L527.72,90.9L523.56,93.3L519.4,90.9L519.4,86.1ZM527.72,90.9L531.87,93.3L531.87,98.1L527.72,100.5L523.56,98.1L523.56,93.3ZM523.56,98.1L527.72,100.5L527.72,105.3L523.56,107.7L519.4,105.3L519.4,100.5ZM527.72,105.3L531.87,107.7L531.87,112.5L527.72,114.9L523.56,112.5L523.56,107.7ZM523.56,112.5L527.72,114.9L527.72,119.7L523.56,122.1L519.4,119.7L519.4,114.9ZM527.72,119.7L531.87,122.1L531.87,126.9L527.72,129.3L523.56,126.9L523.56,122.1ZM523.56,126.9L527.72,129.3L527.72,134.1L523.56,136.5L519.4,134.1L519.4,129.3ZM527.72,134.1L531.87,136.5L531.87,141.3L527.72,143.7L523.56,141.3L523.56,136.5ZM536.03,62.1L540.19,64.5L540.19,69.3L536.03,71.7L531.87,69.3L531.87,64.5ZM531.87,69.3L536.03,71.7L536.03,76.5L531.87,78.9L527.72,76.5L527.72,71.7ZM536.03,76.5L540.19,78.9L540.19,83.7L536.03,86.1L531.87,83.7L531.87,78.9ZM531.87,83.7L536.03,86.1L536.03,90.9L531.87,93.3L527.72,90.9L527.72,86.1ZM536.03,90.9L540.19,93.3L540.19,98.1L536.03,100.5L531.87,98.1L531.87,93.3ZM531.87,98.1L536.03,100.5L536.03,105.3L531.87,107.7L527.72,105.3L527.72,100.5ZM536.03,105.3L540.19,107.7L540.19,112.5L536.03,114.9L531.87,112.5L531.87,107.7ZM531.87,112.5L536.03,114.9L536.03,119.7L531.87,122.1L527.72,119.7L527.72,114.9ZM536.03,119.7L540.19,122.1L540.19,126.9L536.03,129.3L531.87,126.9L531.87,122.1ZM531.87,126.9L536.03,129.3L536.03,134.1L531.87,136.5L527.72,134.1L527.72,129.3ZM536.03,134.1L540.19,136.5L540.19,141.3L536.03,143.7L531.87,141.3L531.87,136.5ZM544.34,62.1L548.5,64.5L548.5,69.3L544.34,71.7L540.19,69.3L540.19,64.5ZM540.19,69.3L544.34,71.7L544.34,76.5L540.19,78.9L536.03,76.5L536.03,71.7ZM544.34,76.5L548.5,78.9L548.5,83.7L544.34,86.1L540.19,83.7L540.19,78.9ZM540.19,83.7L544.34,86.1L544.34,90.9L540.19,93.3L536.03,90.9L536.03,86.1ZM544.34,90.9L548.5,93.3L548.5,98.1L544.34,100.5L540.19,98.1L540.19,93.3ZM540.19,98.1L544.34,100.5L544.34,105.3L540.19,107.7L536.03,105.3L536.03,100.5ZM544.34,105.3L548.5,107.7L548.5,112.5L544.34,114.9L540.19,112.5L540.19,107.7ZM540.19,112.5L544.34,114.9L544.34,119.7L540.19,122.1L536.03,119.7L536.03,114.9ZM544.34,119.7L548.5,122.1L548.5,126.9L544.34,129.3L540.19,126.9L540.19,122.1ZM540.19,126.9L544.34,129.3L544.34,134.1L540.19,136.5L536.03,134.1L536.03,129.3ZM544.34,134.1L548.5,136.5L548.5,141.3L544.34,143.7L540.19,141.3L540.19,136.5ZM552.66,62.1L556.82,64.5L556.82,69.3L552.66,71.7L548.5,69.3L548.5,64.5ZM548.5,69.3L552.66,71.7L552.66,76.5L548.5,78.9L544.34,76.5L544.34,71.7ZM552.66,76.5L556.82,78.9L556.82,83.7L552.66,86.1L548.5,83.7L548.5,78.9ZM548.5,83.7L552.66,86.1L552.66,90.9L548.5,93.3L544.34,90.9L544.34,86.1ZM552.66,90.9L556.82,93.3L556.82,98.1L552.66,100.5L548.5,98.1L548.5,93.3ZM548.5,98.1L552.66,100.5L552.66,105.3L548.5,107.7L544.34,105.3L544.34,100.5ZM552.66,105.3L556.82,107.7L556.82,112.5L552.66,114.9L548.5,112.5L548.5,107.7ZM548.5,112.5L552.66,114.9L552.66,119.7L548.5,122.1L544.34,119.7L544.34,114.9ZM552.66,119.7L556.82,122.1L556.82,126.9L552.66,129.3L548.5,126.9L548.5,122.1ZM548.5,126.9L552.66,129.3L552.66,134.1L548.5,136.5L544.34,134.1L544.34,129.3ZM552.66,134.1L556.82,136.5L556.82,141.3L552.66,143.7L548.5,141.3L548.5,136.5ZM560.97,62.1L565.13,64.5L565.13,69.3L560.97,71.7L556.82,69.3L556.82,64.5ZM556.82,69.3L560.97,71.7L560.97,76.5L556.82,78.9L552.66,76.5L552.66,71.7ZM560.97,76.5L565.13,78.9L565.13,83.7L560.97,86.1L556.82,83.7L556.82,78.9ZM556.82,83.7L560.97,86.1L560.97,90.9L556.82,93.3L552.66,90.9L552.66,86.1ZM560.97,90.9L565.13,93.3L565.13,98.1L560.97,100.5L556.82,98.1L556.82,93.3ZM556.82,98.1L560.97,100.5L560.97,105.3L556.82,107.7L552.66,105.3L552.66,100.5ZM560.97,105.3L565.13,107.7L565.13,112.5L560.97,114.9L556.82,112.5L556.82,107.7ZM556.82,112.5L560.97,114.9L560.97,119.7L556.82,122.1L552.66,119.7L552.66,114.9ZM560.97,119.7L565.13,122.1L565.13,126.9L560.97,129.3L556.82,126.9L556.82,122.1ZM556.82,126.9L560.97,129.3L560.97,134.1L556.82,136.5L552.66,134.1L552.66,129.3ZM560.97,134.1L565.13,136.5L565.13,141.3L560.97,143.7L556.82,141.3L556.82,136.5ZM569.29,62.1L573.44,64.5L573.44,69.3L569.29,71.7L565.13,69.3L565.13,64.5ZM565.13,69.3L569.29,71.7L569.29,76.5L565.13,78.9L560.97,76.5L560.97,71.7ZM569.29,76.5L573.44,78.9L573.44,83.7L569.29,86.1L565.13,83.7L565.13,78.9ZM565.13,83.7L569.29,86.1L569.29,90.9L565.13,93.3L560.97,90.9L560.97,86.1ZM569.29,90.9L573.44,93.3L573.44,98.1L569.29,100.5L565.13,98.1L565.13,93.3ZM565.13,98.1L569.29,100.5L569.29,105.3L565.13,107.7L560.97,105.3L560.97,100.5ZM569.29,105.3L573.44,107.7L573.44,112.5L569.29,114.9L565.13,112.5L565.13,107.7ZM565.13,112.5L569.29,114.9L569.29,119.7L565.13,122.1L560.97,119.7L560.97,114.9ZM569.29,119.7L573.44,122.1L573.44,126.9L569.29,129.3L565.13,126.9L565.13,122.1ZM565.13,126.9L569.29,129.3L569.29,134.1L565.13,136.5L560.97,134.1L560.97,129.3ZM569.29,134.1L573.44,136.5L573.44,141.3L569.29,143.7L565.13,141.3L565.13,136.5ZM577.6,62.1L581.76,64.5L581.76,69.3L577.6,71.7L573.44,69.3L573.44,64.5ZM573.44,69.3L577.6,71.7L577.6,76.5L573.44,78.9L569.29,76.5L569.29,71.7ZM577.6,76.5L581.76,78.9L581.76,83.7L577.6,86.1L573.44,83.7L573.44,78.9ZM573.44,83.7L577.6,86.1L577.6,90.9L573.44,93.3L569.29,90.9L569.29,86.1ZM577.6,90.9L581.76,93.3L581.76,98.1L577.6,100.5L573.44,98.1L573.44,93.3ZM573.44,98.1L577.6,100.5L577.6,105.3L573.44,107.7L569.29,105.3L569.29,100.5ZM577.6,105.3L581.76,107.7L581.76,112.5L577.6,114.9L573.44,112.5L573.44,107.7ZM573.44,112.5L577.6,114.9L577.6,119.7L573.44,122.1L569.29,119.7L569.29,114.9ZM577.6,119.7L581.76,122.1L581.76,126.9L577.6,129.3L573.44,126.9L573.44,122.1ZM573.44,126.9L577.6,129.3L577.6,134.1L573.44,136.5L569.29,134.1L569.29,129.3ZM577.6,134.1L581.76,136.5L581.76,141.3L577.6,143.7L573.44,141.3L573.44,136.5ZM585.91,62.1L590.07,64.5L590.07,69.3L585.91,71.7L581.76,69.3L581.76,64.5ZM581.76,69.3L585.91,71.7L585.91,76.5L581.76,78.9L577.6,76.5L577.6,71.7ZM585.91,76.5L590.07,78.9L590.07,83.7L585.91,86.1L581.76,83.7L581.76,78.9ZM581.76,83.7L585.91,86.1L585.91,90.9L581.76,93.3L577.6,90.9L577.6,86.1ZM585.91,90.9L590.07,93.3L590.07,98.1L585.91,100.5L581.76,98.1L581.76,93.3ZM581.76,98.1L585.91,100.5L585.91,105.3L581.76,107.7L577.6,105.3L577.6,100.5ZM585.91,105.3L590.07,107.7L590.07,112.5L585.91,114.9L581.76,112.5L581.76,107.7ZM581.76,112.5L585.91,114.9L585.91,119.7L581.76,122.1L577.6,119.7L577.6,114.9ZM585.91,119.7L590.07,122.1L590.07,126.9L585.91,129.3L581.76,126.9L581.76,122.1ZM581.76,126.9L585.91,129.3L585.91,134.1L581.76,136.5L577.6,134.1L577.6,129.3ZM585.91,134.1L590.07,136.5L590.07,141.3L585.91,143.7L581.76,141.3L581.76,136.5ZM594.23,62.1L598.38,64.5L598.38,69.3L594.23,71.7L590.07,69.3L590.07,64.5ZM590.07,69.3L594.23,71.7L594.23,76.5L590.07,78.9L585.91,76.5L585.91,71.7ZM594.23,76.5L598.38,78.9L598.38,83.7L594.23,86.1L590.07,83.7L590.07,78.9ZM590.07,83.7L594.23,86.1L594.23,90.9L590.07,93.3L585.91,90.9L585.91,86.1ZM594.23,90.9L598.38,93.3L598.38,98.1L594.23,100.5L590.07,98.1L590.07,93.3ZM590.07,98.1L594.23,100.5L594.23,105.3L590.07,107.7L585.91,105.3L585.91,100.5ZM594.23,105.3L598.38,107.7L598.38,112.5L594.23,114.9L590.07,112.5L590.07,107.7ZM590.07,112.5L594.23,114.9L594.23,119.7L590.07,122.1L585.91,119.7L585.91,114.9ZM594.23,119.7L598.38,122.1L598.38,126.9L594.23,129.3L590.07,126.9L590.07,122.1ZM590.07,126.9L594.23,129.3L594.23,134.1L590.07,136.5L585.91,134.1L585.91,129.3ZM594.23,134.1L598.38,136.5L598.38,141.3L594.23,143.7L590.07,141.3L590.07,136.5ZM602.54,62.1L606.7,64.5L606.7,69.3L602.54,71.7L598.38,69.3L598.38,64.5ZM598.38,69.3L602.54,71.7L602.54,76.5L598.38,78.9L594.23,76.5L594.23,71.7ZM602.54,76.5L606.7,78.9L606.7,83.7L602.54,86.1L598.38,83.7L598.38,78.9ZM598.38,83.7L602.54,86.1L602.54,90.9L598.38,93.3L594.23,90.9L594.23,86.1ZM602.54,90.9L606.7,93.3L606.7,98.1L602.54,100.5L598.38,98.1L598.38,93.3ZM598.38,98.1L602.54,100.5L602.54,105.3L598.38,107.7L594.23,105.3L594.23,100.5ZM602.54,105.3L606.7,107.7L606.7,112.5L602.54,114.9L598.38,112.5L598.38,107.7ZM598.38,112.5L602.54,114.9L602.54,119.7L598.38,122.1L594.23,119.7L594.23,114.9ZM602.54,119.7L606.7,122.1L606.7,126.9L602.54,129.3L598.38,126.9L598.38,122.1ZM598.38,126.9L602.54,129.3L602.54,134.1L598.38,136.5L594.23,134.1L594.23,129.3ZM602.54,134.1L606.7,136.5L606.7,141.3L602.54,143.7L598.38,141.3L598.38,136.5ZM610.86,62.1L615.01,64.5L615.01,69.3L610.86,71.7L606.7,69.3L606.7,64.5ZM606.7,69.3L610.86,71.7L610.86,76.5L606.7,78.9L602.54,76.5L602.54,71.7ZM610.86,76.5L615.01,78.9L615.01,83.7L610.86,86.1L606.7,83.7L606.7,78.9ZM606.7,83.7L610.86,86.1L610.86,90.9L606.7,93.3L602.54,90.9L602.54,86.1ZM610.86,90.9L615.01,93.3L615.01,98.1L610.86,100.5L606.7,98.1L606.7,93.3ZM606.7,98.1L610.86,100.5L610.86,105.3L606.7,107.7L602.54,105.3L602.54,100.5ZM610.86,105.3L615.01,107.7L615.01,112.5L610.86,114.9L606.7,112.5L606.7,107.7ZM606.7,112.5L610.86,114.9L610.86,119.7L606.7,122.1L602.54,119.7L602.54,114.9ZM610.86,119.7L615.01,122.1L615.01,126.9L610.86,129.3L606.7,126.9L606.7,122.1ZM606.7,126.9L610.86,129.3L610.86,134.1L606.7,136.5L602.54,134.1L602.54,129.3ZM610.86,134.1L615.01,136.5L615.01,141.3L610.86,143.7L606.7,141.3L606.7,136.5ZM619.17,62.1L623.33,64.5L623.33,69.3L619.17,71.7L615.01,69.3L615.01,64.5ZM615.01,69.3L619.17,71.7L619.17,76.5L615.01,78.9L610.86,76.5L610.86,71.7ZM619.17,76.5L623.33,78.9L623.33,83.7L619.17,86.1L615.01,83.7L615.01,78.9ZM615.01,83.7L619.17,86.1L619.17,90.9L615.01,93.3L610.86,90.9L610.86,86.1ZM619.17,90.9L623.33,93.3L623.33,98.1L619.17,100.5L615.01,98.1L615.01,93.3ZM615.01,98.1L619.17,100.5L619.17,105.3L615.01,107.7L610.86,105.3L610.86,100.5ZM619.17,105.3L623.33,107.7L623.33,112.5L619.17,114.9L615.01,112.5L615.01,107.7ZM615.01,112.5L619.17,114.9L619.17,119.7L615.01,122.1L610.86,119.7L610.86,114.9ZM619.17,119.7L623.33,122.1L623.33,126.9L619.17,129.3L615.01,126.9L615.01,122.1ZM615.01,126.9L619.17,129.3L619.17,134.1L615.01,136.5L610.86,134.1L610.86,129.3ZM619.17,134.1L623.33,136.5L623.33,141.3L619.17,143.7L615.01,141.3L615.01,136.5ZM627.48,62.1L631.64,64.5L631.64,69.3L627.48,71.7L623.33,69.3L623.33,64.5ZM623.33,69.3L627.48,71.7L627.48,76.5L623.33,78.9L619.17,76.5L619.17,71.7ZM627.48,76.5L631.64,78.9L631.64,83.7L627.48,86.1L623.33,83.7L623.33,78.9ZM623.33,83.7L627.48,86.1L627.48,90.9L623.33,93.3L619.17,90.9L619.17,86.1ZM627.48,90.9L631.64,93.3L631.64,98.1L627.48,100.5L623.33,98.1L623.33,93.3ZM623.33,98.1L627.48,100.5L627.48,105.3L623.33,107.7L619.17,105.3L619.17,100.5ZM627.48,105.3L631.64,107.7L631.64,112.5L627.48,114.9L623.33,112.5L623.33,107.7ZM623.33,112.5L627.48,114.9L627.48,119.7L623.33,122.1L619.17,119.7L619.17,114.9ZM627.48,119.7L631.64,122.1L631.64,126.9L627.48,129.3L623.33,126.9L623.33,122.1ZM623.33,126.9L627.48,129.3L627.48,134.1L623.33,136.5L619.17,134.1L619.17,129.3ZM627.48,134.1L631.64,136.5L631.64,141.3L627.48,143.7L623.33,141.3L623.33,136.5ZM635.8,62.1L639.95,64.5L639.95,69.3L635.8,71.7L631.64,69.3L631.64,64.5ZM631.64,69.3L635.8,71.7L635.8,76.5L631.64,78.9L627.48,76.5L627.48,71.7ZM635.8,76.5L639.95,78.9L639.95,83.7L635.8,86.1L631.64,83.7L631.64,78.9ZM631.64,83.7L635.8,86.1L635.8,90.9L631.64,93.3L627.48,90.9L627.48,86.1ZM635.8,90.9L639.95,93.3L639.95,98.1L635.8,100.5L631.64,98.1L631.64,93.3ZM631.64,98.1L635.8,100.5L635.8,105.3L631.64,107.7L627.48,105.3L627.48,100.5ZM635.8,105.3L639.95,107.7L639.95,112.5L635.8,114.9L631.64,112.5L631.64,107.7ZM631.64,112.5L635.8,114.9L635.8,119.7L631.64,122.1L627.48,119.7L627.48,114.9ZM635.8,119.7L639.95,122.1L639.95,126.9L635.8,129.3L631.64,126.9L631.64,122.1ZM631.64,126.9L635.8,129.3L635.8,134.1L631.64,136.5L627.48,134.1L627.48,129.3ZM635.8,134.1L639.95,136.5L639.95,141.3L635.8,143.7L631.64,141.3L631.64,136.5ZM644.11,62.1L648.27,64.5L648.27,69.3L644.11,71.7L639.95,69.3L639.95,64.5ZM639.95,69.3L644.11,71.7L644.11,76.5L639.95,78.9L635.8,76.5L635.8,71.7ZM644.11,76.5L648.27,78.9L648.27,83.7L644.11,86.1L639.95,83.7L639.95,78.9ZM639.95,83.7L644.11,86.1L644.11,90.9L639.95,93.3L635.8,90.9L635.8,86.1ZM644.11,90.9L648.27,93.3L648.27,98.1L644.11,100.5L639.95,98.1L639.95,93.3ZM639.95,98.1L644.11,100.5L644.11,105.3L639.95,107.7L635.8,105.3L635.8,100.5ZM644.11,105.3L648.27,107.7L648.27,112.5L644.11,114.9L639.95,112.5L639.95,107.7ZM639.95,112.5L644.11,114.9L644.11,119.7L639.95,122.1L635.8,119.7L635.8,114.9ZM644.11,119.7L648.27,122.1L648.27,126.9L644.11,129.3L639.95,126.9L639.95,122.1ZM639.95,126.9L644.11,129.3L644.11,134.1L639.95,136.5L635.8,134.1L635.8,129.3ZM644.11,134.1L648.27,136.5L648.27,141.3L644.11,143.7L639.95,141.3L639.95,136.5Z" fill="none" stroke="#2a2a2a" stroke-width="1.1"/>
<line x1="577.6" y1="102.9" x2="574.08" y2="100.02" stroke="#d8e650" stroke-width="0.8"/>
<circle cx="573.2" cy="99.3" r="1.0" fill="#d2e03a"/>
<line x1="577.6" y1="102.9" x2="581.12" y2="100.02" stroke="#d8e650" stroke-width="0.8"/>
<circle cx="582" cy="99.3" r="1.0" fill="#d2e03a"/>
<line x1="577.6" y1="102.9" x2="574.08" y2="105.78" stroke="#d8e650" stroke-width="0.8"/>
<circle cx="573.2" cy="106.5" r="1.0" fill="#d2e03a"/>
<line x1="577.6" y1="102.9" x2="581.12" y2="105.78" stroke="#d8e650" stroke-width="0.8"/>
<circle cx="582" cy="106.5" r="1.0" fill="#d2e03a"/>
<rect x="576.1" y="101.4" width="3" height="3" fill="#2a7ee6"/>
</g>
<clipPath id="ti2"><rect x="606.6" y="92" width="25.6" height="22.6"/></clipPath>
<rect x="606.6" y="92" width="25.6" height="22.6" fill="#fff" filter="url(#tshadow)"/>
<g clip-path="url(#ti2)">
<path d="M569.42,62.1L573.57,64.5L573.57,69.3L569.42,71.7L565.26,69.3L565.26,64.5ZM565.26,69.3L569.42,71.7L569.42,76.5L565.26,78.9L561.1,76.5L561.1,71.7ZM569.42,76.5L573.57,78.9L573.57,83.7L569.42,86.1L565.26,83.7L565.26,78.9ZM565.26,83.7L569.42,86.1L569.42,90.9L565.26,93.3L561.1,90.9L561.1,86.1ZM569.42,90.9L573.57,93.3L573.57,98.1L569.42,100.5L565.26,98.1L565.26,93.3ZM565.26,98.1L569.42,100.5L569.42,105.3L565.26,107.7L561.1,105.3L561.1,100.5ZM569.42,105.3L573.57,107.7L573.57,112.5L569.42,114.9L565.26,112.5L565.26,107.7ZM565.26,112.5L569.42,114.9L569.42,119.7L565.26,122.1L561.1,119.7L561.1,114.9ZM569.42,119.7L573.57,122.1L573.57,126.9L569.42,129.3L565.26,126.9L565.26,122.1ZM565.26,126.9L569.42,129.3L569.42,134.1L565.26,136.5L561.1,134.1L561.1,129.3ZM569.42,134.1L573.57,136.5L573.57,141.3L569.42,143.7L565.26,141.3L565.26,136.5ZM577.73,62.1L581.89,64.5L581.89,69.3L577.73,71.7L573.57,69.3L573.57,64.5ZM573.57,69.3L577.73,71.7L577.73,76.5L573.57,78.9L569.42,76.5L569.42,71.7ZM577.73,76.5L581.89,78.9L581.89,83.7L577.73,86.1L573.57,83.7L573.57,78.9ZM573.57,83.7L577.73,86.1L577.73,90.9L573.57,93.3L569.42,90.9L569.42,86.1ZM577.73,90.9L581.89,93.3L581.89,98.1L577.73,100.5L573.57,98.1L573.57,93.3ZM573.57,98.1L577.73,100.5L577.73,105.3L573.57,107.7L569.42,105.3L569.42,100.5ZM577.73,105.3L581.89,107.7L581.89,112.5L577.73,114.9L573.57,112.5L573.57,107.7ZM573.57,112.5L577.73,114.9L577.73,119.7L573.57,122.1L569.42,119.7L569.42,114.9ZM577.73,119.7L581.89,122.1L581.89,126.9L577.73,129.3L573.57,126.9L573.57,122.1ZM573.57,126.9L577.73,129.3L577.73,134.1L573.57,136.5L569.42,134.1L569.42,129.3ZM577.73,134.1L581.89,136.5L581.89,141.3L577.73,143.7L573.57,141.3L573.57,136.5ZM586.04,62.1L590.2,64.5L590.2,69.3L586.04,71.7L581.89,69.3L581.89,64.5ZM581.89,69.3L586.04,71.7L586.04,76.5L581.89,78.9L577.73,76.5L577.73,71.7ZM586.04,76.5L590.2,78.9L590.2,83.7L586.04,86.1L581.89,83.7L581.89,78.9ZM581.89,83.7L586.04,86.1L586.04,90.9L581.89,93.3L577.73,90.9L577.73,86.1ZM586.04,90.9L590.2,93.3L590.2,98.1L586.04,100.5L581.89,98.1L581.89,93.3ZM581.89,98.1L586.04,100.5L586.04,105.3L581.89,107.7L577.73,105.3L577.73,100.5ZM586.04,105.3L590.2,107.7L590.2,112.5L586.04,114.9L581.89,112.5L581.89,107.7ZM581.89,112.5L586.04,114.9L586.04,119.7L581.89,122.1L577.73,119.7L577.73,114.9ZM586.04,119.7L590.2,122.1L590.2,126.9L586.04,129.3L581.89,126.9L581.89,122.1ZM581.89,126.9L586.04,129.3L586.04,134.1L581.89,136.5L577.73,134.1L577.73,129.3ZM586.04,134.1L590.2,136.5L590.2,141.3L586.04,143.7L581.89,141.3L581.89,136.5ZM594.36,62.1L598.52,64.5L598.52,69.3L594.36,71.7L590.2,69.3L590.2,64.5ZM590.2,69.3L594.36,71.7L594.36,76.5L590.2,78.9L586.04,76.5L586.04,71.7ZM594.36,76.5L598.52,78.9L598.52,83.7L594.36,86.1L590.2,83.7L590.2,78.9ZM590.2,83.7L594.36,86.1L594.36,90.9L590.2,93.3L586.04,90.9L586.04,86.1ZM594.36,90.9L598.52,93.3L598.52,98.1L594.36,100.5L590.2,98.1L590.2,93.3ZM590.2,98.1L594.36,100.5L594.36,105.3L590.2,107.7L586.04,105.3L586.04,100.5ZM594.36,105.3L598.52,107.7L598.52,112.5L594.36,114.9L590.2,112.5L590.2,107.7ZM590.2,112.5L594.36,114.9L594.36,119.7L590.2,122.1L586.04,119.7L586.04,114.9ZM594.36,119.7L598.52,122.1L598.52,126.9L594.36,129.3L590.2,126.9L590.2,122.1ZM590.2,126.9L594.36,129.3L594.36,134.1L590.2,136.5L586.04,134.1L586.04,129.3ZM594.36,134.1L598.52,136.5L598.52,141.3L594.36,143.7L590.2,141.3L590.2,136.5ZM602.67,62.1L606.83,64.5L606.83,69.3L602.67,71.7L598.52,69.3L598.52,64.5ZM598.52,69.3L602.67,71.7L602.67,76.5L598.52,78.9L594.36,76.5L594.36,71.7ZM602.67,76.5L606.83,78.9L606.83,83.7L602.67,86.1L598.52,83.7L598.52,78.9ZM598.52,83.7L602.67,86.1L602.67,90.9L598.52,93.3L594.36,90.9L594.36,86.1ZM602.67,90.9L606.83,93.3L606.83,98.1L602.67,100.5L598.52,98.1L598.52,93.3ZM598.52,98.1L602.67,100.5L602.67,105.3L598.52,107.7L594.36,105.3L594.36,100.5ZM602.67,105.3L606.83,107.7L606.83,112.5L602.67,114.9L598.52,112.5L598.52,107.7ZM598.52,112.5L602.67,114.9L602.67,119.7L598.52,122.1L594.36,119.7L594.36,114.9ZM602.67,119.7L606.83,122.1L606.83,126.9L602.67,129.3L598.52,126.9L598.52,122.1ZM598.52,126.9L602.67,129.3L602.67,134.1L598.52,136.5L594.36,134.1L594.36,129.3ZM602.67,134.1L606.83,136.5L606.83,141.3L602.67,143.7L598.52,141.3L598.52,136.5ZM610.99,62.1L615.14,64.5L615.14,69.3L610.99,71.7L606.83,69.3L606.83,64.5ZM606.83,69.3L610.99,71.7L610.99,76.5L606.83,78.9L602.67,76.5L602.67,71.7ZM610.99,76.5L615.14,78.9L615.14,83.7L610.99,86.1L606.83,83.7L606.83,78.9ZM606.83,83.7L610.99,86.1L610.99,90.9L606.83,93.3L602.67,90.9L602.67,86.1ZM610.99,90.9L615.14,93.3L615.14,98.1L610.99,100.5L606.83,98.1L606.83,93.3ZM606.83,98.1L610.99,100.5L610.99,105.3L606.83,107.7L602.67,105.3L602.67,100.5ZM610.99,105.3L615.14,107.7L615.14,112.5L610.99,114.9L606.83,112.5L606.83,107.7ZM606.83,112.5L610.99,114.9L610.99,119.7L606.83,122.1L602.67,119.7L602.67,114.9ZM610.99,119.7L615.14,122.1L615.14,126.9L610.99,129.3L606.83,126.9L606.83,122.1ZM606.83,126.9L610.99,129.3L610.99,134.1L606.83,136.5L602.67,134.1L602.67,129.3ZM610.99,134.1L615.14,136.5L615.14,141.3L610.99,143.7L606.83,141.3L606.83,136.5ZM619.3,62.1L623.46,64.5L623.46,69.3L619.3,71.7L615.14,69.3L615.14,64.5ZM615.14,69.3L619.3,71.7L619.3,76.5L615.14,78.9L610.99,76.5L610.99,71.7ZM619.3,76.5L623.46,78.9L623.46,83.7L619.3,86.1L615.14,83.7L615.14,78.9ZM615.14,83.7L619.3,86.1L619.3,90.9L615.14,93.3L610.99,90.9L610.99,86.1ZM619.3,90.9L623.46,93.3L623.46,98.1L619.3,100.5L615.14,98.1L615.14,93.3ZM615.14,98.1L619.3,100.5L619.3,105.3L615.14,107.7L610.99,105.3L610.99,100.5ZM619.3,105.3L623.46,107.7L623.46,112.5L619.3,114.9L615.14,112.5L615.14,107.7ZM615.14,112.5L619.3,114.9L619.3,119.7L615.14,122.1L610.99,119.7L610.99,114.9ZM619.3,119.7L623.46,122.1L623.46,126.9L619.3,129.3L615.14,126.9L615.14,122.1ZM615.14,126.9L619.3,129.3L619.3,134.1L615.14,136.5L610.99,134.1L610.99,129.3ZM619.3,134.1L623.46,136.5L623.46,141.3L619.3,143.7L615.14,141.3L615.14,136.5ZM627.61,62.1L631.77,64.5L631.77,69.3L627.61,71.7L623.46,69.3L623.46,64.5ZM623.46,69.3L627.61,71.7L627.61,76.5L623.46,78.9L619.3,76.5L619.3,71.7ZM627.61,76.5L631.77,78.9L631.77,83.7L627.61,86.1L623.46,83.7L623.46,78.9ZM623.46,83.7L627.61,86.1L627.61,90.9L623.46,93.3L619.3,90.9L619.3,86.1ZM627.61,90.9L631.77,93.3L631.77,98.1L627.61,100.5L623.46,98.1L623.46,93.3ZM623.46,98.1L627.61,100.5L627.61,105.3L623.46,107.7L619.3,105.3L619.3,100.5ZM627.61,105.3L631.77,107.7L631.77,112.5L627.61,114.9L623.46,112.5L623.46,107.7ZM623.46,112.5L627.61,114.9L627.61,119.7L623.46,122.1L619.3,119.7L619.3,114.9ZM627.61,119.7L631.77,122.1L631.77,126.9L627.61,129.3L623.46,126.9L623.46,122.1ZM623.46,126.9L627.61,129.3L627.61,134.1L623.46,136.5L619.3,134.1L619.3,129.3ZM627.61,134.1L631.77,136.5L631.77,141.3L627.61,143.7L623.46,141.3L623.46,136.5ZM635.93,62.1L640.08,64.5L640.08,69.3L635.93,71.7L631.77,69.3L631.77,64.5ZM631.77,69.3L635.93,71.7L635.93,76.5L631.77,78.9L627.61,76.5L627.61,71.7ZM635.93,76.5L640.08,78.9L640.08,83.7L635.93,86.1L631.77,83.7L631.77,78.9ZM631.77,83.7L635.93,86.1L635.93,90.9L631.77,93.3L627.61,90.9L627.61,86.1ZM635.93,90.9L640.08,93.3L640.08,98.1L635.93,100.5L631.77,98.1L631.77,93.3ZM631.77,98.1L635.93,100.5L635.93,105.3L631.77,107.7L627.61,105.3L627.61,100.5ZM635.93,105.3L640.08,107.7L640.08,112.5L635.93,114.9L631.77,112.5L631.77,107.7ZM631.77,112.5L635.93,114.9L635.93,119.7L631.77,122.1L627.61,119.7L627.61,114.9ZM635.93,119.7L640.08,122.1L640.08,126.9L635.93,129.3L631.77,126.9L631.77,122.1ZM631.77,126.9L635.93,129.3L635.93,134.1L631.77,136.5L627.61,134.1L627.61,129.3ZM635.93,134.1L640.08,136.5L640.08,141.3L635.93,143.7L631.77,141.3L631.77,136.5ZM644.24,62.1L648.4,64.5L648.4,69.3L644.24,71.7L640.08,69.3L640.08,64.5ZM640.08,69.3L644.24,71.7L644.24,76.5L640.08,78.9L635.93,76.5L635.93,71.7ZM644.24,76.5L648.4,78.9L648.4,83.7L644.24,86.1L640.08,83.7L640.08,78.9ZM640.08,83.7L644.24,86.1L644.24,90.9L640.08,93.3L635.93,90.9L635.93,86.1ZM644.24,90.9L648.4,93.3L648.4,98.1L644.24,100.5L640.08,98.1L640.08,93.3ZM640.08,98.1L644.24,100.5L644.24,105.3L640.08,107.7L635.93,105.3L635.93,100.5ZM644.24,105.3L648.4,107.7L648.4,112.5L644.24,114.9L640.08,112.5L640.08,107.7ZM640.08,112.5L644.24,114.9L644.24,119.7L640.08,122.1L635.93,119.7L635.93,114.9ZM644.24,119.7L648.4,122.1L648.4,126.9L644.24,129.3L640.08,126.9L640.08,122.1ZM640.08,126.9L644.24,129.3L644.24,134.1L640.08,136.5L635.93,134.1L635.93,129.3ZM644.24,134.1L648.4,136.5L648.4,141.3L644.24,143.7L640.08,141.3L640.08,136.5ZM652.56,62.1L656.71,64.5L656.71,69.3L652.56,71.7L648.4,69.3L648.4,64.5ZM648.4,69.3L652.56,71.7L652.56,76.5L648.4,78.9L644.24,76.5L644.24,71.7ZM652.56,76.5L656.71,78.9L656.71,83.7L652.56,86.1L648.4,83.7L648.4,78.9ZM648.4,83.7L652.56,86.1L652.56,90.9L648.4,93.3L644.24,90.9L644.24,86.1ZM652.56,90.9L656.71,93.3L656.71,98.1L652.56,100.5L648.4,98.1L648.4,93.3ZM648.4,98.1L652.56,100.5L652.56,105.3L648.4,107.7L644.24,105.3L644.24,100.5ZM652.56,105.3L656.71,107.7L656.71,112.5L652.56,114.9L648.4,112.5L648.4,107.7ZM648.4,112.5L652.56,114.9L652.56,119.7L648.4,122.1L644.24,119.7L644.24,114.9ZM652.56,119.7L656.71,122.1L656.71,126.9L652.56,129.3L648.4,126.9L648.4,122.1ZM648.4,126.9L652.56,129.3L652.56,134.1L648.4,136.5L644.24,134.1L644.24,129.3ZM652.56,134.1L656.71,136.5L656.71,141.3L652.56,143.7L648.4,141.3L648.4,136.5ZM660.87,62.1L665.03,64.5L665.03,69.3L660.87,71.7L656.71,69.3L656.71,64.5ZM656.71,69.3L660.87,71.7L660.87,76.5L656.71,78.9L652.56,76.5L652.56,71.7ZM660.87,76.5L665.03,78.9L665.03,83.7L660.87,86.1L656.71,83.7L656.71,78.9ZM656.71,83.7L660.87,86.1L660.87,90.9L656.71,93.3L652.56,90.9L652.56,86.1ZM660.87,90.9L665.03,93.3L665.03,98.1L660.87,100.5L656.71,98.1L656.71,93.3ZM656.71,98.1L660.87,100.5L660.87,105.3L656.71,107.7L652.56,105.3L652.56,100.5ZM660.87,105.3L665.03,107.7L665.03,112.5L660.87,114.9L656.71,112.5L656.71,107.7ZM656.71,112.5L660.87,114.9L660.87,119.7L656.71,122.1L652.56,119.7L652.56,114.9ZM660.87,119.7L665.03,122.1L665.03,126.9L660.87,129.3L656.71,126.9L656.71,122.1ZM656.71,126.9L660.87,129.3L660.87,134.1L656.71,136.5L652.56,134.1L652.56,129.3ZM660.87,134.1L665.03,136.5L665.03,141.3L660.87,143.7L656.71,141.3L656.71,136.5ZM669.18,62.1L673.34,64.5L673.34,69.3L669.18,71.7L665.03,69.3L665.03,64.5ZM665.03,69.3L669.18,71.7L669.18,76.5L665.03,78.9L660.87,76.5L660.87,71.7ZM669.18,76.5L673.34,78.9L673.34,83.7L669.18,86.1L665.03,83.7L665.03,78.9ZM665.03,83.7L669.18,86.1L669.18,90.9L665.03,93.3L660.87,90.9L660.87,86.1ZM669.18,90.9L673.34,93.3L673.34,98.1L669.18,100.5L665.03,98.1L665.03,93.3ZM665.03,98.1L669.18,100.5L669.18,105.3L665.03,107.7L660.87,105.3L660.87,100.5ZM669.18,105.3L673.34,107.7L673.34,112.5L669.18,114.9L665.03,112.5L665.03,107.7ZM665.03,112.5L669.18,114.9L669.18,119.7L665.03,122.1L660.87,119.7L660.87,114.9ZM669.18,119.7L673.34,122.1L673.34,126.9L669.18,129.3L665.03,126.9L665.03,122.1ZM665.03,126.9L669.18,129.3L669.18,134.1L665.03,136.5L660.87,134.1L660.87,129.3ZM669.18,134.1L673.34,136.5L673.34,141.3L669.18,143.7L665.03,141.3L665.03,136.5ZM677.5,62.1L681.65,64.5L681.65,69.3L677.5,71.7L673.34,69.3L673.34,64.5ZM673.34,69.3L677.5,71.7L677.5,76.5L673.34,78.9L669.18,76.5L669.18,71.7ZM677.5,76.5L681.65,78.9L681.65,83.7L677.5,86.1L673.34,83.7L673.34,78.9ZM673.34,83.7L677.5,86.1L677.5,90.9L673.34,93.3L669.18,90.9L669.18,86.1ZM677.5,90.9L681.65,93.3L681.65,98.1L677.5,100.5L673.34,98.1L673.34,93.3ZM673.34,98.1L677.5,100.5L677.5,105.3L673.34,107.7L669.18,105.3L669.18,100.5ZM677.5,105.3L681.65,107.7L681.65,112.5L677.5,114.9L673.34,112.5L673.34,107.7ZM673.34,112.5L677.5,114.9L677.5,119.7L673.34,122.1L669.18,119.7L669.18,114.9ZM677.5,119.7L681.65,122.1L681.65,126.9L677.5,129.3L673.34,126.9L673.34,122.1ZM673.34,126.9L677.5,129.3L677.5,134.1L673.34,136.5L669.18,134.1L669.18,129.3ZM677.5,134.1L681.65,136.5L681.65,141.3L677.5,143.7L673.34,141.3L673.34,136.5ZM685.81,62.1L689.97,64.5L689.97,69.3L685.81,71.7L681.65,69.3L681.65,64.5ZM681.65,69.3L685.81,71.7L685.81,76.5L681.65,78.9L677.5,76.5L677.5,71.7ZM685.81,76.5L689.97,78.9L689.97,83.7L685.81,86.1L681.65,83.7L681.65,78.9ZM681.65,83.7L685.81,86.1L685.81,90.9L681.65,93.3L677.5,90.9L677.5,86.1ZM685.81,90.9L689.97,93.3L689.97,98.1L685.81,100.5L681.65,98.1L681.65,93.3ZM681.65,98.1L685.81,100.5L685.81,105.3L681.65,107.7L677.5,105.3L677.5,100.5ZM685.81,105.3L689.97,107.7L689.97,112.5L685.81,114.9L681.65,112.5L681.65,107.7ZM681.65,112.5L685.81,114.9L685.81,119.7L681.65,122.1L677.5,119.7L677.5,114.9ZM685.81,119.7L689.97,122.1L689.97,126.9L685.81,129.3L681.65,126.9L681.65,122.1ZM681.65,126.9L685.81,129.3L685.81,134.1L681.65,136.5L677.5,134.1L677.5,129.3ZM685.81,134.1L689.97,136.5L689.97,141.3L685.81,143.7L681.65,141.3L681.65,136.5Z" fill="none" stroke="#2a2a2a" stroke-width="1.1"/>
<line x1="619.3" y1="102.9" x2="615.78" y2="100.02" stroke="#d8e650" stroke-width="0.8"/>
<circle cx="614.9" cy="99.3" r="1.0" fill="#d2e03a"/>
<line x1="619.3" y1="102.9" x2="622.82" y2="100.02" stroke="#d8e650" stroke-width="0.8"/>
<circle cx="623.7" cy="99.3" r="1.0" fill="#d2e03a"/>
<line x1="619.3" y1="102.9" x2="615.78" y2="105.78" stroke="#d8e650" stroke-width="0.8"/>
<circle cx="614.9" cy="106.5" r="1.0" fill="#d2e03a"/>
<line x1="619.3" y1="102.9" x2="622.82" y2="105.78" stroke="#d8e650" stroke-width="0.8"/>
<circle cx="623.7" cy="106.5" r="1.0" fill="#d2e03a"/>
<rect x="617.8" y="101.4" width="3" height="3" fill="#d88020"/>
</g>
<clipPath id="ti3"><rect x="644.6" y="92" width="34.4" height="22.6"/></clipPath>
<rect x="644.6" y="92" width="34.4" height="22.6" fill="#fff" filter="url(#tshadow)"/>
<g clip-path="url(#ti3)">
<path d="M606.12,62.1L610.27,64.5L610.27,69.3L606.12,71.7L601.96,69.3L601.96,64.5ZM601.96,69.3L606.12,71.7L606.12,76.5L601.96,78.9L597.8,76.5L597.8,71.7ZM606.12,76.5L610.27,78.9L610.27,83.7L606.12,86.1L601.96,83.7L601.96,78.9ZM601.96,83.7L606.12,86.1L606.12,90.9L601.96,93.3L597.8,90.9L597.8,86.1ZM606.12,90.9L610.27,93.3L610.27,98.1L606.12,100.5L601.96,98.1L601.96,93.3ZM601.96,98.1L606.12,100.5L606.12,105.3L601.96,107.7L597.8,105.3L597.8,100.5ZM606.12,105.3L610.27,107.7L610.27,112.5L606.12,114.9L601.96,112.5L601.96,107.7ZM601.96,112.5L606.12,114.9L606.12,119.7L601.96,122.1L597.8,119.7L597.8,114.9ZM606.12,119.7L610.27,122.1L610.27,126.9L606.12,129.3L601.96,126.9L601.96,122.1ZM601.96,126.9L606.12,129.3L606.12,134.1L601.96,136.5L597.8,134.1L597.8,129.3ZM606.12,134.1L610.27,136.5L610.27,141.3L606.12,143.7L601.96,141.3L601.96,136.5ZM614.43,62.1L618.59,64.5L618.59,69.3L614.43,71.7L610.27,69.3L610.27,64.5ZM610.27,69.3L614.43,71.7L614.43,76.5L610.27,78.9L606.12,76.5L606.12,71.7ZM614.43,76.5L618.59,78.9L618.59,83.7L614.43,86.1L610.27,83.7L610.27,78.9ZM610.27,83.7L614.43,86.1L614.43,90.9L610.27,93.3L606.12,90.9L606.12,86.1ZM614.43,90.9L618.59,93.3L618.59,98.1L614.43,100.5L610.27,98.1L610.27,93.3ZM610.27,98.1L614.43,100.5L614.43,105.3L610.27,107.7L606.12,105.3L606.12,100.5ZM614.43,105.3L618.59,107.7L618.59,112.5L614.43,114.9L610.27,112.5L610.27,107.7ZM610.27,112.5L614.43,114.9L614.43,119.7L610.27,122.1L606.12,119.7L606.12,114.9ZM614.43,119.7L618.59,122.1L618.59,126.9L614.43,129.3L610.27,126.9L610.27,122.1ZM610.27,126.9L614.43,129.3L614.43,134.1L610.27,136.5L606.12,134.1L606.12,129.3ZM614.43,134.1L618.59,136.5L618.59,141.3L614.43,143.7L610.27,141.3L610.27,136.5ZM622.74,62.1L626.9,64.5L626.9,69.3L622.74,71.7L618.59,69.3L618.59,64.5ZM618.59,69.3L622.74,71.7L622.74,76.5L618.59,78.9L614.43,76.5L614.43,71.7ZM622.74,76.5L626.9,78.9L626.9,83.7L622.74,86.1L618.59,83.7L618.59,78.9ZM618.59,83.7L622.74,86.1L622.74,90.9L618.59,93.3L614.43,90.9L614.43,86.1ZM622.74,90.9L626.9,93.3L626.9,98.1L622.74,100.5L618.59,98.1L618.59,93.3ZM618.59,98.1L622.74,100.5L622.74,105.3L618.59,107.7L614.43,105.3L614.43,100.5ZM622.74,105.3L626.9,107.7L626.9,112.5L622.74,114.9L618.59,112.5L618.59,107.7ZM618.59,112.5L622.74,114.9L622.74,119.7L618.59,122.1L614.43,119.7L614.43,114.9ZM622.74,119.7L626.9,122.1L626.9,126.9L622.74,129.3L618.59,126.9L618.59,122.1ZM618.59,126.9L622.74,129.3L622.74,134.1L618.59,136.5L614.43,134.1L614.43,129.3ZM622.74,134.1L626.9,136.5L626.9,141.3L622.74,143.7L618.59,141.3L618.59,136.5ZM631.06,62.1L635.22,64.5L635.22,69.3L631.06,71.7L626.9,69.3L626.9,64.5ZM626.9,69.3L631.06,71.7L631.06,76.5L626.9,78.9L622.74,76.5L622.74,71.7ZM631.06,76.5L635.22,78.9L635.22,83.7L631.06,86.1L626.9,83.7L626.9,78.9ZM626.9,83.7L631.06,86.1L631.06,90.9L626.9,93.3L622.74,90.9L622.74,86.1ZM631.06,90.9L635.22,93.3L635.22,98.1L631.06,100.5L626.9,98.1L626.9,93.3ZM626.9,98.1L631.06,100.5L631.06,105.3L626.9,107.7L622.74,105.3L622.74,100.5ZM631.06,105.3L635.22,107.7L635.22,112.5L631.06,114.9L626.9,112.5L626.9,107.7ZM626.9,112.5L631.06,114.9L631.06,119.7L626.9,122.1L622.74,119.7L622.74,114.9ZM631.06,119.7L635.22,122.1L635.22,126.9L631.06,129.3L626.9,126.9L626.9,122.1ZM626.9,126.9L631.06,129.3L631.06,134.1L626.9,136.5L622.74,134.1L622.74,129.3ZM631.06,134.1L635.22,136.5L635.22,141.3L631.06,143.7L626.9,141.3L626.9,136.5ZM639.37,62.1L643.53,64.5L643.53,69.3L639.37,71.7L635.22,69.3L635.22,64.5ZM635.22,69.3L639.37,71.7L639.37,76.5L635.22,78.9L631.06,76.5L631.06,71.7ZM639.37,76.5L643.53,78.9L643.53,83.7L639.37,86.1L635.22,83.7L635.22,78.9ZM635.22,83.7L639.37,86.1L639.37,90.9L635.22,93.3L631.06,90.9L631.06,86.1ZM639.37,90.9L643.53,93.3L643.53,98.1L639.37,100.5L635.22,98.1L635.22,93.3ZM635.22,98.1L639.37,100.5L639.37,105.3L635.22,107.7L631.06,105.3L631.06,100.5ZM639.37,105.3L643.53,107.7L643.53,112.5L639.37,114.9L635.22,112.5L635.22,107.7ZM635.22,112.5L639.37,114.9L639.37,119.7L635.22,122.1L631.06,119.7L631.06,114.9ZM639.37,119.7L643.53,122.1L643.53,126.9L639.37,129.3L635.22,126.9L635.22,122.1ZM635.22,126.9L639.37,129.3L639.37,134.1L635.22,136.5L631.06,134.1L631.06,129.3ZM639.37,134.1L643.53,136.5L643.53,141.3L639.37,143.7L635.22,141.3L635.22,136.5ZM647.69,62.1L651.84,64.5L651.84,69.3L647.69,71.7L643.53,69.3L643.53,64.5ZM643.53,69.3L647.69,71.7L647.69,76.5L643.53,78.9L639.37,76.5L639.37,71.7ZM647.69,76.5L651.84,78.9L651.84,83.7L647.69,86.1L643.53,83.7L643.53,78.9ZM643.53,83.7L647.69,86.1L647.69,90.9L643.53,93.3L639.37,90.9L639.37,86.1ZM647.69,90.9L651.84,93.3L651.84,98.1L647.69,100.5L643.53,98.1L643.53,93.3ZM643.53,98.1L647.69,100.5L647.69,105.3L643.53,107.7L639.37,105.3L639.37,100.5ZM647.69,105.3L651.84,107.7L651.84,112.5L647.69,114.9L643.53,112.5L643.53,107.7ZM643.53,112.5L647.69,114.9L647.69,119.7L643.53,122.1L639.37,119.7L639.37,114.9ZM647.69,119.7L651.84,122.1L651.84,126.9L647.69,129.3L643.53,126.9L643.53,122.1ZM643.53,126.9L647.69,129.3L647.69,134.1L643.53,136.5L639.37,134.1L639.37,129.3ZM647.69,134.1L651.84,136.5L651.84,141.3L647.69,143.7L643.53,141.3L643.53,136.5ZM656,62.1L660.16,64.5L660.16,69.3L656,71.7L651.84,69.3L651.84,64.5ZM651.84,69.3L656,71.7L656,76.5L651.84,78.9L647.69,76.5L647.69,71.7ZM656,76.5L660.16,78.9L660.16,83.7L656,86.1L651.84,83.7L651.84,78.9ZM651.84,83.7L656,86.1L656,90.9L651.84,93.3L647.69,90.9L647.69,86.1ZM656,90.9L660.16,93.3L660.16,98.1L656,100.5L651.84,98.1L651.84,93.3ZM651.84,98.1L656,100.5L656,105.3L651.84,107.7L647.69,105.3L647.69,100.5ZM656,105.3L660.16,107.7L660.16,112.5L656,114.9L651.84,112.5L651.84,107.7ZM651.84,112.5L656,114.9L656,119.7L651.84,122.1L647.69,119.7L647.69,114.9ZM656,119.7L660.16,122.1L660.16,126.9L656,129.3L651.84,126.9L651.84,122.1ZM651.84,126.9L656,129.3L656,134.1L651.84,136.5L647.69,134.1L647.69,129.3ZM656,134.1L660.16,136.5L660.16,141.3L656,143.7L651.84,141.3L651.84,136.5ZM664.31,62.1L668.47,64.5L668.47,69.3L664.31,71.7L660.16,69.3L660.16,64.5ZM660.16,69.3L664.31,71.7L664.31,76.5L660.16,78.9L656,76.5L656,71.7ZM664.31,76.5L668.47,78.9L668.47,83.7L664.31,86.1L660.16,83.7L660.16,78.9ZM660.16,83.7L664.31,86.1L664.31,90.9L660.16,93.3L656,90.9L656,86.1ZM664.31,90.9L668.47,93.3L668.47,98.1L664.31,100.5L660.16,98.1L660.16,93.3ZM660.16,98.1L664.31,100.5L664.31,105.3L660.16,107.7L656,105.3L656,100.5ZM664.31,105.3L668.47,107.7L668.47,112.5L664.31,114.9L660.16,112.5L660.16,107.7ZM660.16,112.5L664.31,114.9L664.31,119.7L660.16,122.1L656,119.7L656,114.9ZM664.31,119.7L668.47,122.1L668.47,126.9L664.31,129.3L660.16,126.9L660.16,122.1ZM660.16,126.9L664.31,129.3L664.31,134.1L660.16,136.5L656,134.1L656,129.3ZM664.31,134.1L668.47,136.5L668.47,141.3L664.31,143.7L660.16,141.3L660.16,136.5ZM672.63,62.1L676.78,64.5L676.78,69.3L672.63,71.7L668.47,69.3L668.47,64.5ZM668.47,69.3L672.63,71.7L672.63,76.5L668.47,78.9L664.31,76.5L664.31,71.7ZM672.63,76.5L676.78,78.9L676.78,83.7L672.63,86.1L668.47,83.7L668.47,78.9ZM668.47,83.7L672.63,86.1L672.63,90.9L668.47,93.3L664.31,90.9L664.31,86.1ZM672.63,90.9L676.78,93.3L676.78,98.1L672.63,100.5L668.47,98.1L668.47,93.3ZM668.47,98.1L672.63,100.5L672.63,105.3L668.47,107.7L664.31,105.3L664.31,100.5ZM672.63,105.3L676.78,107.7L676.78,112.5L672.63,114.9L668.47,112.5L668.47,107.7ZM668.47,112.5L672.63,114.9L672.63,119.7L668.47,122.1L664.31,119.7L664.31,114.9ZM672.63,119.7L676.78,122.1L676.78,126.9L672.63,129.3L668.47,126.9L668.47,122.1ZM668.47,126.9L672.63,129.3L672.63,134.1L668.47,136.5L664.31,134.1L664.31,129.3ZM672.63,134.1L676.78,136.5L676.78,141.3L672.63,143.7L668.47,141.3L668.47,136.5ZM680.94,62.1L685.1,64.5L685.1,69.3L680.94,71.7L676.78,69.3L676.78,64.5ZM676.78,69.3L680.94,71.7L680.94,76.5L676.78,78.9L672.63,76.5L672.63,71.7ZM680.94,76.5L685.1,78.9L685.1,83.7L680.94,86.1L676.78,83.7L676.78,78.9ZM676.78,83.7L680.94,86.1L680.94,90.9L676.78,93.3L672.63,90.9L672.63,86.1ZM680.94,90.9L685.1,93.3L685.1,98.1L680.94,100.5L676.78,98.1L676.78,93.3ZM676.78,98.1L680.94,100.5L680.94,105.3L676.78,107.7L672.63,105.3L672.63,100.5ZM680.94,105.3L685.1,107.7L685.1,112.5L680.94,114.9L676.78,112.5L676.78,107.7ZM676.78,112.5L680.94,114.9L680.94,119.7L676.78,122.1L672.63,119.7L672.63,114.9ZM680.94,119.7L685.1,122.1L685.1,126.9L680.94,129.3L676.78,126.9L676.78,122.1ZM676.78,126.9L680.94,129.3L680.94,134.1L676.78,136.5L672.63,134.1L672.63,129.3ZM680.94,134.1L685.1,136.5L685.1,141.3L680.94,143.7L676.78,141.3L676.78,136.5ZM689.26,62.1L693.41,64.5L693.41,69.3L689.26,71.7L685.1,69.3L685.1,64.5ZM685.1,69.3L689.26,71.7L689.26,76.5L685.1,78.9L680.94,76.5L680.94,71.7ZM689.26,76.5L693.41,78.9L693.41,83.7L689.26,86.1L685.1,83.7L685.1,78.9ZM685.1,83.7L689.26,86.1L689.26,90.9L685.1,93.3L680.94,90.9L680.94,86.1ZM689.26,90.9L693.41,93.3L693.41,98.1L689.26,100.5L685.1,98.1L685.1,93.3ZM685.1,98.1L689.26,100.5L689.26,105.3L685.1,107.7L680.94,105.3L680.94,100.5ZM689.26,105.3L693.41,107.7L693.41,112.5L689.26,114.9L685.1,112.5L685.1,107.7ZM685.1,112.5L689.26,114.9L689.26,119.7L685.1,122.1L680.94,119.7L680.94,114.9ZM689.26,119.7L693.41,122.1L693.41,126.9L689.26,129.3L685.1,126.9L685.1,122.1ZM685.1,126.9L689.26,129.3L689.26,134.1L685.1,136.5L680.94,134.1L680.94,129.3ZM689.26,134.1L693.41,136.5L693.41,141.3L689.26,143.7L685.1,141.3L685.1,136.5ZM697.57,62.1L701.73,64.5L701.73,69.3L697.57,71.7L693.41,69.3L693.41,64.5ZM693.41,69.3L697.57,71.7L697.57,76.5L693.41,78.9L689.26,76.5L689.26,71.7ZM697.57,76.5L701.73,78.9L701.73,83.7L697.57,86.1L693.41,83.7L693.41,78.9ZM693.41,83.7L697.57,86.1L697.57,90.9L693.41,93.3L689.26,90.9L689.26,86.1ZM697.57,90.9L701.73,93.3L701.73,98.1L697.57,100.5L693.41,98.1L693.41,93.3ZM693.41,98.1L697.57,100.5L697.57,105.3L693.41,107.7L689.26,105.3L689.26,100.5ZM697.57,105.3L701.73,107.7L701.73,112.5L697.57,114.9L693.41,112.5L693.41,107.7ZM693.41,112.5L697.57,114.9L697.57,119.7L693.41,122.1L689.26,119.7L689.26,114.9ZM697.57,119.7L701.73,122.1L701.73,126.9L697.57,129.3L693.41,126.9L693.41,122.1ZM693.41,126.9L697.57,129.3L697.57,134.1L693.41,136.5L689.26,134.1L689.26,129.3ZM697.57,134.1L701.73,136.5L701.73,141.3L697.57,143.7L693.41,141.3L693.41,136.5ZM705.88,62.1L710.04,64.5L710.04,69.3L705.88,71.7L701.73,69.3L701.73,64.5ZM701.73,69.3L705.88,71.7L705.88,76.5L701.73,78.9L697.57,76.5L697.57,71.7ZM705.88,76.5L710.04,78.9L710.04,83.7L705.88,86.1L701.73,83.7L701.73,78.9ZM701.73,83.7L705.88,86.1L705.88,90.9L701.73,93.3L697.57,90.9L697.57,86.1ZM705.88,90.9L710.04,93.3L710.04,98.1L705.88,100.5L701.73,98.1L701.73,93.3ZM701.73,98.1L705.88,100.5L705.88,105.3L701.73,107.7L697.57,105.3L697.57,100.5ZM705.88,105.3L710.04,107.7L710.04,112.5L705.88,114.9L701.73,112.5L701.73,107.7ZM701.73,112.5L705.88,114.9L705.88,119.7L701.73,122.1L697.57,119.7L697.57,114.9ZM705.88,119.7L710.04,122.1L710.04,126.9L705.88,129.3L701.73,126.9L701.73,122.1ZM701.73,126.9L705.88,129.3L705.88,134.1L701.73,136.5L697.57,134.1L697.57,129.3ZM705.88,134.1L710.04,136.5L710.04,141.3L705.88,143.7L701.73,141.3L701.73,136.5ZM714.2,62.1L718.35,64.5L718.35,69.3L714.2,71.7L710.04,69.3L710.04,64.5ZM710.04,69.3L714.2,71.7L714.2,76.5L710.04,78.9L705.88,76.5L705.88,71.7ZM714.2,76.5L718.35,78.9L718.35,83.7L714.2,86.1L710.04,83.7L710.04,78.9ZM710.04,83.7L714.2,86.1L714.2,90.9L710.04,93.3L705.88,90.9L705.88,86.1ZM714.2,90.9L718.35,93.3L718.35,98.1L714.2,100.5L710.04,98.1L710.04,93.3ZM710.04,98.1L714.2,100.5L714.2,105.3L710.04,107.7L705.88,105.3L705.88,100.5ZM714.2,105.3L718.35,107.7L718.35,112.5L714.2,114.9L710.04,112.5L710.04,107.7ZM710.04,112.5L714.2,114.9L714.2,119.7L710.04,122.1L705.88,119.7L705.88,114.9ZM714.2,119.7L718.35,122.1L718.35,126.9L714.2,129.3L710.04,126.9L710.04,122.1ZM710.04,126.9L714.2,129.3L714.2,134.1L710.04,136.5L705.88,134.1L705.88,129.3ZM714.2,134.1L718.35,136.5L718.35,141.3L714.2,143.7L710.04,141.3L710.04,136.5ZM722.51,62.1L726.67,64.5L726.67,69.3L722.51,71.7L718.35,69.3L718.35,64.5ZM718.35,69.3L722.51,71.7L722.51,76.5L718.35,78.9L714.2,76.5L714.2,71.7ZM722.51,76.5L726.67,78.9L726.67,83.7L722.51,86.1L718.35,83.7L718.35,78.9ZM718.35,83.7L722.51,86.1L722.51,90.9L718.35,93.3L714.2,90.9L714.2,86.1ZM722.51,90.9L726.67,93.3L726.67,98.1L722.51,100.5L718.35,98.1L718.35,93.3ZM718.35,98.1L722.51,100.5L722.51,105.3L718.35,107.7L714.2,105.3L714.2,100.5ZM722.51,105.3L726.67,107.7L726.67,112.5L722.51,114.9L718.35,112.5L718.35,107.7ZM718.35,112.5L722.51,114.9L722.51,119.7L718.35,122.1L714.2,119.7L714.2,114.9ZM722.51,119.7L726.67,122.1L726.67,126.9L722.51,129.3L718.35,126.9L718.35,122.1ZM718.35,126.9L722.51,129.3L722.51,134.1L718.35,136.5L714.2,134.1L714.2,129.3ZM722.51,134.1L726.67,136.5L726.67,141.3L722.51,143.7L718.35,141.3L718.35,136.5Z" fill="none" stroke="#2a2a2a" stroke-width="1.1"/>
<line x1="656" y1="102.9" x2="652.48" y2="100.02" stroke="#d8e650" stroke-width="0.8"/>
<circle cx="651.6" cy="99.3" r="1.0" fill="#d2e03a"/>
<line x1="656" y1="102.9" x2="659.52" y2="100.02" stroke="#d8e650" stroke-width="0.8"/>
<circle cx="660.4" cy="99.3" r="1.0" fill="#d2e03a"/>
<line x1="656" y1="102.9" x2="652.48" y2="105.78" stroke="#d8e650" stroke-width="0.8"/>
<circle cx="651.6" cy="106.5" r="1.0" fill="#d2e03a"/>
<line x1="656" y1="102.9" x2="659.52" y2="105.78" stroke="#d8e650" stroke-width="0.8"/>
<circle cx="660.4" cy="106.5" r="1.0" fill="#d2e03a"/>
<rect x="654.5" y="101.4" width="3" height="3" fill="#d88020"/>
<line x1="667.6" y1="102.9" x2="664.08" y2="100.02" stroke="#d8e650" stroke-width="0.8"/>
<circle cx="663.2" cy="99.3" r="1.0" fill="#d2e03a"/>
<line x1="667.6" y1="102.9" x2="671.12" y2="100.02" stroke="#d8e650" stroke-width="0.8"/>
<circle cx="672" cy="99.3" r="1.0" fill="#d2e03a"/>
<line x1="667.6" y1="102.9" x2="664.08" y2="105.78" stroke="#d8e650" stroke-width="0.8"/>
<circle cx="663.2" cy="106.5" r="1.0" fill="#d2e03a"/>
<line x1="667.6" y1="102.9" x2="671.12" y2="105.78" stroke="#d8e650" stroke-width="0.8"/>
<circle cx="672" cy="106.5" r="1.0" fill="#d2e03a"/>
<rect x="666.1" y="101.4" width="3" height="3" fill="#2a7ee6"/>
</g>
<text x="621.5" y="129.6" font-size="8.6" text-anchor="middle" fill="#222" stroke="#222" stroke-width="0.22">Coordination formation</text>
<rect x="555.9" y="147.9" width="127.3" height="387.5" fill="url(#jbg)"/>
<line x1="667.6" y1="147.9" x2="667.6" y2="535.4" stroke="#999" stroke-width="0.8" stroke-dasharray="3,2"/>
<path d="M641.3,417.3 L663.8,436.6 M635.8,430.2 L655.2,436.8 M610.1,437.4 L662.8,438.1 M664.9,440.2 L630.8,445.7" stroke="#8a8a8a" stroke-width="0.6" fill="none"/>
<path d="M630.2,445.8 L632.9,444.4 L632.6,446.9Z" fill="#777"/>
<rect x="652.5" y="434.8" width="4" height="4" fill="#dcdcdc"/>
<rect x="657.3" y="435.4" width="4" height="4" fill="#d8d8d8"/>
<rect x="661.4" y="435.3" width="4.2" height="4.2" fill="#cfcfcf"/>
<rect x="602.3" y="192" width="6.6" height="6.6" fill="#262626"/>
<rect x="615.9" y="228.1" width="7.4" height="7.4" fill="#282828"/>
<rect x="664.5" y="268.4" width="6.4" height="6.4" fill="#222"/>
<rect x="630.4" y="263.7" width="6.4" height="6.4" fill="#555"/>
<rect x="558.95" y="282.75" width="4.5" height="4.5" fill="#d0d0d0"/>
<rect x="663.1" y="304" width="5.6" height="5.6" fill="#303030"/>
<rect x="664.5" y="312.1" width="6.4" height="6.4" fill="#333"/>
<rect x="638.2" y="326" width="5" height="5" fill="#bdbdbd"/>
<rect x="644.1" y="339.8" width="5" height="5" fill="#8a8a8a"/>
<rect x="655.4" y="350.5" width="6" height="6" fill="#7a7a7a"/>
<rect x="647" y="363.1" width="5" height="5" fill="#cfcfcf"/>
<rect x="663.5" y="376.7" width="5.6" height="5.6" fill="#333"/>
<rect x="632.6" y="382.3" width="5" height="5" fill="#bdbdbd"/>
<rect x="663.5" y="424.2" width="5.6" height="5.6" fill="#666"/>
<rect x="662.6" y="437.5" width="6" height="6" fill="#777"/>
<rect x="665" y="438.6" width="6" height="6" fill="#888"/>
<rect x="638" y="453.3" width="4.2" height="4.2" fill="#dedede"/>
<rect x="638.75" y="469.25" width="4.5" height="4.5" fill="#dedede"/>
<rect x="665.05" y="496.85" width="4.5" height="4.5" fill="#dcdcdc"/>
<rect x="663.3" y="165.2" width="8.8" height="8.8" fill="#f2383e" stroke="#c82a2a" stroke-width="0.6"/>
<rect x="663.3" y="260.5" width="8.8" height="8.8" fill="#f2383e" stroke="#c82a2a" stroke-width="0.6"/>
<text x="667.7" y="181.06" font-size="6.0" text-anchor="middle" fill="#e8343a">This work</text>
<text x="667.7" y="187.96" font-size="6.0" text-anchor="middle" fill="#e8343a">CuNi-DAC</text>
<text x="667.7" y="194.86" font-size="6.0" text-anchor="middle" fill="#e8343a">(600 <tspan dy="-2.16" font-size="4.08">o</tspan><tspan dy="2.16">C)</tspan></text>
<text x="667.7" y="245.16" font-size="6.0" text-anchor="middle" fill="#e8343a">This work</text>
<text x="667.7" y="251.96" font-size="6.0" text-anchor="middle" fill="#e8343a">CuNi-DAC</text>
<text x="667.7" y="258.76" font-size="6.0" text-anchor="middle" fill="#e8343a">(500 <tspan dy="-2.16" font-size="4.08">o</tspan><tspan dy="2.16">C)</tspan></text>
<text x="605.6" y="205.52" font-size="5.6" text-anchor="middle" fill="#222">5% Co-NC</text>
<text x="605.6" y="211.62" font-size="5.6" text-anchor="middle" fill="#222">(600 <tspan dy="-2.02" font-size="3.81">o</tspan><tspan dy="2.02">C)</tspan></text>
<text x="609.1" y="242.72" font-size="5.6" text-anchor="middle" fill="#222">Cs-Ni/CeO<tspan dy="1.23" font-size="3.81">2,(reduced)</tspan></text>
<text x="609.1" y="248.62" font-size="5.6" text-anchor="middle" fill="#222">(600 <tspan dy="-2.02" font-size="3.81">o</tspan><tspan dy="2.02">C)</tspan></text>
<text x="667.7" y="280.72" font-size="5.6" text-anchor="middle" fill="#222">15CuCe</text>
<text x="667.7" y="287.02" font-size="5.6" text-anchor="middle" fill="#222">(600 <tspan dy="-2.02" font-size="3.81">o</tspan><tspan dy="2.02">C)</tspan></text>
<text x="619" y="269.32" font-size="5.6" text-anchor="middle" fill="#222">Rh@S-1</text>
<text x="619" y="275.62" font-size="5.6" text-anchor="middle" fill="#222">(500 <tspan dy="-2.02" font-size="3.81">o</tspan><tspan dy="2.02">C)</tspan></text>
<text x="581.5" y="295.32" font-size="5.6" text-anchor="middle" fill="#222">5Pt/CeO<tspan dy="1.23" font-size="3.81">2</tspan><tspan dy="-1.23">-IWP-350</tspan></text>
<text x="581.5" y="301.82" font-size="5.6" text-anchor="middle" fill="#222">(450 <tspan dy="-2.02" font-size="3.81">o</tspan><tspan dy="2.02">C)</tspan></text>
<text x="659.6" y="308.82" font-size="5.6" text-anchor="end" fill="#222">CuZnN<tspan dy="1.23" font-size="3.81">x</tspan><tspan dy="-1.23">@C-N</tspan></text>
<text x="666.7" y="324.62" font-size="5.6" text-anchor="middle" fill="#222">15Cu/Ce</text>
<text x="666.7" y="330.92" font-size="5.6" text-anchor="middle" fill="#222">(500 <tspan dy="-2.02" font-size="3.81">o</tspan><tspan dy="2.02">C)</tspan></text>
<text x="627.8" y="322.22" font-size="5.6" text-anchor="middle" fill="#222">Mo-P-Al<tspan dy="1.23" font-size="3.81">2</tspan><tspan dy="-1.23">O</tspan><tspan dy="1.23" font-size="3.81">3</tspan></text>
<text x="627.8" y="328.52" font-size="5.6" text-anchor="middle" fill="#222">(600 <tspan dy="-2.02" font-size="3.81">o</tspan><tspan dy="2.02">C)</tspan></text>
<text x="631.8" y="338.02" font-size="5.6" text-anchor="middle" fill="#222">Mo-P-CeAl</text>
<text x="632.8" y="344.32" font-size="5.6" text-anchor="middle" fill="#222">(600 <tspan dy="-2.02" font-size="3.81">o</tspan><tspan dy="2.02">C)</tspan></text>
<text x="633.8" y="354.72" font-size="5.6" text-anchor="middle" fill="#222">Pt/CeO<tspan dy="1.23" font-size="3.81">2</tspan><tspan dy="-1.23">-A.A-350</tspan></text>
<text x="633.8" y="361.02" font-size="5.6" text-anchor="middle" fill="#222">(450 <tspan dy="-2.02" font-size="3.81">o</tspan><tspan dy="2.02">C)</tspan></text>
<text x="630.8" y="371.92" font-size="5.6" text-anchor="middle" fill="#222">10% Co/CeO<tspan dy="1.23" font-size="3.81">2</tspan></text>
<text x="630.8" y="378.22" font-size="5.6" text-anchor="middle" fill="#222">(500 <tspan dy="-2.02" font-size="3.81">o</tspan><tspan dy="2.02">C)</tspan></text>
<text x="639.7" y="387.82" font-size="5.6" text-anchor="start" fill="#222">PtNiN<tspan dy="1.23" font-size="3.81">x</tspan><tspan dy="-1.23">/C/ZrO</tspan><tspan dy="1.23" font-size="3.81">2</tspan><tspan dy="-1.23">@C</tspan></text>
<text x="624.9" y="389.72" font-size="5.6" text-anchor="middle" fill="#222">Pd/SiO<tspan dy="1.23" font-size="3.81">2</tspan></text>
<text x="630.8" y="409.82" font-size="5.6" text-anchor="middle" fill="#222">Pt<tspan dy="1.23" font-size="3.81">x</tspan><tspan dy="-1.23">Co</tspan><tspan dy="1.23" font-size="3.81">y</tspan><tspan dy="-1.23">-CeO</tspan><tspan dy="1.23" font-size="3.81">2-x</tspan></text>
<text x="630.8" y="415.82" font-size="5.6" text-anchor="middle" fill="#222">(400 <tspan dy="-2.02" font-size="3.81">o</tspan><tspan dy="2.02">C)</tspan></text>
<text x="666.3" y="416.92" font-size="5.6" text-anchor="middle" fill="#222">2.5% Mo/NC</text>
<text x="666.3" y="423.22" font-size="5.6" text-anchor="middle" fill="#222">(500 <tspan dy="-2.02" font-size="3.81">o</tspan><tspan dy="2.02">C)</tspan></text>
<text x="621.9" y="425.22" font-size="5.6" text-anchor="middle" fill="#222">Ni<tspan dy="1.23" font-size="3.81">x</tspan><tspan dy="-1.23">-Fe</tspan><tspan dy="1.23" font-size="3.81">y</tspan><tspan dy="-1.23">/ZrO</tspan><tspan dy="1.23" font-size="3.81">2</tspan></text>
<text x="621.9" y="430.72" font-size="5.6" text-anchor="middle" fill="#222">(400 <tspan dy="-2.02" font-size="3.81">o</tspan><tspan dy="2.02">C)</tspan></text>
<text x="583.5" y="437.02" font-size="5.6" text-anchor="middle" fill="#222">8-Pt/Au@Pd@1Co</text>
<text x="586.5" y="443.02" font-size="5.6" text-anchor="middle" fill="#222">(400 <tspan dy="-2.02" font-size="3.81">o</tspan><tspan dy="2.02">C)</tspan></text>
<text x="614" y="447.32" font-size="5.6" text-anchor="middle" fill="#222">5% Co-NC</text>
<text x="614" y="453.22" font-size="5.6" text-anchor="middle" fill="#222">(400 <tspan dy="-2.02" font-size="3.81">o</tspan><tspan dy="2.02">C)</tspan></text>
<text x="668.2" y="450.82" font-size="5.6" text-anchor="middle" fill="#222">Fe/Cu/CeO<tspan dy="1.23" font-size="3.81">2</tspan></text>
<text x="668.2" y="456.72" font-size="5.6" text-anchor="middle" fill="#222">(400 <tspan dy="-2.02" font-size="3.81">o</tspan><tspan dy="2.02">C)</tspan></text>
<text x="615" y="461.72" font-size="5.6" text-anchor="middle" fill="#222">4-Pt/Au@Pd@1Co</text>
<text x="615" y="467.62" font-size="5.6" text-anchor="middle" fill="#222">(400 <tspan dy="-2.02" font-size="3.81">o</tspan><tspan dy="2.02">C)</tspan></text>
<text x="636.7" y="481.42" font-size="5.6" text-anchor="middle" fill="#222">Mo-P-CeAl</text>
<text x="655.4" y="502.12" font-size="5.6" text-anchor="middle" fill="#222">5In/Ce</text>
<rect x="555.9" y="147.9" width="127.3" height="387.5" fill="none" stroke="#333" stroke-width="1.2"/>
<line x1="551.5" y1="535" x2="555.9" y2="535" stroke="#333" stroke-width="0.8"/>
<text x="549.9" y="537.4" font-size="6.9" text-anchor="end" fill="#333" stroke="#333" stroke-width="0.22">0</text>
<line x1="553.6" y1="508.17" x2="555.9" y2="508.17" stroke="#333" stroke-width="0.8"/>
<line x1="551.5" y1="481.33" x2="555.9" y2="481.33" stroke="#333" stroke-width="0.8"/>
<text x="549.9" y="483.73" font-size="6.9" text-anchor="end" fill="#333" stroke="#333" stroke-width="0.22">10</text>
<line x1="553.6" y1="454.5" x2="555.9" y2="454.5" stroke="#333" stroke-width="0.8"/>
<line x1="551.5" y1="427.66" x2="555.9" y2="427.66" stroke="#333" stroke-width="0.8"/>
<text x="549.9" y="430.06" font-size="6.9" text-anchor="end" fill="#333" stroke="#333" stroke-width="0.22">20</text>
<line x1="553.6" y1="400.82" x2="555.9" y2="400.82" stroke="#333" stroke-width="0.8"/>
<line x1="551.5" y1="373.99" x2="555.9" y2="373.99" stroke="#333" stroke-width="0.8"/>
<text x="549.9" y="376.39" font-size="6.9" text-anchor="end" fill="#333" stroke="#333" stroke-width="0.22">30</text>
<line x1="553.6" y1="347.15" x2="555.9" y2="347.15" stroke="#333" stroke-width="0.8"/>
<line x1="551.5" y1="320.32" x2="555.9" y2="320.32" stroke="#333" stroke-width="0.8"/>
<text x="549.9" y="322.72" font-size="6.9" text-anchor="end" fill="#333" stroke="#333" stroke-width="0.22">40</text>
<line x1="553.6" y1="293.49" x2="555.9" y2="293.49" stroke="#333" stroke-width="0.8"/>
<line x1="551.5" y1="266.65" x2="555.9" y2="266.65" stroke="#333" stroke-width="0.8"/>
<text x="549.9" y="269.05" font-size="6.9" text-anchor="end" fill="#333" stroke="#333" stroke-width="0.22">50</text>
<line x1="553.6" y1="239.81" x2="555.9" y2="239.81" stroke="#333" stroke-width="0.8"/>
<line x1="551.5" y1="212.98" x2="555.9" y2="212.98" stroke="#333" stroke-width="0.8"/>
<text x="549.9" y="215.38" font-size="6.9" text-anchor="end" fill="#333" stroke="#333" stroke-width="0.22">60</text>
<line x1="553.6" y1="186.14" x2="555.9" y2="186.14" stroke="#333" stroke-width="0.8"/>
<line x1="551.5" y1="159.31" x2="555.9" y2="159.31" stroke="#333" stroke-width="0.8"/>
<text x="549.9" y="161.71" font-size="6.9" text-anchor="end" fill="#333" stroke="#333" stroke-width="0.22">70</text>
<line x1="572.1" y1="535.4" x2="572.1" y2="538.2" stroke="#333" stroke-width="0.8"/>
<text x="572.1" y="547.7" font-size="6.6" text-anchor="middle" fill="#333" stroke="#333" stroke-width="0.22">40</text>
<line x1="588.02" y1="535.4" x2="588.02" y2="537.3" stroke="#333" stroke-width="0.8"/>
<line x1="603.93" y1="535.4" x2="603.93" y2="538.2" stroke="#333" stroke-width="0.8"/>
<text x="603.93" y="547.7" font-size="6.6" text-anchor="middle" fill="#333" stroke="#333" stroke-width="0.22">60</text>
<line x1="619.85" y1="535.4" x2="619.85" y2="537.3" stroke="#333" stroke-width="0.8"/>
<line x1="635.77" y1="535.4" x2="635.77" y2="538.2" stroke="#333" stroke-width="0.8"/>
<text x="635.77" y="547.7" font-size="6.6" text-anchor="middle" fill="#333" stroke="#333" stroke-width="0.22">80</text>
<line x1="651.69" y1="535.4" x2="651.69" y2="537.3" stroke="#333" stroke-width="0.8"/>
<line x1="667.6" y1="535.4" x2="667.6" y2="538.2" stroke="#333" stroke-width="0.8"/>
<text x="667.6" y="547.7" font-size="6.6" text-anchor="middle" fill="#333" stroke="#333" stroke-width="0.22">100</text>
<text x="619.8" y="560.3" font-size="8.6" text-anchor="middle" fill="#222" stroke="#222" stroke-width="0.22">CO selectivity (%)</text>
<text transform="translate(535.4,342.6) rotate(-90)" font-size="8.6" text-anchor="middle" fill="#222" stroke="#222" stroke-width="0.22">CO<tspan font-size="5.5" dy="1.8">2</tspan><tspan dy="-1.8"> conversion (%)</tspan></text>
<text x="528.6" y="158.9" font-size="15" font-weight="bold" fill="#000">j</text>
</svg>
</body></html>
